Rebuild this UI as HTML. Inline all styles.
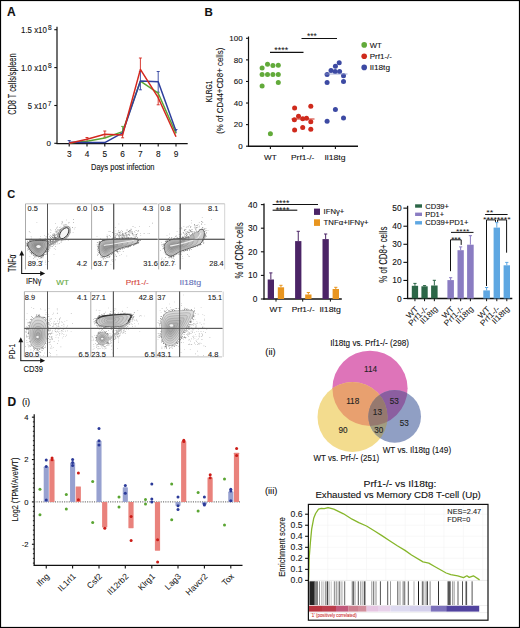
<!DOCTYPE html>
<html><head><meta charset="utf-8"><style>
html,body{margin:0;padding:0;background:#fff;}
#fig{position:absolute;left:0;top:0;width:520px;height:628px;overflow:hidden;background:#fff;}
svg{display:block;font-family:"Liberation Sans", sans-serif;}
</style></head><body><div id="fig">
<svg width="520" height="628" viewBox="0 0 520 628" fill="#111">
<rect x="0.5" y="0.5" width="519" height="627" fill="#fff" stroke="#000" stroke-width="1.2"/>
<text x="7.00" y="15.60" font-size="12.0" stroke="#111" stroke-width="0.1" font-weight="bold">A</text>
<line x1="57.00" y1="26.70" x2="57.00" y2="143.60" stroke="#111" stroke-width="1.2"/>
<line x1="54.30" y1="143.30" x2="57.00" y2="143.30" stroke="#111" stroke-width="1.1"/>
<line x1="54.30" y1="105.50" x2="57.00" y2="105.50" stroke="#111" stroke-width="1.1"/>
<line x1="54.30" y1="67.60" x2="57.00" y2="67.60" stroke="#111" stroke-width="1.1"/>
<line x1="54.30" y1="29.70" x2="57.00" y2="29.70" stroke="#111" stroke-width="1.1"/>
<text x="46.90" y="32.54" font-size="8.2" text-anchor="end" stroke="#111" stroke-width="0.1" textLength="25.9" lengthAdjust="spacingAndGlyphs">1.5 x10</text>
<text x="51.70" y="30.16" font-size="6.6" text-anchor="end" stroke="#111" stroke-width="0.1">8</text>
<text x="46.90" y="70.64" font-size="8.2" text-anchor="end" stroke="#111" stroke-width="0.1" textLength="25.9" lengthAdjust="spacingAndGlyphs">1.0 x10</text>
<text x="51.70" y="68.26" font-size="6.6" text-anchor="end" stroke="#111" stroke-width="0.1">8</text>
<text x="46.70" y="108.54" font-size="8.2" text-anchor="end" stroke="#111" stroke-width="0.1" textLength="18.9" lengthAdjust="spacingAndGlyphs">5 x10</text>
<text x="51.50" y="106.16" font-size="6.6" text-anchor="end" stroke="#111" stroke-width="0.1">7</text>
<text x="51.00" y="145.96" font-size="8" text-anchor="end" stroke="#111" stroke-width="0.1">0</text>
<line x1="56.40" y1="143.60" x2="187.70" y2="143.60" stroke="#111" stroke-width="1.4"/>
<line x1="69.20" y1="143.60" x2="69.20" y2="146.40" stroke="#111" stroke-width="1.1"/>
<text x="69.20" y="157.27" font-size="8.3" text-anchor="middle" stroke="#111" stroke-width="0.1">3</text>
<line x1="87.00" y1="143.60" x2="87.00" y2="146.40" stroke="#111" stroke-width="1.1"/>
<text x="87.00" y="157.27" font-size="8.3" text-anchor="middle" stroke="#111" stroke-width="0.1">4</text>
<line x1="104.80" y1="143.60" x2="104.80" y2="146.40" stroke="#111" stroke-width="1.1"/>
<text x="104.80" y="157.27" font-size="8.3" text-anchor="middle" stroke="#111" stroke-width="0.1">5</text>
<line x1="122.60" y1="143.60" x2="122.60" y2="146.40" stroke="#111" stroke-width="1.1"/>
<text x="122.60" y="157.27" font-size="8.3" text-anchor="middle" stroke="#111" stroke-width="0.1">6</text>
<line x1="140.40" y1="143.60" x2="140.40" y2="146.40" stroke="#111" stroke-width="1.1"/>
<text x="140.40" y="157.27" font-size="8.3" text-anchor="middle" stroke="#111" stroke-width="0.1">7</text>
<line x1="158.20" y1="143.60" x2="158.20" y2="146.40" stroke="#111" stroke-width="1.1"/>
<text x="158.20" y="157.27" font-size="8.3" text-anchor="middle" stroke="#111" stroke-width="0.1">8</text>
<line x1="176.00" y1="143.60" x2="176.00" y2="146.40" stroke="#111" stroke-width="1.1"/>
<text x="176.00" y="157.27" font-size="8.3" text-anchor="middle" stroke="#111" stroke-width="0.1">9</text>
<text x="91.00" y="170.34" font-size="8.2" stroke="#111" stroke-width="0.1" textLength="63.5" lengthAdjust="spacingAndGlyphs">Days post infection</text>
<text x="11.95" y="87.92" font-size="10.4" text-anchor="middle" stroke="#111" stroke-width="0.1" textLength="61.3" lengthAdjust="spacingAndGlyphs" transform="rotate(-90 11.95 84.20)">CD8 T cells/spleen</text>
<line x1="140.40" y1="58.00" x2="140.40" y2="70.00" stroke="#d4281f" stroke-width="0.9"/>
<line x1="138.90" y1="58.00" x2="141.90" y2="58.00" stroke="#d4281f" stroke-width="0.9"/>
<line x1="140.40" y1="71.50" x2="140.40" y2="89.80" stroke="#2e3f9d" stroke-width="0.9"/>
<line x1="138.90" y1="71.50" x2="141.90" y2="71.50" stroke="#2e3f9d" stroke-width="0.9"/>
<line x1="138.90" y1="89.80" x2="141.90" y2="89.80" stroke="#2e3f9d" stroke-width="0.9"/>
<line x1="158.20" y1="71.50" x2="158.20" y2="92.20" stroke="#2e3f9d" stroke-width="0.9"/>
<line x1="156.70" y1="71.50" x2="159.70" y2="71.50" stroke="#2e3f9d" stroke-width="0.9"/>
<line x1="156.70" y1="92.20" x2="159.70" y2="92.20" stroke="#2e3f9d" stroke-width="0.9"/>
<line x1="158.20" y1="92.50" x2="158.20" y2="104.80" stroke="#d4281f" stroke-width="0.9"/>
<line x1="156.70" y1="104.80" x2="159.70" y2="104.80" stroke="#d4281f" stroke-width="0.9"/>
<line x1="122.60" y1="126.40" x2="122.60" y2="131.00" stroke="#5ba532" stroke-width="0.9"/>
<line x1="121.10" y1="126.40" x2="124.10" y2="126.40" stroke="#5ba532" stroke-width="0.9"/>
<line x1="122.60" y1="133.00" x2="122.60" y2="137.80" stroke="#d4281f" stroke-width="0.9"/>
<line x1="121.10" y1="137.80" x2="124.10" y2="137.80" stroke="#d4281f" stroke-width="0.9"/>
<line x1="104.80" y1="131.00" x2="104.80" y2="137.20" stroke="#d4281f" stroke-width="0.9"/>
<line x1="103.30" y1="131.00" x2="106.30" y2="131.00" stroke="#d4281f" stroke-width="0.9"/>
<line x1="103.30" y1="137.20" x2="106.30" y2="137.20" stroke="#d4281f" stroke-width="0.9"/>
<line x1="87.00" y1="137.50" x2="87.00" y2="141.00" stroke="#d4281f" stroke-width="0.9"/>
<line x1="85.50" y1="137.50" x2="88.50" y2="137.50" stroke="#d4281f" stroke-width="0.9"/>
<line x1="69.20" y1="140.50" x2="69.20" y2="144.00" stroke="#2e3f9d" stroke-width="0.9"/>
<line x1="67.70" y1="140.50" x2="70.70" y2="140.50" stroke="#2e3f9d" stroke-width="0.9"/>
<line x1="176.00" y1="129.50" x2="176.00" y2="133.00" stroke="#2e3f9d" stroke-width="0.9"/>
<line x1="174.50" y1="129.50" x2="177.50" y2="129.50" stroke="#2e3f9d" stroke-width="0.9"/>
<path d="M69.20,143.00 L87.00,141.30 L104.80,138.00 L122.60,131.60 L140.40,81.20 L158.20,93.20 L176.00,133.50" stroke="#5ba532" stroke-width="1.5" fill="none" stroke-linejoin="round"/>
<path d="M69.20,142.30 L87.00,142.60 L104.80,142.60 L122.60,132.90 L140.40,81.00 L158.20,81.80 L176.00,131.10" stroke="#2e3f9d" stroke-width="1.5" fill="none" stroke-linejoin="round"/>
<path d="M69.20,143.20 L87.00,139.20 L104.80,134.20 L122.60,135.00 L140.40,69.40 L158.20,97.70 L176.00,136.70" stroke="#d4281f" stroke-width="1.5" fill="none" stroke-linejoin="round"/>
<text x="204.50" y="16.02" font-size="11.5" stroke="#111" stroke-width="0.1" font-weight="bold">B</text>
<line x1="248.50" y1="36.50" x2="248.50" y2="146.60" stroke="#111" stroke-width="1.2"/>
<line x1="246.00" y1="146.20" x2="248.50" y2="146.20" stroke="#111" stroke-width="1.1"/>
<text x="242.60" y="149.06" font-size="8.0" text-anchor="end" stroke="#111" stroke-width="0.1">0</text>
<line x1="246.00" y1="124.62" x2="248.50" y2="124.62" stroke="#111" stroke-width="1.1"/>
<text x="242.60" y="127.48" font-size="8.0" text-anchor="end" stroke="#111" stroke-width="0.1">20</text>
<line x1="246.00" y1="103.04" x2="248.50" y2="103.04" stroke="#111" stroke-width="1.1"/>
<text x="242.60" y="105.90" font-size="8.0" text-anchor="end" stroke="#111" stroke-width="0.1">40</text>
<line x1="246.00" y1="81.46" x2="248.50" y2="81.46" stroke="#111" stroke-width="1.1"/>
<text x="242.60" y="84.32" font-size="8.0" text-anchor="end" stroke="#111" stroke-width="0.1">60</text>
<line x1="246.00" y1="59.88" x2="248.50" y2="59.88" stroke="#111" stroke-width="1.1"/>
<text x="242.60" y="62.74" font-size="8.0" text-anchor="end" stroke="#111" stroke-width="0.1">80</text>
<line x1="246.00" y1="38.30" x2="248.50" y2="38.30" stroke="#111" stroke-width="1.1"/>
<text x="242.60" y="41.16" font-size="8.0" text-anchor="end" stroke="#111" stroke-width="0.1">100</text>
<line x1="247.90" y1="146.30" x2="358.00" y2="146.30" stroke="#111" stroke-width="1.4"/>
<line x1="270.40" y1="146.30" x2="270.40" y2="149.00" stroke="#111" stroke-width="1.1"/>
<line x1="302.70" y1="146.30" x2="302.70" y2="149.00" stroke="#111" stroke-width="1.1"/>
<line x1="335.40" y1="146.30" x2="335.40" y2="149.00" stroke="#111" stroke-width="1.1"/>
<text x="270.40" y="160.13" font-size="7.9" text-anchor="middle" stroke="#111" stroke-width="0.1" textLength="12.6" lengthAdjust="spacingAndGlyphs">WT</text>
<text x="302.70" y="160.13" font-size="7.9" text-anchor="middle" stroke="#111" stroke-width="0.1" textLength="23.4" lengthAdjust="spacingAndGlyphs">Prf1-/-</text>
<text x="335.00" y="160.13" font-size="7.9" text-anchor="middle" stroke="#111" stroke-width="0.1" textLength="21.2" lengthAdjust="spacingAndGlyphs">Il18tg</text>
<text x="208.30" y="94.84" font-size="9.6" text-anchor="middle" stroke="#111" stroke-width="0.1" textLength="21.6" lengthAdjust="spacingAndGlyphs" transform="rotate(-90 208.30 91.40)">KLRG1</text>
<text x="220.20" y="93.97" font-size="9.0" text-anchor="middle" stroke="#111" stroke-width="0.1" textLength="86.2" lengthAdjust="spacingAndGlyphs" transform="rotate(-90 220.20 90.75)">(% of CD44+CD8+ cells)</text>
<circle cx="262.10" cy="68.10" r="2.5" fill="#62aa3a"/>
<circle cx="267.50" cy="64.20" r="2.5" fill="#62aa3a"/>
<circle cx="272.90" cy="65.60" r="2.5" fill="#62aa3a"/>
<circle cx="278.30" cy="65.20" r="2.5" fill="#62aa3a"/>
<circle cx="262.10" cy="74.40" r="2.5" fill="#62aa3a"/>
<circle cx="267.50" cy="74.40" r="2.5" fill="#62aa3a"/>
<circle cx="272.90" cy="74.40" r="2.5" fill="#62aa3a"/>
<circle cx="278.30" cy="74.40" r="2.5" fill="#62aa3a"/>
<circle cx="278.30" cy="82.50" r="2.5" fill="#62aa3a"/>
<circle cx="262.10" cy="86.00" r="2.5" fill="#62aa3a"/>
<circle cx="270.40" cy="133.70" r="2.5" fill="#62aa3a"/>
<circle cx="294.60" cy="107.90" r="2.5" fill="#cf2a1c"/>
<circle cx="310.80" cy="106.30" r="2.5" fill="#cf2a1c"/>
<circle cx="298.50" cy="116.30" r="2.5" fill="#cf2a1c"/>
<circle cx="294.40" cy="119.80" r="2.5" fill="#cf2a1c"/>
<circle cx="302.70" cy="118.80" r="2.5" fill="#cf2a1c"/>
<circle cx="306.50" cy="118.30" r="2.5" fill="#cf2a1c"/>
<circle cx="310.80" cy="121.70" r="2.5" fill="#cf2a1c"/>
<circle cx="294.60" cy="130.00" r="2.5" fill="#cf2a1c"/>
<circle cx="302.70" cy="127.50" r="2.5" fill="#cf2a1c"/>
<circle cx="310.80" cy="129.20" r="2.5" fill="#cf2a1c"/>
<line x1="291.50" y1="119.00" x2="314.50" y2="119.00" stroke="#cf2a1c" stroke-width="1.0"/>
<circle cx="339.20" cy="62.70" r="2.5" fill="#3d4aa3"/>
<circle cx="335.40" cy="66.20" r="2.5" fill="#3d4aa3"/>
<circle cx="331.00" cy="70.60" r="2.5" fill="#3d4aa3"/>
<circle cx="335.20" cy="71.50" r="2.5" fill="#3d4aa3"/>
<circle cx="339.60" cy="71.50" r="2.5" fill="#3d4aa3"/>
<circle cx="327.10" cy="74.40" r="2.5" fill="#3d4aa3"/>
<circle cx="343.50" cy="75.80" r="2.5" fill="#3d4aa3"/>
<circle cx="327.10" cy="82.50" r="2.5" fill="#3d4aa3"/>
<circle cx="343.50" cy="81.50" r="2.5" fill="#3d4aa3"/>
<circle cx="335.40" cy="109.60" r="2.5" fill="#3d4aa3"/>
<circle cx="327.10" cy="121.30" r="2.5" fill="#3d4aa3"/>
<circle cx="343.50" cy="117.90" r="2.5" fill="#3d4aa3"/>
<line x1="324.50" y1="74.00" x2="347.50" y2="74.00" stroke="#8c96c8" stroke-width="0.8"/>
<line x1="270.00" y1="52.40" x2="303.50" y2="52.40" stroke="#111" stroke-width="1.1"/>
<text x="274.15" y="53.34" font-size="8.5" fill="#111" textLength="14.00" lengthAdjust="spacingAndGlyphs">****</text>
<line x1="301.50" y1="38.50" x2="337.00" y2="38.50" stroke="#111" stroke-width="1.1"/>
<text x="306.95" y="39.45" font-size="8.5" fill="#111" textLength="9.90" lengthAdjust="spacingAndGlyphs">***</text>
<circle cx="364.20" cy="44.90" r="2.8" fill="#62aa3a"/>
<text x="369.80" y="47.62" font-size="7.6" stroke="#111" stroke-width="0.1" textLength="12.0" lengthAdjust="spacingAndGlyphs">WT</text>
<circle cx="364.20" cy="56.20" r="2.8" fill="#cf2a1c"/>
<text x="369.80" y="58.92" font-size="7.6" stroke="#111" stroke-width="0.1" textLength="22.2" lengthAdjust="spacingAndGlyphs">Prf1-/-</text>
<circle cx="364.20" cy="67.40" r="2.8" fill="#3d4aa3"/>
<text x="369.80" y="70.12" font-size="7.6" stroke="#111" stroke-width="0.1" textLength="20.2" lengthAdjust="spacingAndGlyphs">Il18tg</text>
<text x="7.20" y="197.54" font-size="11.0" stroke="#111" stroke-width="0.1" font-weight="bold">C</text>
<line x1="224.70" y1="203.80" x2="224.70" y2="269.40" stroke="#d0d0d0" stroke-width="0.9"/>
<line x1="25.50" y1="203.80" x2="91.50" y2="203.80" stroke="#b8b8b8" stroke-width="0.9"/>
<line x1="25.50" y1="203.80" x2="25.50" y2="269.40" stroke="#a0a0a0" stroke-width="0.9"/>
<line x1="47.50" y1="203.80" x2="47.50" y2="269.40" stroke="#555" stroke-width="0.9"/>
<line x1="25.50" y1="239.30" x2="91.50" y2="239.30" stroke="#555" stroke-width="0.9"/>
<line x1="91.60" y1="203.80" x2="157.60" y2="203.80" stroke="#b8b8b8" stroke-width="0.9"/>
<line x1="91.60" y1="203.80" x2="91.60" y2="269.40" stroke="#a0a0a0" stroke-width="0.9"/>
<line x1="113.70" y1="203.80" x2="113.70" y2="269.40" stroke="#555" stroke-width="0.9"/>
<line x1="91.60" y1="239.30" x2="157.60" y2="239.30" stroke="#555" stroke-width="0.9"/>
<line x1="158.70" y1="203.80" x2="224.70" y2="203.80" stroke="#b8b8b8" stroke-width="0.9"/>
<line x1="158.70" y1="203.80" x2="158.70" y2="269.40" stroke="#a0a0a0" stroke-width="0.9"/>
<line x1="180.20" y1="203.80" x2="180.20" y2="269.40" stroke="#555" stroke-width="0.9"/>
<line x1="158.70" y1="239.30" x2="224.70" y2="239.30" stroke="#555" stroke-width="0.9"/>
<path d="M55.5,239.2h0.6v0.6h-0.6zM54.3,237.4h0.6v0.6h-0.6zM50.7,240.8h0.6v0.6h-0.6zM62.7,232.8h0.6v0.6h-0.6zM62.0,232.8h0.6v0.6h-0.6zM58.4,235.6h0.6v0.6h-0.6zM48.5,246.2h0.6v0.6h-0.6zM59.5,235.7h0.6v0.6h-0.6zM44.0,241.1h0.6v0.6h-0.6zM50.4,240.1h0.6v0.6h-0.6zM57.6,235.5h0.6v0.6h-0.6zM57.7,233.4h0.6v0.6h-0.6zM58.3,236.4h0.6v0.6h-0.6zM55.3,243.4h0.6v0.6h-0.6zM61.0,236.9h0.6v0.6h-0.6zM51.4,238.3h0.6v0.6h-0.6zM54.0,238.3h0.6v0.6h-0.6zM59.8,234.7h0.6v0.6h-0.6zM52.0,237.1h0.6v0.6h-0.6zM55.2,241.8h0.6v0.6h-0.6zM52.1,241.1h0.6v0.6h-0.6zM55.8,232.1h0.6v0.6h-0.6zM58.4,239.4h0.6v0.6h-0.6zM44.7,245.4h0.6v0.6h-0.6zM54.1,235.8h0.6v0.6h-0.6zM58.6,234.6h0.6v0.6h-0.6zM49.5,245.2h0.6v0.6h-0.6zM61.2,235.9h0.6v0.6h-0.6zM64.3,231.2h0.6v0.6h-0.6zM54.5,233.9h0.6v0.6h-0.6zM58.3,233.0h0.6v0.6h-0.6zM51.5,236.5h0.6v0.6h-0.6zM49.9,240.3h0.6v0.6h-0.6zM59.5,227.2h0.6v0.6h-0.6zM48.6,244.0h0.6v0.6h-0.6zM64.7,231.7h0.6v0.6h-0.6zM41.6,240.5h0.6v0.6h-0.6zM56.7,233.9h0.6v0.6h-0.6zM51.6,244.0h0.6v0.6h-0.6zM62.2,232.4h0.6v0.6h-0.6zM58.0,236.8h0.6v0.6h-0.6zM65.6,231.1h0.6v0.6h-0.6zM59.7,235.8h0.6v0.6h-0.6zM49.7,246.6h0.6v0.6h-0.6zM62.0,233.8h0.6v0.6h-0.6zM44.4,244.6h0.6v0.6h-0.6zM57.5,229.6h0.6v0.6h-0.6zM56.7,239.9h0.6v0.6h-0.6zM51.7,246.1h0.6v0.6h-0.6zM58.7,234.2h0.6v0.6h-0.6zM58.8,236.8h0.6v0.6h-0.6zM58.6,238.7h0.6v0.6h-0.6zM51.8,239.2h0.6v0.6h-0.6zM61.6,232.4h0.6v0.6h-0.6zM52.9,242.8h0.6v0.6h-0.6zM63.1,229.5h0.6v0.6h-0.6zM48.4,242.9h0.6v0.6h-0.6zM54.7,237.1h0.6v0.6h-0.6zM61.8,228.6h0.6v0.6h-0.6zM60.6,228.8h0.6v0.6h-0.6zM52.8,241.8h0.6v0.6h-0.6zM63.5,233.6h0.6v0.6h-0.6zM58.1,235.7h0.6v0.6h-0.6zM57.8,237.5h0.6v0.6h-0.6zM55.5,238.3h0.6v0.6h-0.6zM59.1,234.4h0.6v0.6h-0.6zM61.0,234.7h0.6v0.6h-0.6zM67.3,228.6h0.6v0.6h-0.6zM53.1,238.2h0.6v0.6h-0.6zM57.5,238.9h0.6v0.6h-0.6zM54.8,239.3h0.6v0.6h-0.6zM61.6,223.6h0.6v0.6h-0.6zM50.4,242.5h0.6v0.6h-0.6zM58.5,235.7h0.6v0.6h-0.6zM54.8,240.2h0.6v0.6h-0.6zM56.6,234.7h0.6v0.6h-0.6zM69.6,226.8h0.6v0.6h-0.6zM52.9,239.3h0.6v0.6h-0.6zM54.7,237.9h0.6v0.6h-0.6zM40.6,248.3h0.6v0.6h-0.6zM59.5,230.1h0.6v0.6h-0.6zM57.2,239.2h0.6v0.6h-0.6zM63.1,236.1h0.6v0.6h-0.6zM46.3,244.0h0.6v0.6h-0.6zM55.2,239.8h0.6v0.6h-0.6zM57.4,226.7h0.6v0.6h-0.6zM59.4,229.2h0.6v0.6h-0.6zM57.2,231.0h0.6v0.6h-0.6zM58.9,238.6h0.6v0.6h-0.6zM55.5,238.1h0.6v0.6h-0.6zM60.5,233.7h0.6v0.6h-0.6zM58.1,240.5h0.6v0.6h-0.6zM61.1,231.7h0.6v0.6h-0.6zM68.8,222.4h0.6v0.6h-0.6zM60.5,232.4h0.6v0.6h-0.6zM57.9,237.8h0.6v0.6h-0.6zM58.3,237.3h0.6v0.6h-0.6zM45.3,240.9h0.6v0.6h-0.6zM57.7,232.3h0.6v0.6h-0.6zM48.0,238.7h0.6v0.6h-0.6zM64.0,232.8h0.6v0.6h-0.6zM62.3,228.5h0.6v0.6h-0.6zM54.1,234.7h0.6v0.6h-0.6zM62.8,236.7h0.6v0.6h-0.6zM53.8,244.1h0.6v0.6h-0.6zM61.0,232.2h0.6v0.6h-0.6zM47.8,248.7h0.6v0.6h-0.6zM54.5,236.2h0.6v0.6h-0.6zM58.8,236.0h0.6v0.6h-0.6zM62.3,228.2h0.6v0.6h-0.6zM64.6,234.8h0.6v0.6h-0.6zM63.5,230.1h0.6v0.6h-0.6zM53.7,242.4h0.6v0.6h-0.6zM56.8,236.7h0.6v0.6h-0.6zM63.2,230.1h0.6v0.6h-0.6zM43.0,246.6h0.6v0.6h-0.6zM47.4,247.0h0.6v0.6h-0.6zM56.7,234.4h0.6v0.6h-0.6zM57.3,238.7h0.6v0.6h-0.6zM58.6,239.3h0.6v0.6h-0.6zM57.4,239.3h0.6v0.6h-0.6zM66.7,233.5h0.6v0.6h-0.6zM53.9,241.8h0.6v0.6h-0.6zM44.1,243.3h0.6v0.6h-0.6zM47.3,248.0h0.6v0.6h-0.6zM49.4,242.5h0.6v0.6h-0.6zM54.9,237.8h0.6v0.6h-0.6zM53.2,240.1h0.6v0.6h-0.6zM65.7,229.0h0.6v0.6h-0.6zM60.5,236.6h0.6v0.6h-0.6zM52.8,235.4h0.6v0.6h-0.6zM54.8,241.6h0.6v0.6h-0.6zM46.2,243.2h0.6v0.6h-0.6zM62.7,234.0h0.6v0.6h-0.6zM57.4,238.6h0.6v0.6h-0.6zM54.9,233.9h0.6v0.6h-0.6zM46.5,242.8h0.6v0.6h-0.6zM60.0,231.7h0.6v0.6h-0.6zM49.9,239.5h0.6v0.6h-0.6zM47.6,243.7h0.6v0.6h-0.6zM50.3,243.0h0.6v0.6h-0.6zM43.9,248.3h0.6v0.6h-0.6zM49.3,236.0h0.6v0.6h-0.6zM59.4,233.2h0.6v0.6h-0.6zM42.6,245.3h0.6v0.6h-0.6zM56.8,234.8h0.6v0.6h-0.6zM61.4,235.0h0.6v0.6h-0.6zM60.1,234.7h0.6v0.6h-0.6zM64.3,232.3h0.6v0.6h-0.6zM54.9,230.8h0.6v0.6h-0.6zM63.0,235.6h0.6v0.6h-0.6zM53.6,237.4h0.6v0.6h-0.6zM63.5,224.8h0.6v0.6h-0.6zM62.6,239.7h0.6v0.6h-0.6zM52.2,242.5h0.6v0.6h-0.6zM65.9,228.3h0.6v0.6h-0.6zM60.5,236.3h0.6v0.6h-0.6zM51.0,240.9h0.6v0.6h-0.6zM58.9,237.3h0.6v0.6h-0.6zM55.5,236.8h0.6v0.6h-0.6zM50.0,240.9h0.6v0.6h-0.6zM61.0,233.2h0.6v0.6h-0.6zM50.0,239.2h0.6v0.6h-0.6zM72.2,227.3h0.6v0.6h-0.6zM55.1,229.0h0.6v0.6h-0.6zM60.1,235.2h0.6v0.6h-0.6zM65.7,230.3h0.6v0.6h-0.6zM56.5,238.3h0.6v0.6h-0.6zM47.3,247.8h0.6v0.6h-0.6zM56.6,234.1h0.6v0.6h-0.6zM66.1,234.6h0.6v0.6h-0.6zM47.4,242.0h0.6v0.6h-0.6zM57.9,236.1h0.6v0.6h-0.6zM52.2,236.9h0.6v0.6h-0.6zM69.1,229.5h0.6v0.6h-0.6zM47.3,239.7h0.6v0.6h-0.6zM66.8,231.3h0.6v0.6h-0.6zM67.1,230.4h0.6v0.6h-0.6zM51.8,241.4h0.6v0.6h-0.6zM43.2,245.2h0.6v0.6h-0.6zM56.6,238.3h0.6v0.6h-0.6zM51.9,240.0h0.6v0.6h-0.6zM59.1,235.7h0.6v0.6h-0.6zM59.8,234.5h0.6v0.6h-0.6zM55.6,240.0h0.6v0.6h-0.6zM54.9,235.1h0.6v0.6h-0.6zM52.6,239.8h0.6v0.6h-0.6zM55.7,237.8h0.6v0.6h-0.6zM56.3,237.4h0.6v0.6h-0.6zM53.2,235.1h0.6v0.6h-0.6zM60.0,237.2h0.6v0.6h-0.6zM58.0,234.7h0.6v0.6h-0.6zM56.8,233.1h0.6v0.6h-0.6zM45.9,245.7h0.6v0.6h-0.6zM52.2,242.7h0.6v0.6h-0.6zM45.8,236.6h0.6v0.6h-0.6zM53.1,244.8h0.6v0.6h-0.6zM51.7,236.0h0.6v0.6h-0.6zM52.8,241.5h0.6v0.6h-0.6zM59.0,235.1h0.6v0.6h-0.6zM65.1,231.7h0.6v0.6h-0.6zM56.9,238.3h0.6v0.6h-0.6zM66.5,231.5h0.6v0.6h-0.6zM59.7,230.2h0.6v0.6h-0.6zM56.4,239.1h0.6v0.6h-0.6zM56.2,240.5h0.6v0.6h-0.6zM60.7,236.1h0.6v0.6h-0.6zM59.1,243.0h0.6v0.6h-0.6zM62.3,231.0h0.6v0.6h-0.6zM60.8,241.8h0.6v0.6h-0.6zM55.6,240.3h0.6v0.6h-0.6zM61.3,232.6h0.6v0.6h-0.6zM50.1,242.6h0.6v0.6h-0.6zM59.8,237.6h0.6v0.6h-0.6zM60.2,233.5h0.6v0.6h-0.6zM61.5,234.2h0.6v0.6h-0.6zM57.2,236.2h0.6v0.6h-0.6zM55.8,239.5h0.6v0.6h-0.6zM49.3,240.5h0.6v0.6h-0.6zM53.6,234.1h0.6v0.6h-0.6zM50.3,235.0h0.6v0.6h-0.6zM53.3,241.2h0.6v0.6h-0.6zM58.9,234.3h0.6v0.6h-0.6zM52.4,235.2h0.6v0.6h-0.6zM66.7,229.8h0.6v0.6h-0.6zM60.4,230.3h0.6v0.6h-0.6zM52.0,234.2h0.6v0.6h-0.6zM61.7,235.4h0.6v0.6h-0.6zM45.7,245.4h0.6v0.6h-0.6zM56.4,230.7h0.6v0.6h-0.6zM44.4,243.1h0.6v0.6h-0.6zM50.3,237.0h0.6v0.6h-0.6zM56.6,237.4h0.6v0.6h-0.6zM60.6,235.5h0.6v0.6h-0.6zM66.0,232.6h0.6v0.6h-0.6zM48.1,241.9h0.6v0.6h-0.6zM48.5,239.6h0.6v0.6h-0.6zM55.6,237.4h0.6v0.6h-0.6zM56.0,231.6h0.6v0.6h-0.6zM49.3,242.5h0.6v0.6h-0.6zM54.4,237.3h0.6v0.6h-0.6zM54.4,235.8h0.6v0.6h-0.6zM60.4,234.6h0.6v0.6h-0.6zM54.4,236.1h0.6v0.6h-0.6zM50.5,232.4h0.6v0.6h-0.6zM50.8,241.5h0.6v0.6h-0.6zM48.3,244.2h0.6v0.6h-0.6zM54.5,233.6h0.6v0.6h-0.6zM54.1,237.5h0.6v0.6h-0.6zM59.5,236.1h0.6v0.6h-0.6zM54.4,235.5h0.6v0.6h-0.6zM55.1,237.5h0.6v0.6h-0.6zM60.4,234.3h0.6v0.6h-0.6zM49.9,237.6h0.6v0.6h-0.6zM52.8,237.2h0.6v0.6h-0.6zM49.8,241.8h0.6v0.6h-0.6zM53.5,239.4h0.6v0.6h-0.6zM58.1,233.8h0.6v0.6h-0.6zM67.9,225.9h0.6v0.6h-0.6zM62.1,232.3h0.6v0.6h-0.6z" fill="#555"/>
<path d="M50.0,229.4h0.6v0.6h-0.6zM33.2,247.7h0.6v0.6h-0.6zM45.4,262.4h0.6v0.6h-0.6zM42.9,255.0h0.6v0.6h-0.6zM46.9,252.6h0.6v0.6h-0.6zM44.6,244.9h0.6v0.6h-0.6zM44.6,238.5h0.6v0.6h-0.6zM50.6,238.9h0.6v0.6h-0.6zM42.2,260.8h0.6v0.6h-0.6zM38.0,246.1h0.6v0.6h-0.6zM50.5,246.2h0.6v0.6h-0.6zM32.7,247.8h0.6v0.6h-0.6zM45.2,251.0h0.6v0.6h-0.6zM33.0,258.3h0.6v0.6h-0.6zM55.0,246.1h0.6v0.6h-0.6zM42.4,243.0h0.6v0.6h-0.6zM52.7,241.1h0.6v0.6h-0.6zM46.1,242.6h0.6v0.6h-0.6zM33.8,251.0h0.6v0.6h-0.6zM52.0,245.9h0.6v0.6h-0.6zM33.9,251.7h0.6v0.6h-0.6zM39.6,248.2h0.6v0.6h-0.6zM53.7,253.9h0.6v0.6h-0.6zM35.3,262.0h0.6v0.6h-0.6zM40.0,251.5h0.6v0.6h-0.6zM34.2,245.7h0.6v0.6h-0.6zM52.3,237.5h0.6v0.6h-0.6zM50.6,242.8h0.6v0.6h-0.6zM39.5,243.8h0.6v0.6h-0.6zM38.9,238.4h0.6v0.6h-0.6zM40.2,235.9h0.6v0.6h-0.6zM39.4,248.2h0.6v0.6h-0.6zM44.2,244.4h0.6v0.6h-0.6zM31.9,247.1h0.6v0.6h-0.6zM35.6,257.0h0.6v0.6h-0.6zM46.9,245.2h0.6v0.6h-0.6zM35.8,241.1h0.6v0.6h-0.6zM31.6,243.5h0.6v0.6h-0.6zM42.7,249.6h0.6v0.6h-0.6zM45.1,260.7h0.6v0.6h-0.6zM33.7,246.1h0.6v0.6h-0.6zM65.2,232.9h0.6v0.6h-0.6zM35.3,247.2h0.6v0.6h-0.6zM41.4,248.9h0.6v0.6h-0.6zM37.9,248.6h0.6v0.6h-0.6zM40.5,251.4h0.6v0.6h-0.6zM40.0,238.8h0.6v0.6h-0.6zM30.6,250.4h0.6v0.6h-0.6zM34.2,250.4h0.6v0.6h-0.6zM46.7,248.1h0.6v0.6h-0.6zM44.6,245.3h0.6v0.6h-0.6zM27.3,245.8h0.6v0.6h-0.6zM44.1,242.3h0.6v0.6h-0.6zM39.1,251.2h0.6v0.6h-0.6zM32.1,250.5h0.6v0.6h-0.6zM56.8,242.1h0.6v0.6h-0.6zM41.3,244.9h0.6v0.6h-0.6zM53.9,248.2h0.6v0.6h-0.6zM48.1,241.2h0.6v0.6h-0.6zM39.9,245.9h0.6v0.6h-0.6zM48.1,233.8h0.6v0.6h-0.6zM46.7,245.1h0.6v0.6h-0.6zM44.0,248.6h0.6v0.6h-0.6zM53.4,242.0h0.6v0.6h-0.6zM30.8,236.5h0.6v0.6h-0.6zM29.0,248.3h0.6v0.6h-0.6zM55.2,249.0h0.6v0.6h-0.6zM42.2,261.6h0.6v0.6h-0.6zM35.3,241.3h0.6v0.6h-0.6zM44.8,249.8h0.6v0.6h-0.6zM30.9,237.8h0.6v0.6h-0.6zM42.6,247.7h0.6v0.6h-0.6zM28.2,244.6h0.6v0.6h-0.6zM35.1,249.2h0.6v0.6h-0.6zM38.9,245.4h0.6v0.6h-0.6zM36.8,253.4h0.6v0.6h-0.6zM52.5,243.4h0.6v0.6h-0.6zM47.6,240.7h0.6v0.6h-0.6zM40.6,251.2h0.6v0.6h-0.6zM53.6,243.3h0.6v0.6h-0.6zM39.3,247.4h0.6v0.6h-0.6zM33.9,248.6h0.6v0.6h-0.6zM29.8,232.2h0.6v0.6h-0.6zM40.3,247.8h0.6v0.6h-0.6zM35.1,252.2h0.6v0.6h-0.6zM37.5,241.8h0.6v0.6h-0.6zM44.3,235.0h0.6v0.6h-0.6zM33.9,245.9h0.6v0.6h-0.6zM47.6,244.9h0.6v0.6h-0.6zM42.8,241.4h0.6v0.6h-0.6zM42.7,257.6h0.6v0.6h-0.6zM33.8,262.6h0.6v0.6h-0.6zM34.2,246.1h0.6v0.6h-0.6zM41.6,253.2h0.6v0.6h-0.6zM28.9,231.3h0.6v0.6h-0.6zM45.5,251.6h0.6v0.6h-0.6zM45.6,264.4h0.6v0.6h-0.6zM41.8,247.8h0.6v0.6h-0.6zM48.4,248.6h0.6v0.6h-0.6zM55.0,237.3h0.6v0.6h-0.6zM36.6,221.9h0.6v0.6h-0.6zM47.3,243.4h0.6v0.6h-0.6zM48.3,261.1h0.6v0.6h-0.6zM39.9,244.2h0.6v0.6h-0.6zM35.5,240.1h0.6v0.6h-0.6zM34.3,250.5h0.6v0.6h-0.6zM40.3,246.5h0.6v0.6h-0.6zM38.4,252.4h0.6v0.6h-0.6zM44.4,245.0h0.6v0.6h-0.6zM46.0,244.9h0.6v0.6h-0.6zM29.6,256.2h0.6v0.6h-0.6zM44.2,239.3h0.6v0.6h-0.6zM49.7,248.4h0.6v0.6h-0.6z" fill="#888"/>
<path d="M63.7,236.5h0.6v0.6h-0.6zM63.0,231.3h0.6v0.6h-0.6zM54.3,236.9h0.6v0.6h-0.6zM62.2,230.6h0.6v0.6h-0.6zM63.8,232.4h0.6v0.6h-0.6zM65.4,230.1h0.6v0.6h-0.6zM61.8,221.3h0.6v0.6h-0.6zM59.9,235.4h0.6v0.6h-0.6zM68.7,230.2h0.6v0.6h-0.6zM61.4,239.9h0.6v0.6h-0.6zM60.4,235.7h0.6v0.6h-0.6zM70.4,232.2h0.6v0.6h-0.6zM68.1,228.4h0.6v0.6h-0.6zM63.0,231.6h0.6v0.6h-0.6zM62.6,237.6h0.6v0.6h-0.6zM73.9,228.7h0.6v0.6h-0.6zM59.1,234.5h0.6v0.6h-0.6zM56.7,234.5h0.6v0.6h-0.6zM64.9,230.6h0.6v0.6h-0.6zM64.7,224.3h0.6v0.6h-0.6zM65.8,224.3h0.6v0.6h-0.6zM58.5,229.2h0.6v0.6h-0.6zM60.0,236.3h0.6v0.6h-0.6zM62.4,230.0h0.6v0.6h-0.6zM64.7,239.9h0.6v0.6h-0.6zM62.0,233.8h0.6v0.6h-0.6zM68.2,233.3h0.6v0.6h-0.6zM55.6,244.5h0.6v0.6h-0.6zM73.0,222.1h0.6v0.6h-0.6zM61.8,234.1h0.6v0.6h-0.6zM66.8,235.3h0.6v0.6h-0.6zM60.6,226.7h0.6v0.6h-0.6zM62.5,237.2h0.6v0.6h-0.6zM56.6,226.9h0.6v0.6h-0.6zM61.9,222.3h0.6v0.6h-0.6zM60.7,229.8h0.6v0.6h-0.6zM64.3,228.5h0.6v0.6h-0.6zM57.6,230.0h0.6v0.6h-0.6zM61.8,228.7h0.6v0.6h-0.6zM62.1,235.8h0.6v0.6h-0.6zM67.9,240.5h0.6v0.6h-0.6zM58.1,229.9h0.6v0.6h-0.6zM49.6,241.5h0.6v0.6h-0.6zM58.4,231.8h0.6v0.6h-0.6zM64.6,225.2h0.6v0.6h-0.6zM64.3,231.9h0.6v0.6h-0.6zM52.9,233.5h0.6v0.6h-0.6zM68.0,222.7h0.6v0.6h-0.6zM66.0,233.0h0.6v0.6h-0.6zM64.4,234.2h0.6v0.6h-0.6zM68.5,230.9h0.6v0.6h-0.6zM66.4,230.0h0.6v0.6h-0.6zM65.6,227.9h0.6v0.6h-0.6zM61.5,240.7h0.6v0.6h-0.6zM64.2,231.2h0.6v0.6h-0.6zM56.3,228.0h0.6v0.6h-0.6zM63.0,236.7h0.6v0.6h-0.6zM64.1,234.6h0.6v0.6h-0.6zM61.8,238.8h0.6v0.6h-0.6zM60.0,229.3h0.6v0.6h-0.6zM66.4,232.3h0.6v0.6h-0.6zM60.6,229.1h0.6v0.6h-0.6zM60.7,235.1h0.6v0.6h-0.6zM63.8,226.0h0.6v0.6h-0.6zM64.1,232.9h0.6v0.6h-0.6zM57.0,235.9h0.6v0.6h-0.6zM60.6,230.3h0.6v0.6h-0.6zM66.0,238.6h0.6v0.6h-0.6zM58.6,234.2h0.6v0.6h-0.6zM57.6,243.6h0.6v0.6h-0.6zM59.5,238.0h0.6v0.6h-0.6zM58.8,236.1h0.6v0.6h-0.6zM73.1,219.3h0.6v0.6h-0.6zM59.8,234.5h0.6v0.6h-0.6zM61.5,228.7h0.6v0.6h-0.6zM72.8,232.4h0.6v0.6h-0.6zM53.8,236.3h0.6v0.6h-0.6zM53.4,237.8h0.6v0.6h-0.6zM59.1,232.7h0.6v0.6h-0.6zM68.3,232.6h0.6v0.6h-0.6zM55.0,223.5h0.6v0.6h-0.6zM67.9,235.7h0.6v0.6h-0.6zM57.9,236.3h0.6v0.6h-0.6zM64.5,235.2h0.6v0.6h-0.6zM50.7,230.5h0.6v0.6h-0.6zM66.5,235.7h0.6v0.6h-0.6zM66.4,219.7h0.6v0.6h-0.6zM62.8,234.5h0.6v0.6h-0.6zM74.8,227.2h0.6v0.6h-0.6zM60.4,232.2h0.6v0.6h-0.6z" fill="#777"/>
<path d="M30.0,252.1h0.6v0.6h-0.6zM27.6,242.4h0.6v0.6h-0.6zM47.1,240.9h0.6v0.6h-0.6zM46.6,252.2h0.6v0.6h-0.6zM45.3,240.2h0.6v0.6h-0.6zM33.4,240.8h0.6v0.6h-0.6zM27.1,243.9h0.6v0.6h-0.6zM42.0,255.5h0.6v0.6h-0.6zM42.7,256.5h0.6v0.6h-0.6zM26.3,243.8h0.6v0.6h-0.6zM45.2,251.0h0.6v0.6h-0.6zM38.4,239.9h0.6v0.6h-0.6zM38.8,255.6h0.6v0.6h-0.6zM30.8,240.1h0.6v0.6h-0.6zM32.3,240.8h0.6v0.6h-0.6zM42.4,239.9h0.6v0.6h-0.6zM47.0,247.0h0.6v0.6h-0.6zM43.1,255.3h0.6v0.6h-0.6zM46.2,240.7h0.6v0.6h-0.6zM46.9,250.1h0.6v0.6h-0.6zM45.7,249.6h0.6v0.6h-0.6zM46.1,249.5h0.6v0.6h-0.6zM25.8,245.6h0.6v0.6h-0.6zM27.2,244.5h0.6v0.6h-0.6zM39.7,241.0h0.6v0.6h-0.6zM27.6,241.2h0.6v0.6h-0.6zM31.5,253.9h0.6v0.6h-0.6zM47.7,243.7h0.6v0.6h-0.6zM29.5,242.3h0.6v0.6h-0.6zM46.5,246.3h0.6v0.6h-0.6zM45.0,251.8h0.6v0.6h-0.6zM38.4,239.2h0.6v0.6h-0.6zM43.4,255.1h0.6v0.6h-0.6zM49.4,245.0h0.6v0.6h-0.6zM48.0,247.5h0.6v0.6h-0.6zM43.8,240.8h0.6v0.6h-0.6zM47.9,251.3h0.6v0.6h-0.6zM29.0,249.7h0.6v0.6h-0.6zM33.4,253.7h0.6v0.6h-0.6zM34.1,240.5h0.6v0.6h-0.6zM27.1,243.0h0.6v0.6h-0.6zM36.0,239.9h0.6v0.6h-0.6zM33.3,241.5h0.6v0.6h-0.6zM49.1,244.2h0.6v0.6h-0.6zM46.1,254.0h0.6v0.6h-0.6zM46.2,238.9h0.6v0.6h-0.6zM47.0,241.6h0.6v0.6h-0.6zM45.7,251.8h0.6v0.6h-0.6zM27.5,249.8h0.6v0.6h-0.6zM37.8,255.5h0.6v0.6h-0.6zM27.2,248.2h0.6v0.6h-0.6zM32.4,253.6h0.6v0.6h-0.6zM36.1,239.1h0.6v0.6h-0.6zM41.8,240.1h0.6v0.6h-0.6zM27.8,249.5h0.6v0.6h-0.6zM37.4,258.9h0.6v0.6h-0.6zM27.8,245.8h0.6v0.6h-0.6zM29.0,243.6h0.6v0.6h-0.6zM31.6,251.7h0.6v0.6h-0.6zM47.9,246.9h0.6v0.6h-0.6zM46.3,241.8h0.6v0.6h-0.6zM40.9,257.3h0.6v0.6h-0.6zM46.7,249.6h0.6v0.6h-0.6zM35.8,254.5h0.6v0.6h-0.6zM47.9,241.9h0.6v0.6h-0.6zM27.1,240.7h0.6v0.6h-0.6zM45.3,238.4h0.6v0.6h-0.6zM39.8,241.3h0.6v0.6h-0.6zM43.7,254.3h0.6v0.6h-0.6zM37.0,255.4h0.6v0.6h-0.6zM44.3,253.8h0.6v0.6h-0.6zM48.0,246.8h0.6v0.6h-0.6zM39.6,258.0h0.6v0.6h-0.6zM33.5,252.6h0.6v0.6h-0.6zM49.3,247.6h0.6v0.6h-0.6zM47.0,246.0h0.6v0.6h-0.6zM35.9,255.3h0.6v0.6h-0.6zM48.4,241.4h0.6v0.6h-0.6zM43.5,238.9h0.6v0.6h-0.6zM45.9,241.6h0.6v0.6h-0.6zM27.8,245.6h0.6v0.6h-0.6zM43.0,239.8h0.6v0.6h-0.6zM44.7,240.6h0.6v0.6h-0.6zM29.4,241.0h0.6v0.6h-0.6zM36.7,255.3h0.6v0.6h-0.6zM29.8,240.0h0.6v0.6h-0.6zM33.0,254.7h0.6v0.6h-0.6zM26.6,243.1h0.6v0.6h-0.6zM42.5,239.8h0.6v0.6h-0.6zM45.4,250.9h0.6v0.6h-0.6zM40.1,239.3h0.6v0.6h-0.6zM30.5,249.9h0.6v0.6h-0.6zM48.0,248.9h0.6v0.6h-0.6zM39.0,254.9h0.6v0.6h-0.6zM47.0,239.8h0.6v0.6h-0.6zM40.1,256.2h0.6v0.6h-0.6zM47.7,246.7h0.6v0.6h-0.6zM27.5,241.8h0.6v0.6h-0.6zM32.8,252.7h0.6v0.6h-0.6zM44.2,251.4h0.6v0.6h-0.6zM32.5,240.7h0.6v0.6h-0.6zM28.4,242.7h0.6v0.6h-0.6zM27.8,244.9h0.6v0.6h-0.6zM40.3,238.7h0.6v0.6h-0.6zM45.7,252.0h0.6v0.6h-0.6zM48.3,249.6h0.6v0.6h-0.6zM31.5,252.6h0.6v0.6h-0.6zM47.0,242.5h0.6v0.6h-0.6zM42.0,255.0h0.6v0.6h-0.6zM48.7,249.8h0.6v0.6h-0.6zM27.5,241.8h0.6v0.6h-0.6zM47.6,240.9h0.6v0.6h-0.6zM35.2,239.9h0.6v0.6h-0.6zM47.4,241.0h0.6v0.6h-0.6zM27.9,247.4h0.6v0.6h-0.6zM48.3,241.3h0.6v0.6h-0.6zM28.0,246.4h0.6v0.6h-0.6zM40.8,239.9h0.6v0.6h-0.6zM42.3,240.3h0.6v0.6h-0.6zM43.3,240.0h0.6v0.6h-0.6zM30.9,252.8h0.6v0.6h-0.6zM41.6,240.8h0.6v0.6h-0.6zM34.8,255.6h0.6v0.6h-0.6zM42.0,255.0h0.6v0.6h-0.6zM28.9,247.4h0.6v0.6h-0.6zM27.5,243.5h0.6v0.6h-0.6zM45.4,250.6h0.6v0.6h-0.6zM42.2,255.5h0.6v0.6h-0.6zM39.3,256.4h0.6v0.6h-0.6zM28.3,247.7h0.6v0.6h-0.6zM27.7,241.7h0.6v0.6h-0.6zM46.5,251.1h0.6v0.6h-0.6zM41.2,256.6h0.6v0.6h-0.6zM35.5,255.2h0.6v0.6h-0.6zM31.3,253.3h0.6v0.6h-0.6zM32.4,252.3h0.6v0.6h-0.6zM32.2,252.4h0.6v0.6h-0.6zM49.1,241.5h0.6v0.6h-0.6zM33.8,253.6h0.6v0.6h-0.6zM36.1,241.1h0.6v0.6h-0.6zM46.1,251.1h0.6v0.6h-0.6zM41.5,239.4h0.6v0.6h-0.6zM29.7,251.6h0.6v0.6h-0.6zM32.4,251.9h0.6v0.6h-0.6zM31.5,239.6h0.6v0.6h-0.6zM44.6,239.8h0.6v0.6h-0.6zM28.3,245.6h0.6v0.6h-0.6zM42.3,256.0h0.6v0.6h-0.6zM31.1,241.0h0.6v0.6h-0.6zM33.2,239.8h0.6v0.6h-0.6zM42.7,256.1h0.6v0.6h-0.6zM39.3,239.0h0.6v0.6h-0.6zM31.4,252.2h0.6v0.6h-0.6zM48.4,243.9h0.6v0.6h-0.6zM29.1,240.3h0.6v0.6h-0.6zM26.9,245.0h0.6v0.6h-0.6zM48.2,243.1h0.6v0.6h-0.6zM28.0,242.3h0.6v0.6h-0.6zM30.0,242.7h0.6v0.6h-0.6zM27.6,244.7h0.6v0.6h-0.6zM35.4,256.5h0.6v0.6h-0.6zM42.9,255.1h0.6v0.6h-0.6zM27.3,244.7h0.6v0.6h-0.6zM30.7,241.6h0.6v0.6h-0.6zM48.5,242.8h0.6v0.6h-0.6zM46.9,249.0h0.6v0.6h-0.6zM48.8,244.2h0.6v0.6h-0.6zM44.6,240.3h0.6v0.6h-0.6zM34.1,254.9h0.6v0.6h-0.6zM42.7,254.9h0.6v0.6h-0.6zM28.3,245.2h0.6v0.6h-0.6zM31.9,239.9h0.6v0.6h-0.6zM42.5,255.5h0.6v0.6h-0.6zM41.4,255.0h0.6v0.6h-0.6zM50.7,244.1h0.6v0.6h-0.6zM30.8,241.4h0.6v0.6h-0.6zM36.4,238.9h0.6v0.6h-0.6zM46.6,246.8h0.6v0.6h-0.6zM31.0,251.0h0.6v0.6h-0.6zM29.0,248.4h0.6v0.6h-0.6zM47.5,245.5h0.6v0.6h-0.6zM36.8,255.0h0.6v0.6h-0.6zM29.1,242.7h0.6v0.6h-0.6zM33.4,255.3h0.6v0.6h-0.6zM48.2,246.4h0.6v0.6h-0.6zM27.3,244.9h0.6v0.6h-0.6zM28.0,245.9h0.6v0.6h-0.6zM33.1,252.9h0.6v0.6h-0.6zM40.2,257.2h0.6v0.6h-0.6zM47.0,246.6h0.6v0.6h-0.6zM47.4,245.5h0.6v0.6h-0.6zM41.6,239.7h0.6v0.6h-0.6zM45.3,240.6h0.6v0.6h-0.6zM42.9,254.3h0.6v0.6h-0.6zM46.1,238.9h0.6v0.6h-0.6zM41.2,256.8h0.6v0.6h-0.6zM47.2,247.0h0.6v0.6h-0.6zM45.1,254.1h0.6v0.6h-0.6zM47.6,241.3h0.6v0.6h-0.6zM43.6,252.9h0.6v0.6h-0.6zM40.7,239.6h0.6v0.6h-0.6zM41.5,240.4h0.6v0.6h-0.6zM36.3,256.3h0.6v0.6h-0.6zM44.0,240.4h0.6v0.6h-0.6zM45.9,241.2h0.6v0.6h-0.6zM26.6,245.7h0.6v0.6h-0.6zM48.0,245.2h0.6v0.6h-0.6zM42.9,253.6h0.6v0.6h-0.6zM33.2,252.9h0.6v0.6h-0.6zM29.8,241.0h0.6v0.6h-0.6zM31.8,241.0h0.6v0.6h-0.6zM26.8,245.6h0.6v0.6h-0.6zM48.7,243.9h0.6v0.6h-0.6zM39.5,256.2h0.6v0.6h-0.6zM35.8,255.5h0.6v0.6h-0.6zM37.5,240.3h0.6v0.6h-0.6zM33.7,253.9h0.6v0.6h-0.6zM36.5,240.6h0.6v0.6h-0.6zM41.2,255.5h0.6v0.6h-0.6zM38.1,257.4h0.6v0.6h-0.6zM34.4,257.0h0.6v0.6h-0.6zM29.2,247.1h0.6v0.6h-0.6zM44.3,253.5h0.6v0.6h-0.6zM28.3,247.6h0.6v0.6h-0.6zM46.6,247.7h0.6v0.6h-0.6zM46.9,246.4h0.6v0.6h-0.6zM48.0,245.7h0.6v0.6h-0.6zM46.5,239.6h0.6v0.6h-0.6zM40.8,256.1h0.6v0.6h-0.6zM31.2,250.0h0.6v0.6h-0.6zM29.4,251.4h0.6v0.6h-0.6zM47.2,251.2h0.6v0.6h-0.6zM48.3,248.6h0.6v0.6h-0.6zM46.7,241.2h0.6v0.6h-0.6zM43.6,254.0h0.6v0.6h-0.6zM46.7,240.8h0.6v0.6h-0.6zM41.7,256.8h0.6v0.6h-0.6zM40.7,258.2h0.6v0.6h-0.6zM47.7,240.5h0.6v0.6h-0.6zM46.7,250.5h0.6v0.6h-0.6zM45.5,241.0h0.6v0.6h-0.6zM31.0,241.2h0.6v0.6h-0.6zM48.2,246.5h0.6v0.6h-0.6zM35.5,240.3h0.6v0.6h-0.6zM40.3,240.7h0.6v0.6h-0.6zM48.4,244.1h0.6v0.6h-0.6zM27.3,245.4h0.6v0.6h-0.6zM28.2,248.9h0.6v0.6h-0.6zM27.8,243.9h0.6v0.6h-0.6zM28.3,244.6h0.6v0.6h-0.6zM41.4,255.2h0.6v0.6h-0.6zM34.3,256.0h0.6v0.6h-0.6zM42.8,254.9h0.6v0.6h-0.6zM46.4,253.0h0.6v0.6h-0.6zM46.8,249.0h0.6v0.6h-0.6zM25.7,242.2h0.6v0.6h-0.6zM47.0,245.2h0.6v0.6h-0.6zM37.1,255.6h0.6v0.6h-0.6zM29.9,240.5h0.6v0.6h-0.6zM33.3,239.8h0.6v0.6h-0.6z" fill="#6a6a6a"/>
<path d="M28.50,242.50 C29.17,241.75 30.42,241.32 32.00,241.00 C33.58,240.68 36.00,240.67 38.00,240.60 C40.00,240.53 42.45,240.45 44.00,240.60 C45.55,240.75 46.70,240.77 47.30,241.50 C47.90,242.23 47.73,243.67 47.60,245.00 C47.47,246.33 47.18,248.08 46.50,249.50 C45.82,250.92 44.58,252.37 43.50,253.50 C42.42,254.63 41.17,255.97 40.00,256.30 C38.83,256.63 37.75,256.13 36.50,255.50 C35.25,254.87 33.67,253.58 32.50,252.50 C31.33,251.42 30.25,250.17 29.50,249.00 C28.75,247.83 28.17,246.58 28.00,245.50 C27.83,244.42 27.83,243.25 28.50,242.50Z" stroke="#3a3a3a" stroke-width="0.8" fill="rgb(190,190,190)"/>
<path d="M29.91,243.05 C30.47,242.41 31.52,242.05 32.86,241.78 C34.20,241.51 36.23,241.50 37.92,241.44 C39.61,241.39 41.68,241.32 42.98,241.44 C44.29,241.57 45.26,241.58 45.77,242.20 C46.27,242.82 46.13,244.03 46.02,245.16 C45.91,246.28 45.67,247.76 45.09,248.95 C44.52,250.15 43.48,251.37 42.56,252.33 C41.65,253.28 40.59,254.41 39.61,254.69 C38.62,254.97 37.71,254.55 36.66,254.02 C35.60,253.48 34.27,252.40 33.28,251.48 C32.30,250.57 31.38,249.52 30.75,248.53 C30.12,247.55 29.62,246.49 29.48,245.58 C29.34,244.66 29.34,243.68 29.91,243.05Z" stroke="#7a7a7a" stroke-width="0.35" fill="rgb(180,180,180)"/>
<path d="M31.31,243.59 C31.77,243.08 32.63,242.78 33.72,242.56 C34.81,242.34 36.47,242.33 37.84,242.29 C39.22,242.24 40.90,242.18 41.97,242.29 C43.03,242.39 43.82,242.40 44.24,242.91 C44.65,243.41 44.54,244.40 44.44,245.31 C44.35,246.23 44.16,247.43 43.69,248.41 C43.22,249.38 42.37,250.38 41.62,251.16 C40.88,251.94 40.02,252.85 39.22,253.08 C38.42,253.31 37.67,252.97 36.81,252.53 C35.95,252.10 34.86,251.21 34.06,250.47 C33.26,249.72 32.52,248.86 32.00,248.06 C31.48,247.26 31.08,246.40 30.97,245.66 C30.85,244.91 30.85,244.11 31.31,243.59Z" stroke="#7a7a7a" stroke-width="0.35" fill="rgb(170,170,170)"/>
<path d="M32.72,244.14 C33.07,243.74 33.74,243.51 34.58,243.34 C35.42,243.18 36.70,243.17 37.77,243.13 C38.83,243.10 40.13,243.05 40.95,243.13 C41.78,243.21 42.39,243.22 42.71,243.61 C43.02,244.00 42.94,244.76 42.87,245.47 C42.79,246.18 42.64,247.11 42.28,247.86 C41.92,248.61 41.26,249.38 40.69,249.98 C40.11,250.59 39.45,251.29 38.83,251.47 C38.21,251.65 37.63,251.38 36.97,251.05 C36.30,250.71 35.46,250.03 34.84,249.45 C34.22,248.88 33.65,248.21 33.25,247.59 C32.85,246.97 32.54,246.31 32.45,245.73 C32.36,245.16 32.36,244.54 32.72,244.14Z" stroke="#7a7a7a" stroke-width="0.35" fill="rgb(160,160,160)"/>
<path d="M34.12,244.69 C34.38,244.41 34.84,244.24 35.44,244.12 C36.03,244.01 36.94,244.00 37.69,243.97 C38.44,243.95 39.36,243.92 39.94,243.97 C40.52,244.03 40.95,244.04 41.17,244.31 C41.40,244.59 41.34,245.12 41.29,245.62 C41.24,246.12 41.13,246.78 40.88,247.31 C40.62,247.84 40.16,248.39 39.75,248.81 C39.34,249.24 38.88,249.74 38.44,249.86 C38.00,249.99 37.59,249.80 37.12,249.56 C36.66,249.32 36.06,248.84 35.62,248.44 C35.19,248.03 34.78,247.56 34.50,247.12 C34.22,246.69 34.00,246.22 33.94,245.81 C33.88,245.41 33.88,244.97 34.12,244.69Z" stroke="#7a7a7a" stroke-width="0.35" fill="rgb(150,150,150)"/>
<path d="M35.53,245.23 C35.68,245.07 35.95,244.98 36.30,244.91 C36.64,244.84 37.17,244.83 37.61,244.82 C38.05,244.80 38.58,244.79 38.92,244.82 C39.26,244.85 39.51,244.86 39.64,245.02 C39.77,245.18 39.74,245.49 39.71,245.78 C39.68,246.07 39.62,246.46 39.47,246.77 C39.32,247.08 39.05,247.39 38.81,247.64 C38.58,247.89 38.30,248.18 38.05,248.25 C37.79,248.33 37.55,248.22 37.28,248.08 C37.01,247.94 36.66,247.66 36.41,247.42 C36.15,247.18 35.91,246.91 35.75,246.66 C35.59,246.40 35.46,246.13 35.42,245.89 C35.39,245.65 35.39,245.40 35.53,245.23Z" stroke="#7a7a7a" stroke-width="0.35" fill="rgb(140,140,140)"/>
<ellipse cx="38.5" cy="246.5" rx="2.2" ry="1.54" fill="#f4f4f4"/>
<ellipse cx="64.2" cy="233.2" rx="5.0" ry="8.0" transform="rotate(36 64.2 233.2)" fill="#c4c4c4" stroke="#777" stroke-width="0.5"/>
<ellipse cx="64.2" cy="233.2" rx="3.5" ry="6.3" transform="rotate(36 64.2 233.2)" fill="#f6f6f6" stroke="#333" stroke-width="0.9"/>
<path d="M47.5,246 L60,239" stroke="#999" stroke-width="2.4" fill="none"/>
<path d="M127.9,234.3h0.6v0.6h-0.6zM127.8,239.3h0.6v0.6h-0.6zM113.7,241.8h0.6v0.6h-0.6zM131.9,231.4h0.6v0.6h-0.6zM118.2,230.7h0.6v0.6h-0.6zM130.6,236.9h0.6v0.6h-0.6zM122.1,237.5h0.6v0.6h-0.6zM122.6,238.6h0.6v0.6h-0.6zM119.8,233.9h0.6v0.6h-0.6zM115.1,245.5h0.6v0.6h-0.6zM102.9,239.1h0.6v0.6h-0.6zM116.9,233.6h0.6v0.6h-0.6zM125.7,233.2h0.6v0.6h-0.6zM129.9,232.4h0.6v0.6h-0.6zM133.8,236.2h0.6v0.6h-0.6zM132.6,237.8h0.6v0.6h-0.6zM114.6,232.9h0.6v0.6h-0.6zM123.5,235.5h0.6v0.6h-0.6zM136.4,233.9h0.6v0.6h-0.6zM106.9,236.1h0.6v0.6h-0.6zM121.3,237.6h0.6v0.6h-0.6zM125.9,235.8h0.6v0.6h-0.6zM131.2,240.9h0.6v0.6h-0.6zM108.9,235.3h0.6v0.6h-0.6zM131.0,231.8h0.6v0.6h-0.6zM127.6,237.5h0.6v0.6h-0.6zM120.2,235.3h0.6v0.6h-0.6zM114.6,237.1h0.6v0.6h-0.6zM127.1,235.7h0.6v0.6h-0.6zM132.4,233.0h0.6v0.6h-0.6zM116.0,238.3h0.6v0.6h-0.6zM126.6,229.9h0.6v0.6h-0.6zM119.0,232.0h0.6v0.6h-0.6zM128.0,237.7h0.6v0.6h-0.6zM123.9,237.1h0.6v0.6h-0.6zM112.2,232.3h0.6v0.6h-0.6zM126.6,235.1h0.6v0.6h-0.6zM128.9,240.4h0.6v0.6h-0.6zM129.6,235.4h0.6v0.6h-0.6zM114.1,241.9h0.6v0.6h-0.6zM126.6,235.9h0.6v0.6h-0.6zM124.9,238.7h0.6v0.6h-0.6zM130.4,239.4h0.6v0.6h-0.6zM124.5,236.3h0.6v0.6h-0.6zM129.3,231.8h0.6v0.6h-0.6zM119.0,238.4h0.6v0.6h-0.6zM139.4,225.9h0.6v0.6h-0.6zM135.2,236.5h0.6v0.6h-0.6zM118.4,232.2h0.6v0.6h-0.6zM117.6,239.3h0.6v0.6h-0.6zM123.5,235.3h0.6v0.6h-0.6zM126.1,234.4h0.6v0.6h-0.6zM128.3,238.7h0.6v0.6h-0.6zM140.3,233.5h0.6v0.6h-0.6zM118.5,239.3h0.6v0.6h-0.6zM117.1,244.3h0.6v0.6h-0.6zM119.0,241.9h0.6v0.6h-0.6zM131.8,233.6h0.6v0.6h-0.6zM132.1,231.9h0.6v0.6h-0.6zM117.8,240.1h0.6v0.6h-0.6zM119.9,240.3h0.6v0.6h-0.6zM123.8,236.9h0.6v0.6h-0.6zM125.5,232.9h0.6v0.6h-0.6zM127.9,237.3h0.6v0.6h-0.6zM110.3,236.4h0.6v0.6h-0.6zM115.4,236.0h0.6v0.6h-0.6zM125.1,232.9h0.6v0.6h-0.6zM120.6,238.7h0.6v0.6h-0.6zM115.4,240.7h0.6v0.6h-0.6zM117.9,235.4h0.6v0.6h-0.6zM118.8,237.3h0.6v0.6h-0.6zM130.6,230.1h0.6v0.6h-0.6zM149.0,226.5h0.6v0.6h-0.6zM116.6,234.8h0.6v0.6h-0.6zM133.7,234.0h0.6v0.6h-0.6zM116.7,240.0h0.6v0.6h-0.6zM134.1,239.0h0.6v0.6h-0.6zM122.2,234.7h0.6v0.6h-0.6zM130.8,229.5h0.6v0.6h-0.6zM124.0,235.0h0.6v0.6h-0.6zM122.7,234.0h0.6v0.6h-0.6zM136.5,234.4h0.6v0.6h-0.6zM118.2,230.4h0.6v0.6h-0.6zM125.0,238.4h0.6v0.6h-0.6zM126.1,234.7h0.6v0.6h-0.6zM135.6,230.2h0.6v0.6h-0.6zM123.8,233.4h0.6v0.6h-0.6zM123.0,234.5h0.6v0.6h-0.6zM121.8,243.7h0.6v0.6h-0.6zM118.4,239.2h0.6v0.6h-0.6zM128.3,231.5h0.6v0.6h-0.6zM115.6,233.4h0.6v0.6h-0.6zM134.8,226.9h0.6v0.6h-0.6zM128.0,238.8h0.6v0.6h-0.6zM126.7,229.6h0.6v0.6h-0.6zM125.3,235.2h0.6v0.6h-0.6zM120.7,232.2h0.6v0.6h-0.6zM132.0,234.6h0.6v0.6h-0.6zM126.8,234.5h0.6v0.6h-0.6zM122.9,239.3h0.6v0.6h-0.6zM119.4,235.0h0.6v0.6h-0.6zM119.8,233.0h0.6v0.6h-0.6zM117.0,234.5h0.6v0.6h-0.6zM123.8,233.7h0.6v0.6h-0.6zM122.4,231.1h0.6v0.6h-0.6zM109.9,231.5h0.6v0.6h-0.6zM118.6,235.8h0.6v0.6h-0.6zM114.5,237.7h0.6v0.6h-0.6zM134.0,231.5h0.6v0.6h-0.6zM106.8,234.7h0.6v0.6h-0.6zM135.0,238.5h0.6v0.6h-0.6zM113.3,230.7h0.6v0.6h-0.6zM130.7,231.0h0.6v0.6h-0.6zM115.1,227.2h0.6v0.6h-0.6zM122.9,235.2h0.6v0.6h-0.6zM119.4,243.2h0.6v0.6h-0.6zM115.4,244.9h0.6v0.6h-0.6zM113.3,241.2h0.6v0.6h-0.6zM134.9,234.0h0.6v0.6h-0.6zM126.6,240.4h0.6v0.6h-0.6zM114.2,245.8h0.6v0.6h-0.6zM117.5,238.5h0.6v0.6h-0.6zM112.0,238.0h0.6v0.6h-0.6zM129.0,230.3h0.6v0.6h-0.6zM112.1,237.8h0.6v0.6h-0.6zM128.2,241.1h0.6v0.6h-0.6zM130.8,229.0h0.6v0.6h-0.6zM118.9,237.1h0.6v0.6h-0.6zM137.7,231.3h0.6v0.6h-0.6zM119.3,235.9h0.6v0.6h-0.6zM132.1,240.6h0.6v0.6h-0.6zM125.1,239.0h0.6v0.6h-0.6zM128.6,234.6h0.6v0.6h-0.6zM122.3,237.8h0.6v0.6h-0.6zM120.9,234.9h0.6v0.6h-0.6zM119.7,232.4h0.6v0.6h-0.6zM111.9,238.8h0.6v0.6h-0.6zM136.1,234.1h0.6v0.6h-0.6zM132.3,238.9h0.6v0.6h-0.6zM122.3,234.2h0.6v0.6h-0.6zM120.4,231.4h0.6v0.6h-0.6zM125.6,241.4h0.6v0.6h-0.6zM130.6,237.7h0.6v0.6h-0.6zM134.7,231.9h0.6v0.6h-0.6zM138.0,242.9h0.6v0.6h-0.6zM127.7,231.8h0.6v0.6h-0.6zM128.3,241.2h0.6v0.6h-0.6zM133.1,234.8h0.6v0.6h-0.6zM140.5,235.4h0.6v0.6h-0.6zM123.0,238.0h0.6v0.6h-0.6zM118.3,246.7h0.6v0.6h-0.6zM129.2,238.8h0.6v0.6h-0.6zM117.9,235.7h0.6v0.6h-0.6zM121.7,236.0h0.6v0.6h-0.6zM102.8,242.0h0.6v0.6h-0.6zM111.1,238.9h0.6v0.6h-0.6zM118.6,242.7h0.6v0.6h-0.6zM124.0,241.8h0.6v0.6h-0.6zM132.6,233.2h0.6v0.6h-0.6zM124.9,232.3h0.6v0.6h-0.6zM122.1,237.7h0.6v0.6h-0.6zM122.5,241.7h0.6v0.6h-0.6zM121.4,230.2h0.6v0.6h-0.6zM122.0,235.0h0.6v0.6h-0.6zM123.8,235.1h0.6v0.6h-0.6zM120.7,238.0h0.6v0.6h-0.6zM111.7,245.8h0.6v0.6h-0.6zM107.2,237.6h0.6v0.6h-0.6zM122.2,234.6h0.6v0.6h-0.6zM122.1,232.9h0.6v0.6h-0.6zM117.8,234.4h0.6v0.6h-0.6zM119.0,233.8h0.6v0.6h-0.6zM124.9,238.0h0.6v0.6h-0.6zM136.5,230.0h0.6v0.6h-0.6zM124.2,237.4h0.6v0.6h-0.6zM135.9,238.5h0.6v0.6h-0.6zM152.1,222.8h0.6v0.6h-0.6zM122.0,237.1h0.6v0.6h-0.6zM126.4,239.7h0.6v0.6h-0.6zM118.6,223.7h0.6v0.6h-0.6zM114.6,234.2h0.6v0.6h-0.6zM127.9,237.6h0.6v0.6h-0.6zM132.0,239.0h0.6v0.6h-0.6zM107.3,245.5h0.6v0.6h-0.6zM128.7,231.4h0.6v0.6h-0.6zM126.2,239.5h0.6v0.6h-0.6zM134.8,235.2h0.6v0.6h-0.6zM128.0,231.1h0.6v0.6h-0.6zM126.1,236.9h0.6v0.6h-0.6zM136.0,236.1h0.6v0.6h-0.6zM126.0,234.7h0.6v0.6h-0.6zM143.8,233.1h0.6v0.6h-0.6zM130.7,240.7h0.6v0.6h-0.6zM123.5,236.3h0.6v0.6h-0.6zM127.0,229.7h0.6v0.6h-0.6zM115.6,235.6h0.6v0.6h-0.6zM114.6,236.4h0.6v0.6h-0.6zM115.6,239.7h0.6v0.6h-0.6zM120.5,234.9h0.6v0.6h-0.6zM115.8,240.7h0.6v0.6h-0.6zM137.1,237.3h0.6v0.6h-0.6zM122.2,232.7h0.6v0.6h-0.6zM117.7,232.7h0.6v0.6h-0.6zM117.7,239.0h0.6v0.6h-0.6zM121.3,234.6h0.6v0.6h-0.6zM129.8,231.2h0.6v0.6h-0.6zM112.8,232.1h0.6v0.6h-0.6zM127.3,242.0h0.6v0.6h-0.6zM122.0,234.2h0.6v0.6h-0.6zM114.8,235.2h0.6v0.6h-0.6zM130.7,233.5h0.6v0.6h-0.6zM125.3,240.2h0.6v0.6h-0.6zM124.1,238.9h0.6v0.6h-0.6zM129.1,234.6h0.6v0.6h-0.6zM123.5,233.2h0.6v0.6h-0.6zM129.1,230.1h0.6v0.6h-0.6zM129.4,240.6h0.6v0.6h-0.6zM122.1,233.5h0.6v0.6h-0.6zM114.7,239.0h0.6v0.6h-0.6zM118.7,230.7h0.6v0.6h-0.6zM132.1,231.7h0.6v0.6h-0.6zM130.2,230.0h0.6v0.6h-0.6zM125.0,233.8h0.6v0.6h-0.6zM114.6,237.6h0.6v0.6h-0.6zM132.7,226.1h0.6v0.6h-0.6zM108.7,231.3h0.6v0.6h-0.6zM115.2,237.1h0.6v0.6h-0.6zM119.3,232.1h0.6v0.6h-0.6zM128.9,234.6h0.6v0.6h-0.6zM120.6,236.9h0.6v0.6h-0.6zM117.0,241.3h0.6v0.6h-0.6zM122.1,237.0h0.6v0.6h-0.6zM136.1,235.5h0.6v0.6h-0.6zM132.2,233.3h0.6v0.6h-0.6zM127.3,236.9h0.6v0.6h-0.6zM126.7,234.6h0.6v0.6h-0.6zM129.2,234.9h0.6v0.6h-0.6zM134.3,238.5h0.6v0.6h-0.6zM119.9,239.8h0.6v0.6h-0.6zM130.7,228.7h0.6v0.6h-0.6zM123.8,235.4h0.6v0.6h-0.6zM124.3,238.9h0.6v0.6h-0.6zM114.4,237.3h0.6v0.6h-0.6zM118.9,240.6h0.6v0.6h-0.6zM126.4,232.1h0.6v0.6h-0.6zM120.2,239.5h0.6v0.6h-0.6zM122.2,235.7h0.6v0.6h-0.6zM128.7,233.6h0.6v0.6h-0.6zM117.5,242.1h0.6v0.6h-0.6zM147.7,233.4h0.6v0.6h-0.6zM111.5,240.9h0.6v0.6h-0.6zM120.9,236.7h0.6v0.6h-0.6zM124.2,238.3h0.6v0.6h-0.6zM138.0,230.1h0.6v0.6h-0.6zM115.6,230.7h0.6v0.6h-0.6zM118.6,235.3h0.6v0.6h-0.6zM137.3,233.5h0.6v0.6h-0.6zM123.7,240.4h0.6v0.6h-0.6zM149.4,233.5h0.6v0.6h-0.6zM115.0,238.0h0.6v0.6h-0.6z" fill="#777"/>
<path d="M122.9,251.3h0.6v0.6h-0.6zM117.9,252.8h0.6v0.6h-0.6zM101.3,242.6h0.6v0.6h-0.6zM119.5,235.9h0.6v0.6h-0.6zM104.9,242.9h0.6v0.6h-0.6zM110.6,264.0h0.6v0.6h-0.6zM100.5,248.4h0.6v0.6h-0.6zM101.2,248.1h0.6v0.6h-0.6zM115.6,255.2h0.6v0.6h-0.6zM111.6,259.8h0.6v0.6h-0.6zM107.0,243.7h0.6v0.6h-0.6zM105.2,254.0h0.6v0.6h-0.6zM102.3,249.4h0.6v0.6h-0.6zM108.1,261.3h0.6v0.6h-0.6zM99.2,243.7h0.6v0.6h-0.6zM107.4,245.7h0.6v0.6h-0.6zM105.8,250.4h0.6v0.6h-0.6zM115.5,248.7h0.6v0.6h-0.6zM98.5,245.5h0.6v0.6h-0.6zM116.0,256.1h0.6v0.6h-0.6zM122.9,242.4h0.6v0.6h-0.6zM112.4,251.3h0.6v0.6h-0.6zM98.7,252.5h0.6v0.6h-0.6zM119.5,255.2h0.6v0.6h-0.6zM109.6,244.7h0.6v0.6h-0.6zM109.3,245.8h0.6v0.6h-0.6zM126.5,255.7h0.6v0.6h-0.6zM103.9,253.8h0.6v0.6h-0.6zM111.6,245.4h0.6v0.6h-0.6zM116.9,242.2h0.6v0.6h-0.6zM101.7,257.1h0.6v0.6h-0.6zM100.2,238.0h0.6v0.6h-0.6zM109.9,242.0h0.6v0.6h-0.6zM119.5,242.3h0.6v0.6h-0.6zM112.6,248.9h0.6v0.6h-0.6zM112.6,261.1h0.6v0.6h-0.6zM104.1,243.6h0.6v0.6h-0.6zM97.1,255.3h0.6v0.6h-0.6zM117.6,245.6h0.6v0.6h-0.6zM115.9,256.5h0.6v0.6h-0.6zM107.9,256.8h0.6v0.6h-0.6zM96.7,235.9h0.6v0.6h-0.6zM112.7,250.7h0.6v0.6h-0.6zM117.4,245.4h0.6v0.6h-0.6zM105.5,254.3h0.6v0.6h-0.6zM103.3,240.1h0.6v0.6h-0.6zM121.5,243.6h0.6v0.6h-0.6zM105.9,252.4h0.6v0.6h-0.6zM116.1,244.5h0.6v0.6h-0.6zM108.6,240.6h0.6v0.6h-0.6zM108.1,250.2h0.6v0.6h-0.6zM116.3,250.9h0.6v0.6h-0.6zM113.1,246.0h0.6v0.6h-0.6zM104.3,249.0h0.6v0.6h-0.6zM108.1,251.0h0.6v0.6h-0.6zM109.7,250.4h0.6v0.6h-0.6zM121.2,253.9h0.6v0.6h-0.6zM96.7,244.6h0.6v0.6h-0.6zM114.4,249.2h0.6v0.6h-0.6zM107.1,248.2h0.6v0.6h-0.6zM107.2,250.3h0.6v0.6h-0.6zM101.0,259.9h0.6v0.6h-0.6zM117.1,250.2h0.6v0.6h-0.6zM96.9,242.1h0.6v0.6h-0.6zM115.3,259.6h0.6v0.6h-0.6zM109.0,246.5h0.6v0.6h-0.6zM97.5,242.2h0.6v0.6h-0.6zM116.1,248.5h0.6v0.6h-0.6zM123.1,244.5h0.6v0.6h-0.6zM114.9,249.8h0.6v0.6h-0.6zM104.1,244.7h0.6v0.6h-0.6zM97.2,253.8h0.6v0.6h-0.6zM110.4,246.0h0.6v0.6h-0.6zM113.5,249.5h0.6v0.6h-0.6zM103.2,253.4h0.6v0.6h-0.6zM101.3,256.5h0.6v0.6h-0.6zM111.1,246.4h0.6v0.6h-0.6zM118.4,248.1h0.6v0.6h-0.6zM109.4,257.3h0.6v0.6h-0.6zM111.5,242.7h0.6v0.6h-0.6zM119.3,250.7h0.6v0.6h-0.6zM102.1,242.8h0.6v0.6h-0.6zM105.2,241.6h0.6v0.6h-0.6zM101.7,254.6h0.6v0.6h-0.6zM107.1,253.5h0.6v0.6h-0.6zM104.6,248.0h0.6v0.6h-0.6zM116.0,233.7h0.6v0.6h-0.6zM114.6,255.9h0.6v0.6h-0.6zM118.3,245.8h0.6v0.6h-0.6zM115.2,254.2h0.6v0.6h-0.6zM111.9,259.0h0.6v0.6h-0.6zM107.4,257.2h0.6v0.6h-0.6zM106.7,236.1h0.6v0.6h-0.6zM118.8,240.4h0.6v0.6h-0.6zM109.8,241.8h0.6v0.6h-0.6zM100.6,256.6h0.6v0.6h-0.6z" fill="#888"/>
<path d="M119.9,248.7h0.6v0.6h-0.6zM127.7,246.5h0.6v0.6h-0.6zM100.4,255.0h0.6v0.6h-0.6zM99.4,242.1h0.6v0.6h-0.6zM128.7,245.8h0.6v0.6h-0.6zM135.0,243.9h0.6v0.6h-0.6zM133.3,244.9h0.6v0.6h-0.6zM118.6,238.0h0.6v0.6h-0.6zM99.4,248.1h0.6v0.6h-0.6zM123.2,238.5h0.6v0.6h-0.6zM128.1,246.9h0.6v0.6h-0.6zM102.7,239.5h0.6v0.6h-0.6zM121.8,239.9h0.6v0.6h-0.6zM98.8,241.7h0.6v0.6h-0.6zM138.6,240.3h0.6v0.6h-0.6zM101.7,254.0h0.6v0.6h-0.6zM102.7,241.5h0.6v0.6h-0.6zM108.4,254.5h0.6v0.6h-0.6zM100.0,243.6h0.6v0.6h-0.6zM119.1,238.0h0.6v0.6h-0.6zM116.2,250.0h0.6v0.6h-0.6zM119.9,249.4h0.6v0.6h-0.6zM129.4,238.5h0.6v0.6h-0.6zM101.3,242.6h0.6v0.6h-0.6zM137.2,240.4h0.6v0.6h-0.6zM137.6,241.9h0.6v0.6h-0.6zM99.0,252.6h0.6v0.6h-0.6zM99.0,246.1h0.6v0.6h-0.6zM102.9,258.8h0.6v0.6h-0.6zM130.0,245.3h0.6v0.6h-0.6zM110.1,239.9h0.6v0.6h-0.6zM136.6,242.1h0.6v0.6h-0.6zM120.3,249.4h0.6v0.6h-0.6zM106.3,257.0h0.6v0.6h-0.6zM99.0,243.3h0.6v0.6h-0.6zM106.1,256.4h0.6v0.6h-0.6zM100.1,245.2h0.6v0.6h-0.6zM121.9,249.2h0.6v0.6h-0.6zM110.0,255.7h0.6v0.6h-0.6zM116.3,250.3h0.6v0.6h-0.6zM121.8,238.6h0.6v0.6h-0.6zM99.2,241.1h0.6v0.6h-0.6zM136.0,243.6h0.6v0.6h-0.6zM98.9,245.8h0.6v0.6h-0.6zM135.9,237.9h0.6v0.6h-0.6zM98.9,247.1h0.6v0.6h-0.6zM116.2,238.5h0.6v0.6h-0.6zM135.0,243.7h0.6v0.6h-0.6zM133.5,238.1h0.6v0.6h-0.6zM125.0,238.6h0.6v0.6h-0.6zM120.0,248.7h0.6v0.6h-0.6zM138.1,242.1h0.6v0.6h-0.6zM103.2,240.7h0.6v0.6h-0.6zM139.1,240.0h0.6v0.6h-0.6zM109.4,255.8h0.6v0.6h-0.6zM138.2,242.6h0.6v0.6h-0.6zM134.7,244.3h0.6v0.6h-0.6zM107.2,255.3h0.6v0.6h-0.6zM135.7,243.5h0.6v0.6h-0.6zM112.5,253.0h0.6v0.6h-0.6zM127.8,237.4h0.6v0.6h-0.6zM99.6,246.0h0.6v0.6h-0.6zM105.2,256.4h0.6v0.6h-0.6zM102.8,239.9h0.6v0.6h-0.6zM101.6,242.1h0.6v0.6h-0.6zM103.4,240.4h0.6v0.6h-0.6zM110.8,254.1h0.6v0.6h-0.6zM134.4,243.4h0.6v0.6h-0.6zM110.7,253.6h0.6v0.6h-0.6zM130.3,245.7h0.6v0.6h-0.6zM98.9,241.0h0.6v0.6h-0.6zM116.9,238.0h0.6v0.6h-0.6zM98.8,250.4h0.6v0.6h-0.6zM105.3,256.3h0.6v0.6h-0.6zM124.7,246.5h0.6v0.6h-0.6zM99.2,251.2h0.6v0.6h-0.6zM129.6,246.1h0.6v0.6h-0.6zM128.1,246.2h0.6v0.6h-0.6zM99.7,247.2h0.6v0.6h-0.6zM113.3,255.5h0.6v0.6h-0.6zM127.8,238.5h0.6v0.6h-0.6zM128.5,239.4h0.6v0.6h-0.6zM100.8,257.2h0.6v0.6h-0.6zM125.4,247.4h0.6v0.6h-0.6zM136.4,242.0h0.6v0.6h-0.6zM125.2,237.2h0.6v0.6h-0.6zM128.5,245.8h0.6v0.6h-0.6zM98.0,254.2h0.6v0.6h-0.6zM133.8,243.6h0.6v0.6h-0.6zM133.7,237.7h0.6v0.6h-0.6zM136.8,239.1h0.6v0.6h-0.6zM128.7,237.6h0.6v0.6h-0.6zM112.5,253.0h0.6v0.6h-0.6zM129.5,238.3h0.6v0.6h-0.6zM113.5,238.1h0.6v0.6h-0.6zM136.9,240.9h0.6v0.6h-0.6zM137.0,240.8h0.6v0.6h-0.6zM110.4,239.4h0.6v0.6h-0.6zM134.0,244.7h0.6v0.6h-0.6zM116.9,238.6h0.6v0.6h-0.6zM99.4,250.2h0.6v0.6h-0.6zM100.2,254.0h0.6v0.6h-0.6zM105.1,240.6h0.6v0.6h-0.6zM138.7,241.4h0.6v0.6h-0.6zM116.6,249.4h0.6v0.6h-0.6zM130.0,238.0h0.6v0.6h-0.6zM103.6,239.4h0.6v0.6h-0.6zM98.1,249.9h0.6v0.6h-0.6zM139.1,239.9h0.6v0.6h-0.6zM104.3,239.4h0.6v0.6h-0.6zM105.1,258.4h0.6v0.6h-0.6zM137.2,243.1h0.6v0.6h-0.6zM100.1,252.5h0.6v0.6h-0.6zM113.4,238.0h0.6v0.6h-0.6zM135.9,242.9h0.6v0.6h-0.6zM99.7,246.5h0.6v0.6h-0.6zM128.6,239.4h0.6v0.6h-0.6zM102.3,241.1h0.6v0.6h-0.6zM97.8,244.5h0.6v0.6h-0.6zM135.8,242.9h0.6v0.6h-0.6zM121.9,237.7h0.6v0.6h-0.6zM99.9,247.9h0.6v0.6h-0.6zM98.7,243.8h0.6v0.6h-0.6zM117.9,250.9h0.6v0.6h-0.6zM102.8,258.4h0.6v0.6h-0.6zM126.1,237.6h0.6v0.6h-0.6zM124.3,248.3h0.6v0.6h-0.6zM129.7,244.5h0.6v0.6h-0.6zM134.8,244.2h0.6v0.6h-0.6zM104.1,257.4h0.6v0.6h-0.6zM135.1,239.1h0.6v0.6h-0.6zM108.8,256.2h0.6v0.6h-0.6zM106.5,239.3h0.6v0.6h-0.6zM133.6,238.2h0.6v0.6h-0.6zM112.8,254.6h0.6v0.6h-0.6zM116.1,239.2h0.6v0.6h-0.6zM114.7,238.8h0.6v0.6h-0.6zM125.9,246.4h0.6v0.6h-0.6zM108.7,254.6h0.6v0.6h-0.6zM112.9,240.1h0.6v0.6h-0.6zM103.1,255.2h0.6v0.6h-0.6zM113.6,253.2h0.6v0.6h-0.6zM137.3,238.0h0.6v0.6h-0.6zM137.9,240.0h0.6v0.6h-0.6zM112.9,253.6h0.6v0.6h-0.6zM100.7,242.5h0.6v0.6h-0.6zM115.7,251.3h0.6v0.6h-0.6zM128.8,246.2h0.6v0.6h-0.6zM133.7,238.5h0.6v0.6h-0.6zM99.9,250.2h0.6v0.6h-0.6zM125.8,238.9h0.6v0.6h-0.6zM99.7,242.9h0.6v0.6h-0.6zM98.8,252.1h0.6v0.6h-0.6zM102.6,240.2h0.6v0.6h-0.6zM112.2,253.0h0.6v0.6h-0.6zM103.0,241.4h0.6v0.6h-0.6zM137.0,243.1h0.6v0.6h-0.6zM136.1,243.1h0.6v0.6h-0.6zM140.1,240.5h0.6v0.6h-0.6zM107.7,255.4h0.6v0.6h-0.6zM99.3,242.5h0.6v0.6h-0.6zM102.6,255.7h0.6v0.6h-0.6zM98.2,248.4h0.6v0.6h-0.6zM97.9,247.8h0.6v0.6h-0.6zM134.5,238.6h0.6v0.6h-0.6zM116.9,249.1h0.6v0.6h-0.6zM99.2,244.5h0.6v0.6h-0.6zM97.7,249.8h0.6v0.6h-0.6zM99.7,244.2h0.6v0.6h-0.6zM120.3,239.1h0.6v0.6h-0.6zM131.0,244.9h0.6v0.6h-0.6zM136.6,243.2h0.6v0.6h-0.6zM129.2,238.0h0.6v0.6h-0.6zM98.0,242.7h0.6v0.6h-0.6zM99.0,247.8h0.6v0.6h-0.6zM102.2,256.5h0.6v0.6h-0.6zM98.0,252.2h0.6v0.6h-0.6zM117.4,251.1h0.6v0.6h-0.6zM106.8,237.8h0.6v0.6h-0.6zM117.5,249.0h0.6v0.6h-0.6zM101.5,240.9h0.6v0.6h-0.6zM106.7,255.2h0.6v0.6h-0.6zM127.5,246.1h0.6v0.6h-0.6zM108.2,255.1h0.6v0.6h-0.6zM136.5,240.2h0.6v0.6h-0.6zM103.1,241.2h0.6v0.6h-0.6zM102.9,255.3h0.6v0.6h-0.6zM137.4,242.4h0.6v0.6h-0.6zM97.6,245.8h0.6v0.6h-0.6zM109.3,256.1h0.6v0.6h-0.6zM99.5,250.4h0.6v0.6h-0.6zM98.9,246.5h0.6v0.6h-0.6zM119.9,248.4h0.6v0.6h-0.6zM99.8,244.1h0.6v0.6h-0.6zM103.0,240.9h0.6v0.6h-0.6zM102.9,240.3h0.6v0.6h-0.6zM116.3,249.5h0.6v0.6h-0.6zM135.3,236.9h0.6v0.6h-0.6zM128.7,245.8h0.6v0.6h-0.6zM116.1,238.9h0.6v0.6h-0.6zM110.9,239.5h0.6v0.6h-0.6zM108.3,240.0h0.6v0.6h-0.6zM140.0,239.8h0.6v0.6h-0.6zM117.2,252.0h0.6v0.6h-0.6zM99.6,243.8h0.6v0.6h-0.6zM116.8,251.3h0.6v0.6h-0.6zM98.9,246.8h0.6v0.6h-0.6zM137.8,240.5h0.6v0.6h-0.6zM99.9,245.1h0.6v0.6h-0.6zM105.4,239.3h0.6v0.6h-0.6zM124.6,247.2h0.6v0.6h-0.6zM108.8,238.0h0.6v0.6h-0.6zM116.0,238.8h0.6v0.6h-0.6zM97.3,248.8h0.6v0.6h-0.6zM122.8,248.1h0.6v0.6h-0.6zM131.5,244.4h0.6v0.6h-0.6zM99.0,250.2h0.6v0.6h-0.6zM101.0,242.3h0.6v0.6h-0.6zM131.2,237.6h0.6v0.6h-0.6zM101.0,242.4h0.6v0.6h-0.6zM110.0,239.8h0.6v0.6h-0.6zM107.6,256.9h0.6v0.6h-0.6zM131.1,244.9h0.6v0.6h-0.6zM113.5,251.6h0.6v0.6h-0.6zM118.9,249.5h0.6v0.6h-0.6zM101.7,241.0h0.6v0.6h-0.6zM111.8,253.2h0.6v0.6h-0.6zM128.5,245.8h0.6v0.6h-0.6zM117.0,251.7h0.6v0.6h-0.6zM104.3,238.9h0.6v0.6h-0.6zM134.7,237.7h0.6v0.6h-0.6zM104.1,240.0h0.6v0.6h-0.6zM128.3,237.8h0.6v0.6h-0.6zM99.1,243.0h0.6v0.6h-0.6zM102.2,239.9h0.6v0.6h-0.6zM100.5,241.8h0.6v0.6h-0.6zM98.9,253.4h0.6v0.6h-0.6zM117.0,239.2h0.6v0.6h-0.6zM121.3,248.4h0.6v0.6h-0.6zM122.5,238.5h0.6v0.6h-0.6zM111.2,254.1h0.6v0.6h-0.6zM138.6,242.0h0.6v0.6h-0.6zM137.2,241.5h0.6v0.6h-0.6zM127.7,237.9h0.6v0.6h-0.6zM130.6,245.2h0.6v0.6h-0.6zM126.0,238.3h0.6v0.6h-0.6zM137.1,237.9h0.6v0.6h-0.6zM119.7,237.9h0.6v0.6h-0.6zM125.6,239.0h0.6v0.6h-0.6zM103.7,257.4h0.6v0.6h-0.6zM103.6,258.0h0.6v0.6h-0.6zM118.5,249.3h0.6v0.6h-0.6zM109.7,239.7h0.6v0.6h-0.6zM128.4,246.6h0.6v0.6h-0.6zM133.3,245.5h0.6v0.6h-0.6zM126.3,246.9h0.6v0.6h-0.6zM97.4,246.6h0.6v0.6h-0.6zM103.3,240.3h0.6v0.6h-0.6zM98.0,244.2h0.6v0.6h-0.6zM111.2,239.3h0.6v0.6h-0.6zM108.6,240.9h0.6v0.6h-0.6zM121.0,239.4h0.6v0.6h-0.6zM113.1,239.1h0.6v0.6h-0.6zM111.7,238.6h0.6v0.6h-0.6zM99.3,246.2h0.6v0.6h-0.6zM129.9,246.4h0.6v0.6h-0.6zM138.6,239.3h0.6v0.6h-0.6zM101.4,241.4h0.6v0.6h-0.6zM112.6,252.5h0.6v0.6h-0.6zM126.3,238.9h0.6v0.6h-0.6zM137.0,237.8h0.6v0.6h-0.6zM126.8,239.2h0.6v0.6h-0.6zM136.7,243.2h0.6v0.6h-0.6zM138.1,240.5h0.6v0.6h-0.6zM122.1,248.3h0.6v0.6h-0.6zM135.7,239.4h0.6v0.6h-0.6zM123.0,247.2h0.6v0.6h-0.6zM102.0,240.4h0.6v0.6h-0.6zM102.5,257.3h0.6v0.6h-0.6zM99.6,243.5h0.6v0.6h-0.6zM137.3,242.2h0.6v0.6h-0.6zM100.0,253.1h0.6v0.6h-0.6zM118.3,248.9h0.6v0.6h-0.6zM107.3,239.4h0.6v0.6h-0.6zM127.1,247.1h0.6v0.6h-0.6zM128.6,239.2h0.6v0.6h-0.6zM124.7,239.5h0.6v0.6h-0.6zM101.3,242.4h0.6v0.6h-0.6zM102.1,241.8h0.6v0.6h-0.6zM98.4,246.8h0.6v0.6h-0.6zM100.3,251.2h0.6v0.6h-0.6zM123.2,238.7h0.6v0.6h-0.6zM99.5,247.3h0.6v0.6h-0.6zM134.6,243.6h0.6v0.6h-0.6zM122.6,238.9h0.6v0.6h-0.6zM111.8,239.4h0.6v0.6h-0.6zM99.1,242.0h0.6v0.6h-0.6zM99.3,244.1h0.6v0.6h-0.6zM125.8,247.0h0.6v0.6h-0.6zM119.7,250.9h0.6v0.6h-0.6zM107.4,256.7h0.6v0.6h-0.6zM117.0,250.0h0.6v0.6h-0.6zM101.7,239.9h0.6v0.6h-0.6zM124.6,246.0h0.6v0.6h-0.6zM118.7,238.5h0.6v0.6h-0.6zM127.1,238.8h0.6v0.6h-0.6zM99.5,251.8h0.6v0.6h-0.6zM123.0,237.5h0.6v0.6h-0.6zM104.4,239.7h0.6v0.6h-0.6zM107.0,255.6h0.6v0.6h-0.6zM137.4,241.9h0.6v0.6h-0.6zM100.9,254.1h0.6v0.6h-0.6zM100.0,254.4h0.6v0.6h-0.6zM97.9,246.6h0.6v0.6h-0.6zM134.1,237.8h0.6v0.6h-0.6zM100.0,241.3h0.6v0.6h-0.6zM97.6,251.4h0.6v0.6h-0.6zM122.3,239.2h0.6v0.6h-0.6zM99.6,249.3h0.6v0.6h-0.6zM123.2,239.3h0.6v0.6h-0.6z" fill="#6a6a6a"/>
<path d="M100.00,243.00 C100.83,241.75 102.00,241.10 104.00,240.50 C106.00,239.90 109.00,239.65 112.00,239.40 C115.00,239.15 118.67,239.18 122.00,239.00 C125.33,238.82 129.42,238.17 132.00,238.30 C134.58,238.43 136.75,239.02 137.50,239.80 C138.25,240.58 138.08,241.97 136.50,243.00 C134.92,244.03 131.08,245.00 128.00,246.00 C124.92,247.00 121.00,247.67 118.00,249.00 C115.00,250.33 112.33,252.72 110.00,254.00 C107.67,255.28 105.67,256.78 104.00,256.70 C102.33,256.62 100.83,254.95 100.00,253.50 C99.17,252.05 99.00,249.75 99.00,248.00 C99.00,246.25 99.17,244.25 100.00,243.00Z" stroke="#444" stroke-width="0.75" fill="rgb(208,208,208)"/>
<path d="M100.94,243.70 C101.64,242.65 102.62,242.10 104.31,241.59 C106.00,241.09 108.53,240.88 111.06,240.67 C113.59,240.45 116.69,240.48 119.50,240.33 C122.31,240.17 125.76,239.62 127.94,239.74 C130.12,239.85 131.95,240.34 132.58,241.00 C133.21,241.66 133.07,242.83 131.73,243.70 C130.40,244.57 127.16,245.39 124.56,246.23 C121.96,247.08 118.66,247.64 116.12,248.77 C113.59,249.89 111.34,251.90 109.38,252.98 C107.41,254.07 105.72,255.33 104.31,255.26 C102.91,255.19 101.64,253.79 100.94,252.56 C100.23,251.34 100.09,249.40 100.09,247.92 C100.09,246.45 100.23,244.76 100.94,243.70Z" stroke="#7a7a7a" stroke-width="0.35" fill="rgb(196,196,196)"/>
<path d="M101.88,244.41 C102.45,243.55 103.25,243.10 104.62,242.69 C106.00,242.28 108.06,242.10 110.12,241.93 C112.19,241.76 114.71,241.78 117.00,241.66 C119.29,241.53 122.10,241.08 123.88,241.18 C125.65,241.27 127.14,241.67 127.66,242.21 C128.17,242.74 128.06,243.70 126.97,244.41 C125.88,245.12 123.24,245.78 121.12,246.47 C119.01,247.16 116.31,247.61 114.25,248.53 C112.19,249.45 110.35,251.09 108.75,251.97 C107.15,252.85 105.77,253.88 104.62,253.82 C103.48,253.77 102.45,252.62 101.88,251.62 C101.30,250.63 101.19,249.05 101.19,247.84 C101.19,246.64 101.30,245.27 101.88,244.41Z" stroke="#7a7a7a" stroke-width="0.35" fill="rgb(184,184,184)"/>
<path d="M102.81,245.11 C103.26,244.45 103.88,244.10 104.94,243.78 C106.00,243.46 107.59,243.33 109.19,243.20 C110.78,243.06 112.73,243.08 114.50,242.98 C116.27,242.89 118.44,242.54 119.81,242.61 C121.18,242.68 122.34,242.99 122.73,243.41 C123.13,243.83 123.04,244.56 122.20,245.11 C121.36,245.66 119.33,246.17 117.69,246.70 C116.05,247.23 113.97,247.59 112.38,248.30 C110.78,249.01 109.36,250.27 108.12,250.95 C106.89,251.63 105.82,252.43 104.94,252.39 C104.05,252.34 103.26,251.46 102.81,250.69 C102.37,249.92 102.28,248.70 102.28,247.77 C102.28,246.84 102.37,245.77 102.81,245.11Z" stroke="#7a7a7a" stroke-width="0.35" fill="rgb(173,173,173)"/>
<path d="M103.75,245.81 C104.06,245.34 104.50,245.10 105.25,244.88 C106.00,244.65 107.12,244.56 108.25,244.46 C109.38,244.37 110.75,244.38 112.00,244.31 C113.25,244.24 114.78,244.00 115.75,244.05 C116.72,244.10 117.53,244.32 117.81,244.61 C118.09,244.91 118.03,245.43 117.44,245.81 C116.84,246.20 115.41,246.56 114.25,246.94 C113.09,247.31 111.62,247.56 110.50,248.06 C109.38,248.56 108.38,249.46 107.50,249.94 C106.62,250.42 105.88,250.98 105.25,250.95 C104.62,250.92 104.06,250.29 103.75,249.75 C103.44,249.21 103.38,248.34 103.38,247.69 C103.38,247.03 103.44,246.28 103.75,245.81Z" stroke="#7a7a7a" stroke-width="0.35" fill="rgb(161,161,161)"/>
<path d="M104.69,246.52 C104.87,246.24 105.12,246.10 105.56,245.97 C106.00,245.84 106.66,245.78 107.31,245.73 C107.97,245.67 108.77,245.68 109.50,245.64 C110.23,245.60 111.12,245.46 111.69,245.49 C112.25,245.52 112.73,245.64 112.89,245.82 C113.05,245.99 113.02,246.29 112.67,246.52 C112.33,246.74 111.49,246.95 110.81,247.17 C110.14,247.39 109.28,247.54 108.62,247.83 C107.97,248.12 107.39,248.64 106.88,248.92 C106.36,249.20 105.93,249.53 105.56,249.51 C105.20,249.49 104.87,249.13 104.69,248.81 C104.51,248.50 104.47,247.99 104.47,247.61 C104.47,247.23 104.51,246.79 104.69,246.52Z" stroke="#7a7a7a" stroke-width="0.35" fill="rgb(150,150,150)"/>
<path d="M188.8,239.0h0.6v0.6h-0.6zM184.9,237.4h0.6v0.6h-0.6zM193.0,232.9h0.6v0.6h-0.6zM192.3,234.4h0.6v0.6h-0.6zM180.2,234.6h0.6v0.6h-0.6zM192.5,240.7h0.6v0.6h-0.6zM187.3,231.3h0.6v0.6h-0.6zM185.6,236.7h0.6v0.6h-0.6zM196.9,227.5h0.6v0.6h-0.6zM194.2,232.4h0.6v0.6h-0.6zM185.7,232.2h0.6v0.6h-0.6zM187.6,232.1h0.6v0.6h-0.6zM190.2,225.9h0.6v0.6h-0.6zM199.1,232.2h0.6v0.6h-0.6zM196.8,236.8h0.6v0.6h-0.6zM190.7,225.9h0.6v0.6h-0.6zM191.2,235.3h0.6v0.6h-0.6zM183.2,232.8h0.6v0.6h-0.6zM193.9,234.0h0.6v0.6h-0.6zM186.7,234.8h0.6v0.6h-0.6zM185.5,234.1h0.6v0.6h-0.6zM191.7,237.9h0.6v0.6h-0.6zM178.5,239.1h0.6v0.6h-0.6zM201.5,228.8h0.6v0.6h-0.6zM192.7,236.2h0.6v0.6h-0.6zM180.9,233.8h0.6v0.6h-0.6zM175.9,235.5h0.6v0.6h-0.6zM193.3,235.9h0.6v0.6h-0.6zM185.9,233.3h0.6v0.6h-0.6zM193.9,234.5h0.6v0.6h-0.6zM188.0,226.6h0.6v0.6h-0.6zM181.4,227.6h0.6v0.6h-0.6zM190.0,230.2h0.6v0.6h-0.6zM188.5,241.6h0.6v0.6h-0.6zM199.9,230.5h0.6v0.6h-0.6zM192.2,233.5h0.6v0.6h-0.6zM185.9,236.1h0.6v0.6h-0.6zM201.2,223.6h0.6v0.6h-0.6zM185.8,237.1h0.6v0.6h-0.6zM197.6,233.3h0.6v0.6h-0.6zM183.2,237.3h0.6v0.6h-0.6zM185.8,230.9h0.6v0.6h-0.6zM189.6,232.1h0.6v0.6h-0.6zM197.0,231.9h0.6v0.6h-0.6zM184.9,237.3h0.6v0.6h-0.6zM186.4,233.2h0.6v0.6h-0.6zM188.8,239.5h0.6v0.6h-0.6zM183.9,229.8h0.6v0.6h-0.6zM186.4,239.7h0.6v0.6h-0.6zM202.5,222.1h0.6v0.6h-0.6zM187.0,234.3h0.6v0.6h-0.6zM181.3,240.8h0.6v0.6h-0.6zM190.2,235.1h0.6v0.6h-0.6zM204.6,224.4h0.6v0.6h-0.6zM197.0,233.7h0.6v0.6h-0.6zM184.6,234.5h0.6v0.6h-0.6zM201.9,230.4h0.6v0.6h-0.6zM188.8,229.8h0.6v0.6h-0.6zM197.0,232.3h0.6v0.6h-0.6zM207.7,230.4h0.6v0.6h-0.6zM195.9,231.8h0.6v0.6h-0.6zM189.3,231.9h0.6v0.6h-0.6zM192.6,233.6h0.6v0.6h-0.6zM196.5,235.1h0.6v0.6h-0.6zM191.0,231.0h0.6v0.6h-0.6zM198.5,236.1h0.6v0.6h-0.6zM185.2,238.7h0.6v0.6h-0.6zM194.7,233.7h0.6v0.6h-0.6zM193.2,231.7h0.6v0.6h-0.6zM192.6,240.1h0.6v0.6h-0.6zM198.9,222.5h0.6v0.6h-0.6zM173.8,245.3h0.6v0.6h-0.6zM184.5,234.9h0.6v0.6h-0.6zM180.0,241.4h0.6v0.6h-0.6zM188.6,232.4h0.6v0.6h-0.6zM200.8,238.7h0.6v0.6h-0.6zM202.2,232.2h0.6v0.6h-0.6zM188.5,237.8h0.6v0.6h-0.6zM192.0,238.0h0.6v0.6h-0.6zM193.9,231.6h0.6v0.6h-0.6zM192.3,229.4h0.6v0.6h-0.6zM198.3,236.0h0.6v0.6h-0.6zM188.7,237.3h0.6v0.6h-0.6zM180.6,243.6h0.6v0.6h-0.6zM193.9,227.2h0.6v0.6h-0.6zM202.0,227.6h0.6v0.6h-0.6zM175.7,236.1h0.6v0.6h-0.6zM195.4,229.7h0.6v0.6h-0.6zM194.4,224.5h0.6v0.6h-0.6zM191.2,237.7h0.6v0.6h-0.6zM186.8,238.9h0.6v0.6h-0.6zM188.3,236.6h0.6v0.6h-0.6zM196.5,240.3h0.6v0.6h-0.6zM183.2,241.4h0.6v0.6h-0.6zM196.6,225.1h0.6v0.6h-0.6zM195.0,241.5h0.6v0.6h-0.6zM191.3,219.9h0.6v0.6h-0.6zM185.1,229.2h0.6v0.6h-0.6zM190.6,230.4h0.6v0.6h-0.6zM184.6,233.4h0.6v0.6h-0.6zM191.1,231.3h0.6v0.6h-0.6zM183.5,236.8h0.6v0.6h-0.6zM191.1,229.5h0.6v0.6h-0.6zM194.3,224.1h0.6v0.6h-0.6zM192.0,231.1h0.6v0.6h-0.6zM199.3,225.7h0.6v0.6h-0.6zM182.9,232.1h0.6v0.6h-0.6zM204.6,228.4h0.6v0.6h-0.6zM182.0,237.1h0.6v0.6h-0.6zM186.5,242.8h0.6v0.6h-0.6zM188.9,225.5h0.6v0.6h-0.6zM193.2,236.3h0.6v0.6h-0.6zM190.9,235.6h0.6v0.6h-0.6zM189.7,235.1h0.6v0.6h-0.6zM190.1,230.8h0.6v0.6h-0.6zM192.7,233.2h0.6v0.6h-0.6zM188.4,231.8h0.6v0.6h-0.6zM183.7,238.8h0.6v0.6h-0.6zM190.9,222.7h0.6v0.6h-0.6zM189.0,240.6h0.6v0.6h-0.6zM194.8,228.0h0.6v0.6h-0.6zM197.2,225.4h0.6v0.6h-0.6zM188.5,243.6h0.6v0.6h-0.6zM186.6,235.0h0.6v0.6h-0.6zM176.9,237.0h0.6v0.6h-0.6zM181.8,238.1h0.6v0.6h-0.6zM179.7,244.7h0.6v0.6h-0.6zM186.4,233.3h0.6v0.6h-0.6zM187.2,239.0h0.6v0.6h-0.6zM199.5,226.7h0.6v0.6h-0.6zM204.0,233.1h0.6v0.6h-0.6zM199.6,229.8h0.6v0.6h-0.6zM181.3,242.1h0.6v0.6h-0.6zM187.6,236.2h0.6v0.6h-0.6zM176.8,240.4h0.6v0.6h-0.6zM189.8,229.9h0.6v0.6h-0.6zM195.2,238.5h0.6v0.6h-0.6zM190.2,230.8h0.6v0.6h-0.6zM201.9,217.5h0.6v0.6h-0.6zM184.6,239.0h0.6v0.6h-0.6zM181.6,228.6h0.6v0.6h-0.6zM193.4,235.8h0.6v0.6h-0.6zM187.5,242.0h0.6v0.6h-0.6zM195.7,236.1h0.6v0.6h-0.6zM179.7,239.9h0.6v0.6h-0.6zM204.7,234.6h0.6v0.6h-0.6zM198.9,228.9h0.6v0.6h-0.6zM190.0,231.2h0.6v0.6h-0.6zM196.1,227.4h0.6v0.6h-0.6zM186.8,226.6h0.6v0.6h-0.6zM183.3,245.9h0.6v0.6h-0.6zM190.8,234.5h0.6v0.6h-0.6zM175.1,242.4h0.6v0.6h-0.6zM201.1,220.9h0.6v0.6h-0.6zM173.6,242.7h0.6v0.6h-0.6zM186.0,235.4h0.6v0.6h-0.6zM178.9,234.3h0.6v0.6h-0.6zM182.9,241.0h0.6v0.6h-0.6zM191.3,237.0h0.6v0.6h-0.6zM183.9,240.2h0.6v0.6h-0.6zM187.2,236.0h0.6v0.6h-0.6zM196.4,230.5h0.6v0.6h-0.6zM184.4,229.7h0.6v0.6h-0.6zM192.0,236.4h0.6v0.6h-0.6zM185.6,236.2h0.6v0.6h-0.6zM175.4,236.4h0.6v0.6h-0.6zM195.3,236.8h0.6v0.6h-0.6zM184.6,229.5h0.6v0.6h-0.6zM184.4,230.2h0.6v0.6h-0.6zM191.9,241.6h0.6v0.6h-0.6zM191.7,232.3h0.6v0.6h-0.6zM196.3,228.7h0.6v0.6h-0.6zM192.6,233.4h0.6v0.6h-0.6zM190.1,227.3h0.6v0.6h-0.6zM196.6,234.2h0.6v0.6h-0.6zM169.2,233.7h0.6v0.6h-0.6zM186.8,242.6h0.6v0.6h-0.6zM191.5,236.2h0.6v0.6h-0.6zM195.5,234.8h0.6v0.6h-0.6zM184.5,234.5h0.6v0.6h-0.6zM193.8,234.6h0.6v0.6h-0.6zM194.6,232.9h0.6v0.6h-0.6zM188.9,239.7h0.6v0.6h-0.6zM195.3,235.8h0.6v0.6h-0.6zM174.7,247.4h0.6v0.6h-0.6zM173.8,244.3h0.6v0.6h-0.6zM185.7,237.0h0.6v0.6h-0.6zM186.1,234.8h0.6v0.6h-0.6zM192.0,234.4h0.6v0.6h-0.6zM179.6,228.5h0.6v0.6h-0.6zM185.7,238.9h0.6v0.6h-0.6zM185.1,238.8h0.6v0.6h-0.6zM185.6,232.2h0.6v0.6h-0.6zM201.2,235.1h0.6v0.6h-0.6zM189.2,234.2h0.6v0.6h-0.6zM193.9,225.7h0.6v0.6h-0.6zM186.3,241.3h0.6v0.6h-0.6zM195.2,228.8h0.6v0.6h-0.6zM185.4,238.3h0.6v0.6h-0.6zM179.4,237.9h0.6v0.6h-0.6zM183.6,226.5h0.6v0.6h-0.6zM195.6,234.3h0.6v0.6h-0.6zM194.5,224.9h0.6v0.6h-0.6zM179.6,236.3h0.6v0.6h-0.6zM185.1,246.2h0.6v0.6h-0.6zM182.7,236.8h0.6v0.6h-0.6zM192.3,234.7h0.6v0.6h-0.6zM197.8,224.5h0.6v0.6h-0.6zM196.3,231.0h0.6v0.6h-0.6zM182.3,239.2h0.6v0.6h-0.6zM183.6,245.1h0.6v0.6h-0.6zM187.0,240.3h0.6v0.6h-0.6zM197.7,226.7h0.6v0.6h-0.6zM184.1,238.0h0.6v0.6h-0.6zM184.6,241.3h0.6v0.6h-0.6zM189.7,230.7h0.6v0.6h-0.6zM186.7,239.2h0.6v0.6h-0.6zM183.4,245.6h0.6v0.6h-0.6zM184.2,236.4h0.6v0.6h-0.6zM186.9,243.3h0.6v0.6h-0.6zM198.3,235.2h0.6v0.6h-0.6zM194.7,231.7h0.6v0.6h-0.6zM203.0,229.5h0.6v0.6h-0.6zM194.2,234.3h0.6v0.6h-0.6zM195.6,232.0h0.6v0.6h-0.6zM185.7,229.2h0.6v0.6h-0.6zM201.6,221.3h0.6v0.6h-0.6zM173.7,240.1h0.6v0.6h-0.6zM205.8,230.5h0.6v0.6h-0.6zM186.4,237.3h0.6v0.6h-0.6zM185.9,227.2h0.6v0.6h-0.6zM188.3,236.3h0.6v0.6h-0.6zM195.7,225.2h0.6v0.6h-0.6zM171.3,237.6h0.6v0.6h-0.6zM192.4,233.0h0.6v0.6h-0.6zM191.3,233.9h0.6v0.6h-0.6zM184.7,230.7h0.6v0.6h-0.6zM193.9,233.5h0.6v0.6h-0.6zM196.5,236.0h0.6v0.6h-0.6zM176.8,230.9h0.6v0.6h-0.6zM181.9,248.5h0.6v0.6h-0.6zM184.5,239.0h0.6v0.6h-0.6zM191.4,236.6h0.6v0.6h-0.6zM211.2,219.4h0.6v0.6h-0.6zM187.6,232.6h0.6v0.6h-0.6zM192.7,234.8h0.6v0.6h-0.6zM185.9,242.4h0.6v0.6h-0.6zM198.8,231.0h0.6v0.6h-0.6zM188.8,233.6h0.6v0.6h-0.6zM179.9,242.8h0.6v0.6h-0.6zM182.2,236.2h0.6v0.6h-0.6zM195.1,226.8h0.6v0.6h-0.6zM188.1,239.1h0.6v0.6h-0.6zM201.5,224.2h0.6v0.6h-0.6zM196.3,227.3h0.6v0.6h-0.6zM193.7,234.1h0.6v0.6h-0.6zM184.2,242.1h0.6v0.6h-0.6zM202.6,227.0h0.6v0.6h-0.6zM189.5,228.9h0.6v0.6h-0.6zM202.5,227.1h0.6v0.6h-0.6z" fill="#777"/>
<path d="M163.8,252.6h0.6v0.6h-0.6zM162.3,243.9h0.6v0.6h-0.6zM191.7,244.2h0.6v0.6h-0.6zM168.8,244.5h0.6v0.6h-0.6zM169.5,251.3h0.6v0.6h-0.6zM185.7,242.0h0.6v0.6h-0.6zM177.5,237.2h0.6v0.6h-0.6zM186.2,247.5h0.6v0.6h-0.6zM168.4,257.2h0.6v0.6h-0.6zM173.2,256.2h0.6v0.6h-0.6zM182.6,257.9h0.6v0.6h-0.6zM167.6,248.3h0.6v0.6h-0.6zM176.9,246.8h0.6v0.6h-0.6zM186.2,243.7h0.6v0.6h-0.6zM182.0,256.2h0.6v0.6h-0.6zM166.8,244.7h0.6v0.6h-0.6zM177.1,247.0h0.6v0.6h-0.6zM174.6,245.2h0.6v0.6h-0.6zM173.3,250.9h0.6v0.6h-0.6zM180.0,243.3h0.6v0.6h-0.6zM173.1,243.4h0.6v0.6h-0.6zM172.6,239.4h0.6v0.6h-0.6zM181.6,252.0h0.6v0.6h-0.6zM173.0,243.9h0.6v0.6h-0.6zM170.3,244.0h0.6v0.6h-0.6zM161.7,257.8h0.6v0.6h-0.6zM200.3,240.6h0.6v0.6h-0.6zM164.7,251.5h0.6v0.6h-0.6zM178.8,238.6h0.6v0.6h-0.6zM170.0,248.5h0.6v0.6h-0.6zM174.0,244.6h0.6v0.6h-0.6zM172.9,246.2h0.6v0.6h-0.6zM184.0,247.4h0.6v0.6h-0.6zM173.7,244.8h0.6v0.6h-0.6zM168.9,243.6h0.6v0.6h-0.6zM174.1,259.0h0.6v0.6h-0.6zM182.9,249.4h0.6v0.6h-0.6zM187.4,254.1h0.6v0.6h-0.6zM175.7,247.0h0.6v0.6h-0.6zM165.2,249.5h0.6v0.6h-0.6zM171.5,238.5h0.6v0.6h-0.6zM163.7,259.6h0.6v0.6h-0.6zM175.7,251.0h0.6v0.6h-0.6zM175.6,245.2h0.6v0.6h-0.6zM177.7,254.5h0.6v0.6h-0.6zM171.5,251.1h0.6v0.6h-0.6zM182.2,245.1h0.6v0.6h-0.6zM175.4,243.6h0.6v0.6h-0.6zM178.8,245.8h0.6v0.6h-0.6zM183.2,243.4h0.6v0.6h-0.6zM187.5,246.1h0.6v0.6h-0.6zM167.3,242.6h0.6v0.6h-0.6zM179.3,242.9h0.6v0.6h-0.6zM188.4,255.7h0.6v0.6h-0.6zM178.1,239.5h0.6v0.6h-0.6zM173.8,243.6h0.6v0.6h-0.6zM191.6,244.8h0.6v0.6h-0.6zM180.5,255.7h0.6v0.6h-0.6zM166.3,246.0h0.6v0.6h-0.6zM176.1,250.8h0.6v0.6h-0.6zM164.8,249.3h0.6v0.6h-0.6zM173.1,253.7h0.6v0.6h-0.6zM161.2,244.6h0.6v0.6h-0.6zM170.0,246.1h0.6v0.6h-0.6zM179.8,244.2h0.6v0.6h-0.6zM195.9,243.8h0.6v0.6h-0.6zM180.7,254.1h0.6v0.6h-0.6zM181.7,246.8h0.6v0.6h-0.6zM167.4,246.5h0.6v0.6h-0.6zM179.3,248.7h0.6v0.6h-0.6zM178.7,251.4h0.6v0.6h-0.6zM166.9,242.4h0.6v0.6h-0.6zM185.5,245.1h0.6v0.6h-0.6zM161.3,259.2h0.6v0.6h-0.6zM167.3,242.4h0.6v0.6h-0.6zM181.7,241.2h0.6v0.6h-0.6zM167.0,254.3h0.6v0.6h-0.6zM167.4,263.0h0.6v0.6h-0.6zM174.8,264.1h0.6v0.6h-0.6zM175.0,248.3h0.6v0.6h-0.6zM168.9,246.7h0.6v0.6h-0.6zM170.0,247.9h0.6v0.6h-0.6zM180.2,240.4h0.6v0.6h-0.6zM166.7,235.4h0.6v0.6h-0.6zM186.0,247.6h0.6v0.6h-0.6zM173.9,247.7h0.6v0.6h-0.6zM182.0,249.9h0.6v0.6h-0.6zM180.8,247.0h0.6v0.6h-0.6zM173.0,247.7h0.6v0.6h-0.6zM161.4,242.0h0.6v0.6h-0.6zM179.4,248.3h0.6v0.6h-0.6zM180.5,258.2h0.6v0.6h-0.6zM188.9,256.3h0.6v0.6h-0.6zM172.2,260.3h0.6v0.6h-0.6z" fill="#888"/>
<path d="M200.1,243.8h0.6v0.6h-0.6zM191.6,247.3h0.6v0.6h-0.6zM172.9,256.6h0.6v0.6h-0.6zM170.6,240.3h0.6v0.6h-0.6zM187.0,250.1h0.6v0.6h-0.6zM201.3,229.7h0.6v0.6h-0.6zM178.8,238.4h0.6v0.6h-0.6zM174.5,238.3h0.6v0.6h-0.6zM169.0,241.5h0.6v0.6h-0.6zM165.1,245.2h0.6v0.6h-0.6zM204.9,236.7h0.6v0.6h-0.6zM166.8,254.8h0.6v0.6h-0.6zM168.2,242.1h0.6v0.6h-0.6zM173.3,239.7h0.6v0.6h-0.6zM174.2,238.9h0.6v0.6h-0.6zM202.7,229.4h0.6v0.6h-0.6zM164.3,249.0h0.6v0.6h-0.6zM187.4,237.1h0.6v0.6h-0.6zM165.8,241.7h0.6v0.6h-0.6zM181.3,237.8h0.6v0.6h-0.6zM204.0,233.2h0.6v0.6h-0.6zM191.5,236.6h0.6v0.6h-0.6zM200.2,230.5h0.6v0.6h-0.6zM173.6,256.3h0.6v0.6h-0.6zM165.7,240.2h0.6v0.6h-0.6zM205.4,234.3h0.6v0.6h-0.6zM193.4,247.4h0.6v0.6h-0.6zM178.9,237.9h0.6v0.6h-0.6zM166.2,239.4h0.6v0.6h-0.6zM171.7,255.7h0.6v0.6h-0.6zM191.6,236.7h0.6v0.6h-0.6zM173.8,256.4h0.6v0.6h-0.6zM179.4,237.7h0.6v0.6h-0.6zM185.6,237.7h0.6v0.6h-0.6zM170.1,255.4h0.6v0.6h-0.6zM165.6,252.6h0.6v0.6h-0.6zM173.5,256.4h0.6v0.6h-0.6zM165.7,252.2h0.6v0.6h-0.6zM204.4,235.6h0.6v0.6h-0.6zM198.0,245.0h0.6v0.6h-0.6zM203.0,230.6h0.6v0.6h-0.6zM183.4,250.1h0.6v0.6h-0.6zM193.4,235.9h0.6v0.6h-0.6zM165.4,250.5h0.6v0.6h-0.6zM173.8,254.4h0.6v0.6h-0.6zM176.6,237.7h0.6v0.6h-0.6zM196.8,235.3h0.6v0.6h-0.6zM165.8,242.6h0.6v0.6h-0.6zM165.2,241.3h0.6v0.6h-0.6zM170.7,256.2h0.6v0.6h-0.6zM168.5,255.1h0.6v0.6h-0.6zM167.8,238.7h0.6v0.6h-0.6zM164.9,250.0h0.6v0.6h-0.6zM179.6,253.9h0.6v0.6h-0.6zM166.1,254.1h0.6v0.6h-0.6zM185.7,238.2h0.6v0.6h-0.6zM160.4,250.0h0.6v0.6h-0.6zM202.9,230.6h0.6v0.6h-0.6zM199.1,231.4h0.6v0.6h-0.6zM188.1,237.4h0.6v0.6h-0.6zM195.0,235.4h0.6v0.6h-0.6zM168.7,256.4h0.6v0.6h-0.6zM200.2,229.8h0.6v0.6h-0.6zM203.6,234.6h0.6v0.6h-0.6zM164.6,248.1h0.6v0.6h-0.6zM201.3,229.6h0.6v0.6h-0.6zM169.6,255.2h0.6v0.6h-0.6zM163.9,243.5h0.6v0.6h-0.6zM199.0,244.9h0.6v0.6h-0.6zM177.8,238.0h0.6v0.6h-0.6zM164.0,249.4h0.6v0.6h-0.6zM171.9,240.2h0.6v0.6h-0.6zM203.7,234.4h0.6v0.6h-0.6zM201.6,241.7h0.6v0.6h-0.6zM202.9,239.2h0.6v0.6h-0.6zM198.7,244.5h0.6v0.6h-0.6zM178.2,253.7h0.6v0.6h-0.6zM201.0,230.0h0.6v0.6h-0.6zM169.9,240.1h0.6v0.6h-0.6zM185.9,250.5h0.6v0.6h-0.6zM188.0,236.5h0.6v0.6h-0.6zM166.1,241.5h0.6v0.6h-0.6zM204.7,231.0h0.6v0.6h-0.6zM189.1,249.3h0.6v0.6h-0.6zM202.9,238.8h0.6v0.6h-0.6zM201.1,240.8h0.6v0.6h-0.6zM171.6,239.0h0.6v0.6h-0.6zM167.5,254.3h0.6v0.6h-0.6zM173.4,256.6h0.6v0.6h-0.6zM186.8,237.5h0.6v0.6h-0.6zM194.9,246.3h0.6v0.6h-0.6zM168.2,255.2h0.6v0.6h-0.6zM203.4,239.2h0.6v0.6h-0.6zM204.9,235.1h0.6v0.6h-0.6zM164.4,245.4h0.6v0.6h-0.6zM167.1,240.3h0.6v0.6h-0.6zM198.3,232.7h0.6v0.6h-0.6zM204.3,236.0h0.6v0.6h-0.6zM168.9,241.8h0.6v0.6h-0.6zM202.4,240.4h0.6v0.6h-0.6zM205.7,230.4h0.6v0.6h-0.6zM189.9,236.7h0.6v0.6h-0.6zM188.9,238.2h0.6v0.6h-0.6zM169.6,255.8h0.6v0.6h-0.6zM167.4,241.6h0.6v0.6h-0.6zM182.2,237.1h0.6v0.6h-0.6zM201.8,230.3h0.6v0.6h-0.6zM196.5,235.7h0.6v0.6h-0.6zM200.8,229.6h0.6v0.6h-0.6zM196.3,233.9h0.6v0.6h-0.6zM204.1,231.7h0.6v0.6h-0.6zM201.6,241.6h0.6v0.6h-0.6zM171.0,256.0h0.6v0.6h-0.6zM203.3,234.3h0.6v0.6h-0.6zM194.3,236.5h0.6v0.6h-0.6zM181.6,251.4h0.6v0.6h-0.6zM185.1,237.9h0.6v0.6h-0.6zM185.2,249.7h0.6v0.6h-0.6zM162.8,244.0h0.6v0.6h-0.6zM202.8,229.6h0.6v0.6h-0.6zM175.3,254.4h0.6v0.6h-0.6zM171.3,255.5h0.6v0.6h-0.6zM180.3,238.5h0.6v0.6h-0.6zM164.2,249.5h0.6v0.6h-0.6zM198.0,232.8h0.6v0.6h-0.6zM190.5,236.8h0.6v0.6h-0.6zM176.0,238.9h0.6v0.6h-0.6zM204.9,236.8h0.6v0.6h-0.6zM165.9,241.8h0.6v0.6h-0.6zM202.5,229.4h0.6v0.6h-0.6zM204.4,236.2h0.6v0.6h-0.6zM165.7,252.8h0.6v0.6h-0.6zM190.9,249.3h0.6v0.6h-0.6zM203.1,243.2h0.6v0.6h-0.6zM164.0,247.0h0.6v0.6h-0.6zM191.3,237.4h0.6v0.6h-0.6zM175.0,254.6h0.6v0.6h-0.6zM194.5,236.1h0.6v0.6h-0.6zM197.8,245.0h0.6v0.6h-0.6zM195.3,234.3h0.6v0.6h-0.6zM169.2,237.3h0.6v0.6h-0.6zM162.9,248.1h0.6v0.6h-0.6zM201.0,242.1h0.6v0.6h-0.6zM203.7,234.9h0.6v0.6h-0.6zM190.8,236.2h0.6v0.6h-0.6zM198.4,231.0h0.6v0.6h-0.6zM198.6,231.6h0.6v0.6h-0.6zM184.8,238.0h0.6v0.6h-0.6zM198.5,231.5h0.6v0.6h-0.6zM203.7,235.7h0.6v0.6h-0.6zM206.4,236.2h0.6v0.6h-0.6zM173.7,255.1h0.6v0.6h-0.6zM169.5,255.7h0.6v0.6h-0.6zM174.4,239.0h0.6v0.6h-0.6zM198.6,231.6h0.6v0.6h-0.6zM166.7,240.0h0.6v0.6h-0.6zM187.4,250.0h0.6v0.6h-0.6zM178.7,251.7h0.6v0.6h-0.6zM185.7,249.7h0.6v0.6h-0.6zM198.0,232.2h0.6v0.6h-0.6zM176.8,238.7h0.6v0.6h-0.6zM202.9,240.2h0.6v0.6h-0.6zM165.8,245.5h0.6v0.6h-0.6zM206.4,232.7h0.6v0.6h-0.6zM189.2,237.6h0.6v0.6h-0.6zM198.1,232.0h0.6v0.6h-0.6zM191.2,247.5h0.6v0.6h-0.6zM170.9,256.4h0.6v0.6h-0.6zM187.6,249.5h0.6v0.6h-0.6zM191.3,236.2h0.6v0.6h-0.6zM187.3,248.8h0.6v0.6h-0.6zM188.3,236.5h0.6v0.6h-0.6zM206.0,232.6h0.6v0.6h-0.6zM187.0,237.6h0.6v0.6h-0.6zM170.0,256.7h0.6v0.6h-0.6zM186.3,237.9h0.6v0.6h-0.6zM187.9,237.8h0.6v0.6h-0.6zM186.1,238.4h0.6v0.6h-0.6zM201.9,229.7h0.6v0.6h-0.6zM204.5,228.8h0.6v0.6h-0.6zM189.4,250.0h0.6v0.6h-0.6zM167.1,241.3h0.6v0.6h-0.6zM185.0,250.1h0.6v0.6h-0.6zM170.0,241.2h0.6v0.6h-0.6zM166.4,239.7h0.6v0.6h-0.6zM201.9,229.8h0.6v0.6h-0.6zM205.7,228.5h0.6v0.6h-0.6zM202.7,228.8h0.6v0.6h-0.6zM194.6,246.6h0.6v0.6h-0.6zM197.7,232.4h0.6v0.6h-0.6zM188.7,248.7h0.6v0.6h-0.6zM197.4,245.6h0.6v0.6h-0.6zM170.8,255.4h0.6v0.6h-0.6zM191.5,237.6h0.6v0.6h-0.6zM176.0,254.1h0.6v0.6h-0.6zM184.9,236.5h0.6v0.6h-0.6zM162.6,246.3h0.6v0.6h-0.6zM171.4,257.0h0.6v0.6h-0.6zM186.7,249.7h0.6v0.6h-0.6zM191.6,247.3h0.6v0.6h-0.6zM163.4,243.8h0.6v0.6h-0.6zM204.4,237.6h0.6v0.6h-0.6zM198.3,244.3h0.6v0.6h-0.6zM204.9,235.6h0.6v0.6h-0.6zM204.6,230.8h0.6v0.6h-0.6zM175.9,253.0h0.6v0.6h-0.6zM170.1,255.8h0.6v0.6h-0.6zM169.0,239.9h0.6v0.6h-0.6zM196.9,245.7h0.6v0.6h-0.6zM197.3,233.1h0.6v0.6h-0.6zM164.1,243.8h0.6v0.6h-0.6zM184.1,250.8h0.6v0.6h-0.6zM203.9,234.2h0.6v0.6h-0.6zM182.6,237.2h0.6v0.6h-0.6zM170.6,255.8h0.6v0.6h-0.6zM165.1,254.4h0.6v0.6h-0.6zM192.4,247.3h0.6v0.6h-0.6zM171.6,237.6h0.6v0.6h-0.6zM201.2,229.9h0.6v0.6h-0.6zM198.5,231.4h0.6v0.6h-0.6zM164.8,249.1h0.6v0.6h-0.6zM180.6,252.9h0.6v0.6h-0.6zM187.4,238.6h0.6v0.6h-0.6zM205.7,235.6h0.6v0.6h-0.6zM166.4,253.8h0.6v0.6h-0.6zM168.4,238.2h0.6v0.6h-0.6zM171.1,257.2h0.6v0.6h-0.6zM165.0,257.1h0.6v0.6h-0.6zM203.8,231.1h0.6v0.6h-0.6zM203.1,239.1h0.6v0.6h-0.6zM180.1,238.7h0.6v0.6h-0.6zM171.7,257.8h0.6v0.6h-0.6zM162.9,245.0h0.6v0.6h-0.6zM200.2,230.4h0.6v0.6h-0.6zM163.8,245.4h0.6v0.6h-0.6zM190.2,248.0h0.6v0.6h-0.6zM170.4,240.0h0.6v0.6h-0.6zM168.8,257.6h0.6v0.6h-0.6zM165.0,247.4h0.6v0.6h-0.6zM200.9,230.7h0.6v0.6h-0.6zM169.7,257.5h0.6v0.6h-0.6zM195.4,246.0h0.6v0.6h-0.6zM204.1,228.8h0.6v0.6h-0.6zM166.2,242.0h0.6v0.6h-0.6zM163.5,247.7h0.6v0.6h-0.6zM203.6,231.7h0.6v0.6h-0.6zM196.1,234.7h0.6v0.6h-0.6zM196.9,245.8h0.6v0.6h-0.6zM164.7,247.9h0.6v0.6h-0.6zM200.0,230.4h0.6v0.6h-0.6zM164.9,250.8h0.6v0.6h-0.6zM173.5,254.5h0.6v0.6h-0.6zM190.6,237.0h0.6v0.6h-0.6zM204.9,236.0h0.6v0.6h-0.6zM173.0,238.3h0.6v0.6h-0.6zM189.2,249.9h0.6v0.6h-0.6zM185.1,250.4h0.6v0.6h-0.6zM204.8,236.7h0.6v0.6h-0.6zM203.1,239.1h0.6v0.6h-0.6zM162.6,248.7h0.6v0.6h-0.6zM164.6,247.1h0.6v0.6h-0.6zM180.0,252.6h0.6v0.6h-0.6zM178.7,253.6h0.6v0.6h-0.6zM164.6,244.2h0.6v0.6h-0.6zM203.8,231.3h0.6v0.6h-0.6zM180.1,237.1h0.6v0.6h-0.6zM163.8,247.4h0.6v0.6h-0.6zM203.7,239.0h0.6v0.6h-0.6zM196.8,233.1h0.6v0.6h-0.6zM166.4,253.4h0.6v0.6h-0.6zM203.4,231.9h0.6v0.6h-0.6zM197.1,233.8h0.6v0.6h-0.6zM203.9,234.7h0.6v0.6h-0.6zM166.2,239.4h0.6v0.6h-0.6zM176.5,253.2h0.6v0.6h-0.6zM203.6,242.6h0.6v0.6h-0.6zM203.9,237.4h0.6v0.6h-0.6zM183.3,250.8h0.6v0.6h-0.6zM168.0,254.5h0.6v0.6h-0.6zM173.1,255.5h0.6v0.6h-0.6zM165.1,243.0h0.6v0.6h-0.6zM177.4,253.2h0.6v0.6h-0.6zM172.0,239.6h0.6v0.6h-0.6zM163.8,247.5h0.6v0.6h-0.6zM202.9,240.0h0.6v0.6h-0.6zM191.0,237.5h0.6v0.6h-0.6zM164.1,247.5h0.6v0.6h-0.6zM196.3,235.2h0.6v0.6h-0.6zM199.3,230.3h0.6v0.6h-0.6zM195.9,233.9h0.6v0.6h-0.6zM164.9,241.2h0.6v0.6h-0.6zM202.0,229.6h0.6v0.6h-0.6zM180.7,253.9h0.6v0.6h-0.6zM188.9,237.2h0.6v0.6h-0.6zM165.4,251.8h0.6v0.6h-0.6zM204.8,233.2h0.6v0.6h-0.6zM197.5,234.4h0.6v0.6h-0.6zM190.4,248.0h0.6v0.6h-0.6zM181.4,238.3h0.6v0.6h-0.6zM170.3,255.6h0.6v0.6h-0.6zM204.0,238.0h0.6v0.6h-0.6zM166.2,252.1h0.6v0.6h-0.6zM171.4,256.1h0.6v0.6h-0.6zM201.6,229.5h0.6v0.6h-0.6zM203.8,238.7h0.6v0.6h-0.6zM170.4,255.8h0.6v0.6h-0.6zM193.7,235.9h0.6v0.6h-0.6zM172.6,256.5h0.6v0.6h-0.6zM173.3,255.1h0.6v0.6h-0.6zM193.3,247.5h0.6v0.6h-0.6zM204.0,233.2h0.6v0.6h-0.6zM173.5,258.4h0.6v0.6h-0.6zM183.6,249.6h0.6v0.6h-0.6zM165.9,240.9h0.6v0.6h-0.6zM174.1,237.7h0.6v0.6h-0.6zM183.3,237.9h0.6v0.6h-0.6zM202.4,240.8h0.6v0.6h-0.6zM171.4,239.8h0.6v0.6h-0.6zM199.3,244.5h0.6v0.6h-0.6zM178.8,237.9h0.6v0.6h-0.6zM170.5,239.4h0.6v0.6h-0.6zM183.0,249.8h0.6v0.6h-0.6zM197.7,232.0h0.6v0.6h-0.6zM204.7,233.7h0.6v0.6h-0.6zM169.7,256.7h0.6v0.6h-0.6zM173.6,254.1h0.6v0.6h-0.6zM202.8,241.8h0.6v0.6h-0.6zM167.5,241.6h0.6v0.6h-0.6zM181.2,238.4h0.6v0.6h-0.6zM203.0,240.6h0.6v0.6h-0.6zM201.1,243.9h0.6v0.6h-0.6zM199.9,244.6h0.6v0.6h-0.6zM187.3,237.4h0.6v0.6h-0.6zM169.6,241.2h0.6v0.6h-0.6zM203.8,233.5h0.6v0.6h-0.6zM189.5,237.0h0.6v0.6h-0.6zM200.9,229.2h0.6v0.6h-0.6zM188.5,237.6h0.6v0.6h-0.6zM173.2,256.2h0.6v0.6h-0.6zM200.4,244.3h0.6v0.6h-0.6z" fill="#6a6a6a"/>
<path d="M165.00,244.00 C165.92,242.45 167.83,241.10 170.00,240.20 C172.17,239.30 175.00,238.97 178.00,238.60 C181.00,238.23 185.17,238.43 188.00,238.00 C190.83,237.57 193.25,237.17 195.00,236.00 C196.75,234.83 197.33,232.12 198.50,231.00 C199.67,229.88 201.03,229.05 202.00,229.30 C202.97,229.55 204.10,230.97 204.30,232.50 C204.50,234.03 203.92,236.58 203.20,238.50 C202.48,240.42 202.20,242.42 200.00,244.00 C197.80,245.58 193.33,246.75 190.00,248.00 C186.67,249.25 183.00,250.20 180.00,251.50 C177.00,252.80 174.17,255.30 172.00,255.80 C169.83,256.30 168.25,255.55 167.00,254.50 C165.75,253.45 164.83,251.25 164.50,249.50 C164.17,247.75 164.08,245.55 165.00,244.00Z" stroke="#444" stroke-width="0.75" fill="rgb(208,208,208)"/>
<path d="M166.09,244.39 C166.87,243.08 168.48,241.94 170.31,241.18 C172.14,240.42 174.53,240.14 177.06,239.83 C179.59,239.53 183.11,239.69 185.50,239.33 C187.89,238.96 189.93,238.62 191.41,237.64 C192.88,236.66 193.38,234.36 194.36,233.42 C195.34,232.48 196.50,231.78 197.31,231.99 C198.13,232.20 199.08,233.39 199.25,234.69 C199.42,235.98 198.93,238.13 198.32,239.75 C197.72,241.37 197.48,243.05 195.62,244.39 C193.77,245.73 190.00,246.71 187.19,247.77 C184.38,248.82 181.28,249.62 178.75,250.72 C176.22,251.82 173.83,253.93 172.00,254.35 C170.17,254.77 168.84,254.14 167.78,253.25 C166.73,252.36 165.95,250.51 165.67,249.03 C165.39,247.55 165.32,245.70 166.09,244.39Z" stroke="#7a7a7a" stroke-width="0.35" fill="rgb(196,196,196)"/>
<path d="M167.19,244.78 C167.82,243.72 169.14,242.79 170.62,242.17 C172.11,241.55 174.06,241.32 176.12,241.07 C178.19,240.82 181.05,240.95 183.00,240.66 C184.95,240.36 186.61,240.08 187.81,239.28 C189.02,238.48 189.42,236.61 190.22,235.84 C191.02,235.08 191.96,234.50 192.62,234.68 C193.29,234.85 194.07,235.82 194.21,236.88 C194.34,237.93 193.94,239.68 193.45,241.00 C192.96,242.32 192.76,243.69 191.25,244.78 C189.74,245.87 186.67,246.67 184.38,247.53 C182.08,248.39 179.56,249.04 177.50,249.94 C175.44,250.83 173.49,252.55 172.00,252.89 C170.51,253.24 169.42,252.72 168.56,252.00 C167.70,251.28 167.07,249.77 166.84,248.56 C166.61,247.36 166.56,245.85 167.19,244.78Z" stroke="#7a7a7a" stroke-width="0.35" fill="rgb(184,184,184)"/>
<path d="M168.28,245.17 C168.77,244.35 169.79,243.63 170.94,243.15 C172.09,242.67 173.59,242.50 175.19,242.30 C176.78,242.11 178.99,242.21 180.50,241.98 C182.01,241.75 183.29,241.54 184.22,240.92 C185.15,240.30 185.46,238.86 186.08,238.27 C186.70,237.67 187.42,237.23 187.94,237.36 C188.45,237.50 189.05,238.25 189.16,239.06 C189.27,239.88 188.96,241.23 188.57,242.25 C188.19,243.27 188.04,244.33 186.88,245.17 C185.71,246.01 183.33,246.63 181.56,247.30 C179.79,247.96 177.84,248.47 176.25,249.16 C174.66,249.85 173.15,251.18 172.00,251.44 C170.85,251.71 170.01,251.31 169.34,250.75 C168.68,250.19 168.19,249.02 168.02,248.09 C167.84,247.16 167.79,246.00 168.28,245.17Z" stroke="#7a7a7a" stroke-width="0.35" fill="rgb(173,173,173)"/>
<path d="M169.38,245.56 C169.72,244.98 170.44,244.47 171.25,244.14 C172.06,243.80 173.12,243.67 174.25,243.54 C175.38,243.40 176.94,243.47 178.00,243.31 C179.06,243.15 179.97,243.00 180.62,242.56 C181.28,242.12 181.50,241.11 181.94,240.69 C182.38,240.27 182.89,239.96 183.25,240.05 C183.61,240.14 184.04,240.68 184.11,241.25 C184.19,241.82 183.97,242.78 183.70,243.50 C183.43,244.22 183.32,244.97 182.50,245.56 C181.68,246.16 180.00,246.59 178.75,247.06 C177.50,247.53 176.12,247.89 175.00,248.38 C173.88,248.86 172.81,249.80 172.00,249.99 C171.19,250.18 170.59,249.89 170.12,249.50 C169.66,249.11 169.31,248.28 169.19,247.62 C169.06,246.97 169.03,246.14 169.38,245.56Z" stroke="#7a7a7a" stroke-width="0.35" fill="rgb(161,161,161)"/>
<path d="M170.47,245.95 C170.67,245.61 171.09,245.32 171.56,245.12 C172.04,244.92 172.66,244.85 173.31,244.77 C173.97,244.69 174.88,244.74 175.50,244.64 C176.12,244.55 176.65,244.46 177.03,244.20 C177.41,243.95 177.54,243.35 177.80,243.11 C178.05,242.87 178.35,242.68 178.56,242.74 C178.77,242.79 179.02,243.10 179.07,243.44 C179.11,243.77 178.98,244.33 178.82,244.75 C178.67,245.17 178.61,245.61 178.12,245.95 C177.64,246.30 176.67,246.55 175.94,246.83 C175.21,247.10 174.41,247.31 173.75,247.59 C173.09,247.88 172.47,248.43 172.00,248.53 C171.53,248.64 171.18,248.48 170.91,248.25 C170.63,248.02 170.43,247.54 170.36,247.16 C170.29,246.77 170.27,246.29 170.47,245.95Z" stroke="#7a7a7a" stroke-width="0.35" fill="rgb(150,150,150)"/>
<path d="M104,245.5 C112,244 124,242.5 134,240.5" stroke="#ececec" stroke-width="1.2" fill="none"/>
<path d="M170,246 C178,244.5 188,243 198,238 L201,233" stroke="#ececec" stroke-width="1.2" fill="none"/>
<line x1="47.50" y1="203.80" x2="47.50" y2="269.40" stroke="#555" stroke-width="0.9"/>
<line x1="25.50" y1="239.30" x2="91.60" y2="239.30" stroke="#555" stroke-width="0.9"/>
<line x1="113.70" y1="203.80" x2="113.70" y2="269.40" stroke="#555" stroke-width="0.9"/>
<line x1="91.60" y1="239.30" x2="157.70" y2="239.30" stroke="#555" stroke-width="0.9"/>
<line x1="180.20" y1="203.80" x2="180.20" y2="269.40" stroke="#555" stroke-width="0.9"/>
<line x1="158.70" y1="239.30" x2="224.80" y2="239.30" stroke="#555" stroke-width="0.9"/>
<text x="27.55" y="211.25" font-size="8.1" fill="#222" stroke="#222" stroke-width="0.1" textLength="10.36" lengthAdjust="spacingAndGlyphs">0.5</text>
<text x="76.85" y="211.25" font-size="8.1" fill="#222" stroke="#222" stroke-width="0.1" textLength="10.36" lengthAdjust="spacingAndGlyphs">6.0</text>
<text x="27.65" y="266.35" font-size="8.1" fill="#222" stroke="#222" stroke-width="0.1" textLength="14.5" lengthAdjust="spacingAndGlyphs">89.3</text>
<text x="76.85" y="266.35" font-size="8.1" fill="#222" stroke="#222" stroke-width="0.1" textLength="10.36" lengthAdjust="spacingAndGlyphs">4.2</text>
<text x="93.35" y="211.25" font-size="8.1" fill="#222" stroke="#222" stroke-width="0.1" textLength="10.36" lengthAdjust="spacingAndGlyphs">0.5</text>
<text x="142.75" y="211.25" font-size="8.1" fill="#222" stroke="#222" stroke-width="0.1" textLength="10.36" lengthAdjust="spacingAndGlyphs">4.3</text>
<text x="93.35" y="266.35" font-size="8.1" fill="#222" stroke="#222" stroke-width="0.1" textLength="14.5" lengthAdjust="spacingAndGlyphs">63.7</text>
<text x="143.35" y="266.35" font-size="8.1" fill="#222" stroke="#222" stroke-width="0.1" textLength="14.5" lengthAdjust="spacingAndGlyphs">31.6</text>
<text x="160.35" y="211.25" font-size="8.1" fill="#222" stroke="#222" stroke-width="0.1" textLength="10.36" lengthAdjust="spacingAndGlyphs">0.8</text>
<text x="208.05" y="211.25" font-size="8.1" fill="#222" stroke="#222" stroke-width="0.1" textLength="10.36" lengthAdjust="spacingAndGlyphs">8.1</text>
<text x="160.35" y="266.35" font-size="8.1" fill="#222" stroke="#222" stroke-width="0.1" textLength="14.5" lengthAdjust="spacingAndGlyphs">62.7</text>
<text x="209.25" y="266.35" font-size="8.1" fill="#222" stroke="#222" stroke-width="0.1" textLength="14.5" lengthAdjust="spacingAndGlyphs">28.4</text>
<line x1="21.70" y1="253.90" x2="21.70" y2="273.50" stroke="#111" stroke-width="1.0"/>
<line x1="21.20" y1="273.50" x2="41.70" y2="273.50" stroke="#111" stroke-width="1.0"/>
<path d="M19.30,255.40 L21.70,250.40 L24.10,255.40Z" stroke="none" stroke-width="1" fill="#111"/>
<path d="M40.20,271.10 L45.20,273.50 L40.20,275.90Z" stroke="none" stroke-width="1" fill="#111"/>
<text x="12.20" y="266.97" font-size="10.4" text-anchor="middle" stroke="#111" stroke-width="0.1" textLength="17.7" lengthAdjust="spacingAndGlyphs" transform="rotate(-90 12.20 263.25)">TNF&#945;</text>
<text x="25.90" y="284.08" font-size="8.6" stroke="#111" stroke-width="0.1" textLength="15.4" lengthAdjust="spacingAndGlyphs">IFN&#947;</text>
<text x="62.55" y="284.66" font-size="7.7" text-anchor="middle" fill="#64a83c" stroke="#64a83c" stroke-width="0.1" textLength="12.6" lengthAdjust="spacingAndGlyphs">WT</text>
<text x="137.30" y="284.76" font-size="7.7" text-anchor="middle" fill="#d4443a" stroke="#d4443a" stroke-width="0.1" textLength="23.0" lengthAdjust="spacingAndGlyphs">Prf1-/-</text>
<text x="190.35" y="284.76" font-size="7.7" text-anchor="middle" fill="#6470b8" stroke="#6470b8" stroke-width="0.1" textLength="21.8" lengthAdjust="spacingAndGlyphs">Il18tg</text>
<line x1="223.20" y1="291.60" x2="223.20" y2="356.90" stroke="#c8c8c8" stroke-width="0.9"/>
<line x1="24.40" y1="291.60" x2="90.40" y2="291.60" stroke="#b8b8b8" stroke-width="0.9"/>
<line x1="24.40" y1="291.60" x2="24.40" y2="356.90" stroke="#a0a0a0" stroke-width="0.9"/>
<line x1="24.40" y1="356.90" x2="90.40" y2="356.90" stroke="#b8b8b8" stroke-width="0.9"/>
<line x1="47.50" y1="291.60" x2="47.50" y2="356.90" stroke="#555" stroke-width="0.9"/>
<line x1="24.40" y1="328.40" x2="90.40" y2="328.40" stroke="#555" stroke-width="0.9"/>
<line x1="90.80" y1="291.60" x2="156.80" y2="291.60" stroke="#b8b8b8" stroke-width="0.9"/>
<line x1="90.80" y1="291.60" x2="90.80" y2="356.90" stroke="#a0a0a0" stroke-width="0.9"/>
<line x1="90.80" y1="356.90" x2="156.80" y2="356.90" stroke="#b8b8b8" stroke-width="0.9"/>
<line x1="113.40" y1="291.60" x2="113.40" y2="356.90" stroke="#555" stroke-width="0.9"/>
<line x1="90.80" y1="328.40" x2="156.80" y2="328.40" stroke="#555" stroke-width="0.9"/>
<line x1="156.10" y1="291.60" x2="222.10" y2="291.60" stroke="#b8b8b8" stroke-width="0.9"/>
<line x1="156.10" y1="291.60" x2="156.10" y2="356.90" stroke="#a0a0a0" stroke-width="0.9"/>
<line x1="156.10" y1="356.90" x2="222.10" y2="356.90" stroke="#b8b8b8" stroke-width="0.9"/>
<line x1="179.60" y1="291.60" x2="179.60" y2="356.90" stroke="#555" stroke-width="0.9"/>
<line x1="156.10" y1="328.40" x2="222.10" y2="328.40" stroke="#555" stroke-width="0.9"/>
<path d="M30.1,338.4h0.6v0.6h-0.6zM32.2,293.8h0.6v0.6h-0.6zM30.8,326.4h0.6v0.6h-0.6zM44.3,352.7h0.6v0.6h-0.6zM51.6,339.4h0.6v0.6h-0.6zM49.1,318.7h0.6v0.6h-0.6zM39.5,328.4h0.6v0.6h-0.6zM41.4,330.6h0.6v0.6h-0.6zM39.9,355.5h0.6v0.6h-0.6zM45.3,342.5h0.6v0.6h-0.6zM46.0,322.9h0.6v0.6h-0.6zM37.0,338.1h0.6v0.6h-0.6zM48.1,322.6h0.6v0.6h-0.6zM56.6,354.6h0.6v0.6h-0.6zM37.6,353.9h0.6v0.6h-0.6zM35.6,322.0h0.6v0.6h-0.6zM38.7,323.8h0.6v0.6h-0.6zM37.9,325.4h0.6v0.6h-0.6zM29.6,323.6h0.6v0.6h-0.6zM39.0,325.9h0.6v0.6h-0.6zM43.6,324.3h0.6v0.6h-0.6zM56.9,309.6h0.6v0.6h-0.6zM45.4,339.9h0.6v0.6h-0.6zM57.9,337.6h0.6v0.6h-0.6zM36.2,327.1h0.6v0.6h-0.6zM47.8,327.5h0.6v0.6h-0.6zM42.4,327.3h0.6v0.6h-0.6zM70.9,313.3h0.6v0.6h-0.6zM45.0,321.1h0.6v0.6h-0.6zM35.5,328.9h0.6v0.6h-0.6zM41.0,324.2h0.6v0.6h-0.6zM32.3,317.3h0.6v0.6h-0.6zM49.9,355.6h0.6v0.6h-0.6zM44.0,334.6h0.6v0.6h-0.6zM36.6,343.3h0.6v0.6h-0.6zM48.0,316.3h0.6v0.6h-0.6zM33.2,318.1h0.6v0.6h-0.6zM55.6,337.5h0.6v0.6h-0.6zM26.6,326.1h0.6v0.6h-0.6zM38.1,331.1h0.6v0.6h-0.6zM52.4,338.6h0.6v0.6h-0.6zM44.3,327.1h0.6v0.6h-0.6zM27.5,332.9h0.6v0.6h-0.6zM43.8,321.7h0.6v0.6h-0.6zM45.0,325.1h0.6v0.6h-0.6zM57.0,331.0h0.6v0.6h-0.6zM26.1,342.4h0.6v0.6h-0.6zM42.6,319.6h0.6v0.6h-0.6zM35.8,316.0h0.6v0.6h-0.6zM58.7,326.2h0.6v0.6h-0.6zM27.6,322.3h0.6v0.6h-0.6zM36.4,339.2h0.6v0.6h-0.6zM34.4,327.3h0.6v0.6h-0.6zM40.8,327.9h0.6v0.6h-0.6zM30.4,340.8h0.6v0.6h-0.6zM34.8,324.5h0.6v0.6h-0.6zM38.3,345.9h0.6v0.6h-0.6zM56.9,313.0h0.6v0.6h-0.6zM31.7,331.2h0.6v0.6h-0.6zM37.6,331.2h0.6v0.6h-0.6zM31.9,340.9h0.6v0.6h-0.6zM56.1,350.5h0.6v0.6h-0.6zM28.5,338.4h0.6v0.6h-0.6zM44.9,340.3h0.6v0.6h-0.6zM52.4,339.5h0.6v0.6h-0.6zM41.2,330.0h0.6v0.6h-0.6zM45.9,334.3h0.6v0.6h-0.6zM33.8,349.4h0.6v0.6h-0.6zM57.4,312.8h0.6v0.6h-0.6zM34.1,331.8h0.6v0.6h-0.6zM51.3,322.9h0.6v0.6h-0.6zM31.9,329.8h0.6v0.6h-0.6zM44.9,341.7h0.6v0.6h-0.6zM34.1,334.1h0.6v0.6h-0.6zM38.2,337.1h0.6v0.6h-0.6zM36.7,338.6h0.6v0.6h-0.6zM27.9,344.9h0.6v0.6h-0.6zM26.6,329.5h0.6v0.6h-0.6zM53.8,341.3h0.6v0.6h-0.6zM26.7,327.3h0.6v0.6h-0.6zM48.7,322.4h0.6v0.6h-0.6zM35.6,328.4h0.6v0.6h-0.6zM30.6,349.6h0.6v0.6h-0.6zM44.5,332.5h0.6v0.6h-0.6zM50.0,353.3h0.6v0.6h-0.6zM39.8,335.4h0.6v0.6h-0.6zM39.9,324.0h0.6v0.6h-0.6zM46.5,338.5h0.6v0.6h-0.6zM26.8,313.5h0.6v0.6h-0.6zM26.0,335.9h0.6v0.6h-0.6zM48.2,334.3h0.6v0.6h-0.6zM38.8,327.5h0.6v0.6h-0.6zM38.7,335.1h0.6v0.6h-0.6zM37.0,320.1h0.6v0.6h-0.6zM36.2,323.4h0.6v0.6h-0.6zM27.4,327.6h0.6v0.6h-0.6zM34.8,333.7h0.6v0.6h-0.6zM58.2,340.6h0.6v0.6h-0.6zM29.4,320.9h0.6v0.6h-0.6zM34.1,323.2h0.6v0.6h-0.6zM62.2,337.7h0.6v0.6h-0.6zM35.4,353.8h0.6v0.6h-0.6zM49.3,352.1h0.6v0.6h-0.6zM34.8,330.7h0.6v0.6h-0.6zM40.1,347.1h0.6v0.6h-0.6zM50.3,328.9h0.6v0.6h-0.6zM26.5,318.9h0.6v0.6h-0.6zM47.4,332.1h0.6v0.6h-0.6zM42.5,347.8h0.6v0.6h-0.6zM40.6,309.0h0.6v0.6h-0.6zM25.2,346.3h0.6v0.6h-0.6zM51.6,347.8h0.6v0.6h-0.6zM50.6,318.9h0.6v0.6h-0.6zM40.4,331.1h0.6v0.6h-0.6zM43.8,325.8h0.6v0.6h-0.6zM34.8,343.7h0.6v0.6h-0.6zM44.8,309.8h0.6v0.6h-0.6zM50.4,334.3h0.6v0.6h-0.6zM49.8,342.0h0.6v0.6h-0.6zM49.3,341.8h0.6v0.6h-0.6zM35.2,324.4h0.6v0.6h-0.6zM30.8,319.2h0.6v0.6h-0.6zM55.4,329.1h0.6v0.6h-0.6zM28.0,328.0h0.6v0.6h-0.6zM51.4,332.6h0.6v0.6h-0.6zM44.7,323.1h0.6v0.6h-0.6zM37.8,331.0h0.6v0.6h-0.6zM35.8,332.8h0.6v0.6h-0.6zM34.1,336.3h0.6v0.6h-0.6zM31.9,320.1h0.6v0.6h-0.6zM28.3,336.2h0.6v0.6h-0.6zM53.0,312.8h0.6v0.6h-0.6zM29.2,326.1h0.6v0.6h-0.6zM28.8,329.2h0.6v0.6h-0.6zM56.9,308.2h0.6v0.6h-0.6zM42.2,342.4h0.6v0.6h-0.6zM29.8,338.2h0.6v0.6h-0.6zM37.1,319.8h0.6v0.6h-0.6zM53.0,324.8h0.6v0.6h-0.6zM41.9,339.1h0.6v0.6h-0.6zM40.6,341.1h0.6v0.6h-0.6zM33.3,336.8h0.6v0.6h-0.6zM50.4,333.0h0.6v0.6h-0.6zM55.4,323.5h0.6v0.6h-0.6zM27.6,342.3h0.6v0.6h-0.6zM40.9,319.0h0.6v0.6h-0.6zM35.9,327.5h0.6v0.6h-0.6zM36.3,334.6h0.6v0.6h-0.6zM48.3,329.1h0.6v0.6h-0.6zM32.2,323.0h0.6v0.6h-0.6zM55.8,334.8h0.6v0.6h-0.6zM58.4,323.8h0.6v0.6h-0.6zM41.1,341.5h0.6v0.6h-0.6zM29.6,323.3h0.6v0.6h-0.6zM33.7,343.6h0.6v0.6h-0.6zM48.5,327.0h0.6v0.6h-0.6zM40.2,307.9h0.6v0.6h-0.6zM46.7,326.0h0.6v0.6h-0.6zM36.3,314.0h0.6v0.6h-0.6zM51.1,345.8h0.6v0.6h-0.6zM59.2,334.8h0.6v0.6h-0.6zM47.1,323.4h0.6v0.6h-0.6zM48.6,331.1h0.6v0.6h-0.6zM42.2,343.6h0.6v0.6h-0.6zM47.0,332.1h0.6v0.6h-0.6zM33.5,336.2h0.6v0.6h-0.6zM34.0,342.8h0.6v0.6h-0.6zM51.0,337.6h0.6v0.6h-0.6zM35.3,318.5h0.6v0.6h-0.6zM51.4,337.6h0.6v0.6h-0.6zM37.6,322.5h0.6v0.6h-0.6zM40.4,322.8h0.6v0.6h-0.6zM48.3,333.3h0.6v0.6h-0.6zM43.2,332.3h0.6v0.6h-0.6zM51.8,336.6h0.6v0.6h-0.6zM29.1,330.0h0.6v0.6h-0.6zM32.5,326.9h0.6v0.6h-0.6zM32.5,330.5h0.6v0.6h-0.6zM60.6,346.6h0.6v0.6h-0.6zM39.1,314.5h0.6v0.6h-0.6zM46.3,323.1h0.6v0.6h-0.6zM40.5,338.2h0.6v0.6h-0.6zM36.1,314.2h0.6v0.6h-0.6zM48.4,328.4h0.6v0.6h-0.6zM44.8,321.7h0.6v0.6h-0.6zM41.4,324.5h0.6v0.6h-0.6zM30.4,323.1h0.6v0.6h-0.6zM41.8,328.2h0.6v0.6h-0.6zM52.4,330.4h0.6v0.6h-0.6zM42.1,329.3h0.6v0.6h-0.6zM45.6,314.1h0.6v0.6h-0.6zM34.3,340.5h0.6v0.6h-0.6zM44.8,325.1h0.6v0.6h-0.6zM45.3,346.2h0.6v0.6h-0.6zM45.6,320.8h0.6v0.6h-0.6zM47.5,339.8h0.6v0.6h-0.6zM27.4,323.7h0.6v0.6h-0.6zM36.6,316.5h0.6v0.6h-0.6zM42.3,331.8h0.6v0.6h-0.6zM45.0,324.8h0.6v0.6h-0.6zM47.3,334.9h0.6v0.6h-0.6zM40.2,336.7h0.6v0.6h-0.6zM35.4,326.5h0.6v0.6h-0.6zM40.6,336.5h0.6v0.6h-0.6zM35.8,329.5h0.6v0.6h-0.6zM56.3,324.9h0.6v0.6h-0.6zM34.2,333.1h0.6v0.6h-0.6zM32.0,339.4h0.6v0.6h-0.6zM25.3,328.7h0.6v0.6h-0.6zM50.5,339.3h0.6v0.6h-0.6zM36.1,332.1h0.6v0.6h-0.6zM41.1,349.8h0.6v0.6h-0.6zM42.5,328.7h0.6v0.6h-0.6zM35.4,322.8h0.6v0.6h-0.6zM49.6,330.6h0.6v0.6h-0.6zM53.1,347.2h0.6v0.6h-0.6zM38.9,336.3h0.6v0.6h-0.6zM45.2,340.1h0.6v0.6h-0.6zM40.9,342.8h0.6v0.6h-0.6zM48.1,314.0h0.6v0.6h-0.6zM28.3,331.7h0.6v0.6h-0.6zM44.5,337.6h0.6v0.6h-0.6zM44.5,324.3h0.6v0.6h-0.6zM44.5,334.2h0.6v0.6h-0.6zM44.7,342.1h0.6v0.6h-0.6zM60.1,327.8h0.6v0.6h-0.6zM30.0,334.0h0.6v0.6h-0.6zM29.4,326.2h0.6v0.6h-0.6zM44.8,330.1h0.6v0.6h-0.6zM40.3,322.8h0.6v0.6h-0.6zM36.9,338.1h0.6v0.6h-0.6zM36.1,326.7h0.6v0.6h-0.6zM46.1,329.2h0.6v0.6h-0.6zM59.5,318.3h0.6v0.6h-0.6zM55.9,327.5h0.6v0.6h-0.6zM41.9,329.1h0.6v0.6h-0.6zM39.2,330.6h0.6v0.6h-0.6zM33.5,308.3h0.6v0.6h-0.6zM65.2,335.9h0.6v0.6h-0.6zM58.8,328.9h0.6v0.6h-0.6zM39.8,322.6h0.6v0.6h-0.6zM41.0,330.4h0.6v0.6h-0.6zM30.8,321.5h0.6v0.6h-0.6zM27.3,336.0h0.6v0.6h-0.6zM50.4,347.8h0.6v0.6h-0.6zM37.5,321.1h0.6v0.6h-0.6zM47.4,323.5h0.6v0.6h-0.6zM35.1,352.5h0.6v0.6h-0.6zM57.1,333.9h0.6v0.6h-0.6zM49.7,336.8h0.6v0.6h-0.6zM42.7,320.1h0.6v0.6h-0.6zM51.0,318.2h0.6v0.6h-0.6zM57.4,343.3h0.6v0.6h-0.6zM38.8,341.9h0.6v0.6h-0.6zM48.8,323.4h0.6v0.6h-0.6zM34.4,336.3h0.6v0.6h-0.6zM34.7,319.4h0.6v0.6h-0.6zM35.4,320.8h0.6v0.6h-0.6zM31.0,307.5h0.6v0.6h-0.6zM34.5,329.5h0.6v0.6h-0.6zM26.1,329.4h0.6v0.6h-0.6zM39.2,331.1h0.6v0.6h-0.6zM43.3,338.5h0.6v0.6h-0.6zM31.6,344.2h0.6v0.6h-0.6zM42.7,340.1h0.6v0.6h-0.6zM46.7,332.3h0.6v0.6h-0.6zM46.7,331.2h0.6v0.6h-0.6zM40.3,334.9h0.6v0.6h-0.6zM34.8,340.4h0.6v0.6h-0.6zM43.0,355.0h0.6v0.6h-0.6zM36.7,334.9h0.6v0.6h-0.6zM49.8,339.7h0.6v0.6h-0.6z" fill="#999"/>
<path d="M65.2,330.8h0.6v0.6h-0.6zM57.9,326.3h0.6v0.6h-0.6zM66.3,334.8h0.6v0.6h-0.6zM46.4,324.5h0.6v0.6h-0.6zM51.5,328.1h0.6v0.6h-0.6zM50.3,333.1h0.6v0.6h-0.6zM51.9,331.6h0.6v0.6h-0.6zM63.6,325.9h0.6v0.6h-0.6zM63.6,324.4h0.6v0.6h-0.6zM59.0,322.7h0.6v0.6h-0.6zM56.8,331.0h0.6v0.6h-0.6zM64.5,321.0h0.6v0.6h-0.6zM45.2,320.9h0.6v0.6h-0.6zM46.4,323.2h0.6v0.6h-0.6zM55.1,318.5h0.6v0.6h-0.6zM55.7,323.7h0.6v0.6h-0.6zM67.4,325.5h0.6v0.6h-0.6zM47.4,317.1h0.6v0.6h-0.6zM58.2,329.0h0.6v0.6h-0.6zM49.6,324.5h0.6v0.6h-0.6zM59.4,319.7h0.6v0.6h-0.6zM60.2,317.6h0.6v0.6h-0.6zM58.3,323.5h0.6v0.6h-0.6zM55.5,331.3h0.6v0.6h-0.6zM61.0,331.7h0.6v0.6h-0.6zM52.6,333.5h0.6v0.6h-0.6zM50.7,318.6h0.6v0.6h-0.6zM62.9,329.3h0.6v0.6h-0.6zM48.7,316.5h0.6v0.6h-0.6zM52.2,326.3h0.6v0.6h-0.6zM63.2,323.7h0.6v0.6h-0.6zM56.7,326.0h0.6v0.6h-0.6zM59.5,332.9h0.6v0.6h-0.6zM59.5,333.6h0.6v0.6h-0.6zM59.1,319.1h0.6v0.6h-0.6zM53.5,322.7h0.6v0.6h-0.6zM43.9,320.8h0.6v0.6h-0.6zM51.7,338.0h0.6v0.6h-0.6zM61.7,330.3h0.6v0.6h-0.6zM62.7,331.1h0.6v0.6h-0.6zM72.0,323.3h0.6v0.6h-0.6zM61.6,325.3h0.6v0.6h-0.6zM58.3,331.8h0.6v0.6h-0.6zM61.4,330.1h0.6v0.6h-0.6zM55.9,332.2h0.6v0.6h-0.6zM48.3,329.4h0.6v0.6h-0.6zM63.3,336.2h0.6v0.6h-0.6zM62.1,333.2h0.6v0.6h-0.6zM63.6,334.1h0.6v0.6h-0.6zM48.7,308.4h0.6v0.6h-0.6zM38.7,326.6h0.6v0.6h-0.6zM57.2,329.7h0.6v0.6h-0.6zM49.9,330.3h0.6v0.6h-0.6zM53.9,321.1h0.6v0.6h-0.6zM45.8,312.0h0.6v0.6h-0.6zM70.8,331.4h0.6v0.6h-0.6zM66.4,327.0h0.6v0.6h-0.6zM40.2,319.2h0.6v0.6h-0.6zM56.1,323.2h0.6v0.6h-0.6zM44.8,336.2h0.6v0.6h-0.6zM40.1,333.3h0.6v0.6h-0.6zM48.0,332.9h0.6v0.6h-0.6zM47.8,322.9h0.6v0.6h-0.6zM66.8,325.9h0.6v0.6h-0.6zM61.5,333.7h0.6v0.6h-0.6zM66.6,320.2h0.6v0.6h-0.6zM57.9,325.2h0.6v0.6h-0.6zM54.6,329.9h0.6v0.6h-0.6zM59.6,331.2h0.6v0.6h-0.6zM62.2,322.5h0.6v0.6h-0.6zM44.8,327.9h0.6v0.6h-0.6zM67.1,330.6h0.6v0.6h-0.6zM51.3,328.5h0.6v0.6h-0.6zM50.1,341.0h0.6v0.6h-0.6zM45.4,329.8h0.6v0.6h-0.6zM52.5,314.4h0.6v0.6h-0.6zM55.3,324.3h0.6v0.6h-0.6zM47.8,326.1h0.6v0.6h-0.6zM53.6,323.1h0.6v0.6h-0.6zM59.0,321.6h0.6v0.6h-0.6zM53.2,326.2h0.6v0.6h-0.6zM61.5,321.6h0.6v0.6h-0.6zM63.8,324.7h0.6v0.6h-0.6zM54.9,331.4h0.6v0.6h-0.6zM50.3,321.5h0.6v0.6h-0.6zM53.9,324.2h0.6v0.6h-0.6zM53.3,328.5h0.6v0.6h-0.6zM57.1,320.8h0.6v0.6h-0.6zM47.9,330.3h0.6v0.6h-0.6zM57.7,322.9h0.6v0.6h-0.6z" fill="#999"/>
<path d="M47.1,323.9h0.6v0.6h-0.6zM29.7,341.6h0.6v0.6h-0.6zM30.5,339.1h0.6v0.6h-0.6zM30.2,341.2h0.6v0.6h-0.6zM44.7,345.2h0.6v0.6h-0.6zM44.9,319.8h0.6v0.6h-0.6zM37.0,349.0h0.6v0.6h-0.6zM29.4,326.0h0.6v0.6h-0.6zM34.3,318.1h0.6v0.6h-0.6zM48.6,330.1h0.6v0.6h-0.6zM42.7,317.8h0.6v0.6h-0.6zM47.9,327.6h0.6v0.6h-0.6zM28.2,325.4h0.6v0.6h-0.6zM26.5,340.4h0.6v0.6h-0.6zM46.8,319.8h0.6v0.6h-0.6zM30.3,323.7h0.6v0.6h-0.6zM47.3,325.9h0.6v0.6h-0.6zM45.6,319.5h0.6v0.6h-0.6zM29.6,325.4h0.6v0.6h-0.6zM41.0,347.5h0.6v0.6h-0.6zM43.3,346.1h0.6v0.6h-0.6zM31.2,341.5h0.6v0.6h-0.6zM39.2,316.9h0.6v0.6h-0.6zM37.3,317.4h0.6v0.6h-0.6zM36.5,315.3h0.6v0.6h-0.6zM30.3,339.6h0.6v0.6h-0.6zM47.0,338.6h0.6v0.6h-0.6zM29.4,334.1h0.6v0.6h-0.6zM47.3,331.6h0.6v0.6h-0.6zM30.2,342.6h0.6v0.6h-0.6zM30.4,319.1h0.6v0.6h-0.6zM39.5,318.6h0.6v0.6h-0.6zM33.6,319.1h0.6v0.6h-0.6zM41.1,317.6h0.6v0.6h-0.6zM36.9,349.7h0.6v0.6h-0.6zM47.7,325.0h0.6v0.6h-0.6zM51.0,336.4h0.6v0.6h-0.6zM30.3,322.4h0.6v0.6h-0.6zM30.2,340.7h0.6v0.6h-0.6zM28.0,328.8h0.6v0.6h-0.6zM33.3,346.8h0.6v0.6h-0.6zM48.4,324.5h0.6v0.6h-0.6zM43.7,346.9h0.6v0.6h-0.6zM26.1,329.7h0.6v0.6h-0.6zM25.8,332.1h0.6v0.6h-0.6zM49.4,328.3h0.6v0.6h-0.6zM36.3,317.2h0.6v0.6h-0.6zM30.1,321.7h0.6v0.6h-0.6zM39.2,349.2h0.6v0.6h-0.6zM42.1,346.8h0.6v0.6h-0.6zM48.2,334.6h0.6v0.6h-0.6zM46.3,323.0h0.6v0.6h-0.6zM28.3,327.8h0.6v0.6h-0.6zM32.6,345.7h0.6v0.6h-0.6zM36.5,315.3h0.6v0.6h-0.6zM26.6,329.4h0.6v0.6h-0.6zM46.9,344.5h0.6v0.6h-0.6zM38.1,316.6h0.6v0.6h-0.6zM37.9,350.2h0.6v0.6h-0.6zM43.6,316.7h0.6v0.6h-0.6zM29.2,336.6h0.6v0.6h-0.6zM43.0,348.7h0.6v0.6h-0.6zM28.8,325.1h0.6v0.6h-0.6zM34.8,347.6h0.6v0.6h-0.6zM39.1,348.8h0.6v0.6h-0.6zM47.2,327.8h0.6v0.6h-0.6zM50.1,325.2h0.6v0.6h-0.6zM35.8,317.1h0.6v0.6h-0.6zM32.4,317.4h0.6v0.6h-0.6zM30.8,344.2h0.6v0.6h-0.6zM49.3,324.7h0.6v0.6h-0.6zM40.4,316.1h0.6v0.6h-0.6zM47.3,335.8h0.6v0.6h-0.6zM37.6,349.5h0.6v0.6h-0.6zM26.8,336.7h0.6v0.6h-0.6zM45.6,317.5h0.6v0.6h-0.6zM36.6,315.9h0.6v0.6h-0.6zM41.5,348.2h0.6v0.6h-0.6zM35.8,349.9h0.6v0.6h-0.6zM33.6,318.4h0.6v0.6h-0.6zM47.5,328.7h0.6v0.6h-0.6zM37.8,314.6h0.6v0.6h-0.6zM48.6,329.6h0.6v0.6h-0.6zM28.3,330.7h0.6v0.6h-0.6zM46.9,343.9h0.6v0.6h-0.6zM44.6,317.0h0.6v0.6h-0.6zM28.3,333.5h0.6v0.6h-0.6zM29.5,322.0h0.6v0.6h-0.6zM34.1,347.7h0.6v0.6h-0.6zM43.9,317.3h0.6v0.6h-0.6zM25.7,331.3h0.6v0.6h-0.6zM29.1,327.0h0.6v0.6h-0.6zM28.8,322.1h0.6v0.6h-0.6zM45.0,343.5h0.6v0.6h-0.6zM38.9,348.2h0.6v0.6h-0.6zM39.2,315.2h0.6v0.6h-0.6zM47.4,347.1h0.6v0.6h-0.6zM31.4,316.1h0.6v0.6h-0.6zM34.5,346.5h0.6v0.6h-0.6zM32.8,346.3h0.6v0.6h-0.6zM27.9,329.3h0.6v0.6h-0.6zM29.3,332.9h0.6v0.6h-0.6zM45.6,343.1h0.6v0.6h-0.6zM28.0,333.0h0.6v0.6h-0.6zM33.5,350.6h0.6v0.6h-0.6zM41.5,347.9h0.6v0.6h-0.6zM29.8,332.9h0.6v0.6h-0.6zM42.1,349.9h0.6v0.6h-0.6zM48.3,323.7h0.6v0.6h-0.6zM34.4,349.3h0.6v0.6h-0.6zM49.0,333.3h0.6v0.6h-0.6zM47.8,326.0h0.6v0.6h-0.6zM48.8,320.4h0.6v0.6h-0.6zM37.2,350.0h0.6v0.6h-0.6zM39.4,316.5h0.6v0.6h-0.6zM41.0,316.8h0.6v0.6h-0.6zM47.6,324.9h0.6v0.6h-0.6zM29.3,341.0h0.6v0.6h-0.6zM29.5,337.4h0.6v0.6h-0.6zM26.0,336.7h0.6v0.6h-0.6zM30.6,324.1h0.6v0.6h-0.6zM40.1,348.7h0.6v0.6h-0.6zM44.8,347.1h0.6v0.6h-0.6zM29.2,327.5h0.6v0.6h-0.6zM42.4,317.2h0.6v0.6h-0.6zM30.1,336.7h0.6v0.6h-0.6zM44.4,317.5h0.6v0.6h-0.6zM30.7,344.8h0.6v0.6h-0.6zM38.0,315.2h0.6v0.6h-0.6zM42.1,347.8h0.6v0.6h-0.6zM30.9,341.4h0.6v0.6h-0.6zM29.8,346.5h0.6v0.6h-0.6zM39.3,351.4h0.6v0.6h-0.6zM29.3,345.2h0.6v0.6h-0.6zM38.4,315.1h0.6v0.6h-0.6zM27.7,344.0h0.6v0.6h-0.6zM28.3,332.1h0.6v0.6h-0.6zM31.9,344.1h0.6v0.6h-0.6zM30.6,344.6h0.6v0.6h-0.6zM30.6,346.5h0.6v0.6h-0.6zM35.6,316.2h0.6v0.6h-0.6zM28.9,327.8h0.6v0.6h-0.6zM40.4,347.1h0.6v0.6h-0.6zM31.0,343.5h0.6v0.6h-0.6zM41.6,347.3h0.6v0.6h-0.6zM46.5,319.0h0.6v0.6h-0.6zM49.1,342.0h0.6v0.6h-0.6zM28.6,332.2h0.6v0.6h-0.6zM51.2,333.5h0.6v0.6h-0.6zM45.4,320.3h0.6v0.6h-0.6zM38.7,317.2h0.6v0.6h-0.6zM39.4,348.9h0.6v0.6h-0.6zM28.9,334.0h0.6v0.6h-0.6zM30.1,326.1h0.6v0.6h-0.6zM36.5,348.8h0.6v0.6h-0.6zM46.8,341.3h0.6v0.6h-0.6zM33.6,346.3h0.6v0.6h-0.6zM47.4,344.4h0.6v0.6h-0.6zM38.8,316.7h0.6v0.6h-0.6zM26.2,334.8h0.6v0.6h-0.6zM39.5,314.8h0.6v0.6h-0.6zM31.3,318.8h0.6v0.6h-0.6zM34.7,347.3h0.6v0.6h-0.6zM34.6,318.3h0.6v0.6h-0.6zM30.1,341.0h0.6v0.6h-0.6zM48.2,338.3h0.6v0.6h-0.6zM29.0,338.5h0.6v0.6h-0.6zM48.1,322.2h0.6v0.6h-0.6zM31.9,343.5h0.6v0.6h-0.6zM35.6,348.3h0.6v0.6h-0.6zM34.6,346.2h0.6v0.6h-0.6zM30.2,340.0h0.6v0.6h-0.6zM38.0,350.7h0.6v0.6h-0.6zM33.3,346.9h0.6v0.6h-0.6zM36.3,315.7h0.6v0.6h-0.6zM33.7,348.5h0.6v0.6h-0.6zM39.1,317.1h0.6v0.6h-0.6zM47.5,325.2h0.6v0.6h-0.6zM40.5,351.8h0.6v0.6h-0.6zM42.2,318.0h0.6v0.6h-0.6zM39.8,352.0h0.6v0.6h-0.6zM46.0,337.8h0.6v0.6h-0.6zM28.6,346.6h0.6v0.6h-0.6zM48.9,336.2h0.6v0.6h-0.6zM37.5,316.5h0.6v0.6h-0.6zM44.2,344.1h0.6v0.6h-0.6zM35.1,347.8h0.6v0.6h-0.6zM37.0,316.6h0.6v0.6h-0.6zM28.7,333.0h0.6v0.6h-0.6zM27.9,322.7h0.6v0.6h-0.6zM30.5,325.8h0.6v0.6h-0.6zM38.9,316.0h0.6v0.6h-0.6zM31.3,319.8h0.6v0.6h-0.6zM49.4,339.0h0.6v0.6h-0.6zM33.5,347.8h0.6v0.6h-0.6zM47.3,332.1h0.6v0.6h-0.6zM47.7,342.2h0.6v0.6h-0.6zM29.2,325.9h0.6v0.6h-0.6zM47.0,328.4h0.6v0.6h-0.6zM36.7,348.2h0.6v0.6h-0.6zM49.0,336.1h0.6v0.6h-0.6zM47.8,330.4h0.6v0.6h-0.6zM32.7,319.2h0.6v0.6h-0.6zM47.7,341.9h0.6v0.6h-0.6zM45.5,318.1h0.6v0.6h-0.6zM42.5,316.8h0.6v0.6h-0.6zM39.3,314.8h0.6v0.6h-0.6zM37.6,348.1h0.6v0.6h-0.6zM49.8,343.9h0.6v0.6h-0.6zM26.2,328.7h0.6v0.6h-0.6zM43.0,317.3h0.6v0.6h-0.6zM43.3,348.3h0.6v0.6h-0.6zM31.3,344.9h0.6v0.6h-0.6zM30.8,341.0h0.6v0.6h-0.6zM47.0,324.9h0.6v0.6h-0.6zM27.3,329.0h0.6v0.6h-0.6zM28.4,325.7h0.6v0.6h-0.6zM37.0,352.1h0.6v0.6h-0.6zM29.3,328.8h0.6v0.6h-0.6zM45.7,323.3h0.6v0.6h-0.6z" fill="#6a6a6a"/>
<path d="M30.00,325.00 C30.67,323.00 31.67,320.33 33.00,319.00 C34.33,317.67 36.17,317.00 38.00,317.00 C39.83,317.00 42.50,317.83 44.00,319.00 C45.50,320.17 46.40,321.83 47.00,324.00 C47.60,326.17 47.77,329.17 47.60,332.00 C47.43,334.83 46.93,338.50 46.00,341.00 C45.07,343.50 43.50,345.75 42.00,347.00 C40.50,348.25 38.67,348.83 37.00,348.50 C35.33,348.17 33.25,346.75 32.00,345.00 C30.75,343.25 30.00,340.33 29.50,338.00 C29.00,335.67 28.92,333.17 29.00,331.00 C29.08,328.83 29.33,327.00 30.00,325.00Z" stroke="#999" stroke-width="0.5" fill="rgb(222,222,222)"/>
<path d="M31.25,326.88 C31.81,325.19 32.66,322.94 33.78,321.81 C34.91,320.69 36.45,320.12 38.00,320.12 C39.55,320.12 41.80,320.83 43.06,321.81 C44.33,322.80 45.09,324.20 45.59,326.03 C46.10,327.86 46.24,330.39 46.10,332.78 C45.96,335.17 45.54,338.27 44.75,340.38 C43.96,342.48 42.64,344.38 41.38,345.44 C40.11,346.49 38.56,346.98 37.16,346.70 C35.75,346.42 33.99,345.23 32.94,343.75 C31.88,342.27 31.25,339.81 30.83,337.84 C30.41,335.88 30.34,333.77 30.41,331.94 C30.48,330.11 30.69,328.56 31.25,326.88Z" stroke="#7a7a7a" stroke-width="0.35" fill="rgb(210,210,210)"/>
<path d="M32.50,328.75 C32.96,327.38 33.65,325.54 34.56,324.62 C35.48,323.71 36.74,323.25 38.00,323.25 C39.26,323.25 41.09,323.82 42.12,324.62 C43.16,325.43 43.77,326.57 44.19,328.06 C44.60,329.55 44.71,331.61 44.60,333.56 C44.49,335.51 44.14,338.03 43.50,339.75 C42.86,341.47 41.78,343.02 40.75,343.88 C39.72,344.73 38.46,345.14 37.31,344.91 C36.17,344.68 34.73,343.70 33.88,342.50 C33.02,341.30 32.50,339.29 32.16,337.69 C31.81,336.08 31.76,334.36 31.81,332.88 C31.87,331.39 32.04,330.12 32.50,328.75Z" stroke="#7a7a7a" stroke-width="0.35" fill="rgb(199,199,199)"/>
<path d="M33.75,330.62 C34.10,329.56 34.64,328.15 35.34,327.44 C36.05,326.73 37.03,326.38 38.00,326.38 C38.97,326.38 40.39,326.82 41.19,327.44 C41.98,328.06 42.46,328.94 42.78,330.09 C43.10,331.24 43.19,332.84 43.10,334.34 C43.01,335.85 42.75,337.80 42.25,339.12 C41.75,340.45 40.92,341.65 40.12,342.31 C39.33,342.98 38.35,343.29 37.47,343.11 C36.58,342.93 35.48,342.18 34.81,341.25 C34.15,340.32 33.75,338.77 33.48,337.53 C33.22,336.29 33.17,334.96 33.22,333.81 C33.26,332.66 33.40,331.69 33.75,330.62Z" stroke="#7a7a7a" stroke-width="0.35" fill="rgb(187,187,187)"/>
<path d="M35.00,332.50 C35.25,331.75 35.62,330.75 36.12,330.25 C36.62,329.75 37.31,329.50 38.00,329.50 C38.69,329.50 39.69,329.81 40.25,330.25 C40.81,330.69 41.15,331.31 41.38,332.12 C41.60,332.94 41.66,334.06 41.60,335.12 C41.54,336.19 41.35,337.56 41.00,338.50 C40.65,339.44 40.06,340.28 39.50,340.75 C38.94,341.22 38.25,341.44 37.62,341.31 C37.00,341.19 36.22,340.66 35.75,340.00 C35.28,339.34 35.00,338.25 34.81,337.38 C34.62,336.50 34.59,335.56 34.62,334.75 C34.66,333.94 34.75,333.25 35.00,332.50Z" stroke="#7a7a7a" stroke-width="0.35" fill="rgb(176,176,176)"/>
<path d="M36.25,334.38 C36.40,333.94 36.61,333.35 36.91,333.06 C37.20,332.77 37.60,332.62 38.00,332.62 C38.40,332.62 38.98,332.81 39.31,333.06 C39.64,333.32 39.84,333.68 39.97,334.16 C40.10,334.63 40.14,335.29 40.10,335.91 C40.06,336.53 39.95,337.33 39.75,337.88 C39.55,338.42 39.20,338.91 38.88,339.19 C38.55,339.46 38.15,339.59 37.78,339.52 C37.42,339.44 36.96,339.13 36.69,338.75 C36.41,338.37 36.25,337.73 36.14,337.22 C36.03,336.71 36.01,336.16 36.03,335.69 C36.05,335.21 36.10,334.81 36.25,334.38Z" stroke="#7a7a7a" stroke-width="0.35" fill="rgb(165,165,165)"/>
<ellipse cx="37.5" cy="337" rx="1.4" ry="0.9799999999999999" fill="#f4f4f4"/>
<path d="M120.8,317.7h0.6v0.6h-0.6zM95.9,309.8h0.6v0.6h-0.6zM99.0,326.2h0.6v0.6h-0.6zM118.2,314.9h0.6v0.6h-0.6zM127.3,326.1h0.6v0.6h-0.6zM106.2,321.4h0.6v0.6h-0.6zM97.7,320.8h0.6v0.6h-0.6zM134.3,312.1h0.6v0.6h-0.6zM115.7,315.9h0.6v0.6h-0.6zM114.1,319.4h0.6v0.6h-0.6zM118.1,323.3h0.6v0.6h-0.6zM120.5,324.1h0.6v0.6h-0.6zM125.8,324.4h0.6v0.6h-0.6zM108.0,321.0h0.6v0.6h-0.6zM111.2,314.9h0.6v0.6h-0.6zM135.8,320.4h0.6v0.6h-0.6zM115.6,308.7h0.6v0.6h-0.6zM112.7,322.8h0.6v0.6h-0.6zM113.0,316.3h0.6v0.6h-0.6zM130.7,317.5h0.6v0.6h-0.6zM111.6,318.5h0.6v0.6h-0.6zM112.6,324.1h0.6v0.6h-0.6zM121.1,318.7h0.6v0.6h-0.6zM111.3,317.9h0.6v0.6h-0.6zM132.9,317.5h0.6v0.6h-0.6zM122.0,311.3h0.6v0.6h-0.6zM118.5,322.4h0.6v0.6h-0.6zM128.5,320.5h0.6v0.6h-0.6zM121.2,320.6h0.6v0.6h-0.6zM126.4,329.0h0.6v0.6h-0.6zM117.2,315.0h0.6v0.6h-0.6zM121.4,318.5h0.6v0.6h-0.6zM121.8,322.8h0.6v0.6h-0.6zM116.7,316.9h0.6v0.6h-0.6zM118.3,312.9h0.6v0.6h-0.6zM118.0,314.7h0.6v0.6h-0.6zM119.8,319.6h0.6v0.6h-0.6zM112.8,313.1h0.6v0.6h-0.6zM115.6,315.7h0.6v0.6h-0.6zM113.6,322.4h0.6v0.6h-0.6zM125.1,312.7h0.6v0.6h-0.6zM125.0,325.6h0.6v0.6h-0.6zM127.0,320.4h0.6v0.6h-0.6zM114.2,327.5h0.6v0.6h-0.6zM111.7,311.6h0.6v0.6h-0.6zM116.1,320.4h0.6v0.6h-0.6zM104.2,313.1h0.6v0.6h-0.6zM136.0,319.6h0.6v0.6h-0.6zM123.3,316.2h0.6v0.6h-0.6zM99.2,318.1h0.6v0.6h-0.6zM129.2,315.7h0.6v0.6h-0.6zM96.3,318.2h0.6v0.6h-0.6zM112.2,319.1h0.6v0.6h-0.6zM104.1,317.5h0.6v0.6h-0.6zM109.4,323.3h0.6v0.6h-0.6zM116.7,323.3h0.6v0.6h-0.6zM114.6,308.6h0.6v0.6h-0.6zM94.5,321.6h0.6v0.6h-0.6zM124.3,323.3h0.6v0.6h-0.6zM114.3,310.3h0.6v0.6h-0.6zM109.9,321.0h0.6v0.6h-0.6zM129.6,317.3h0.6v0.6h-0.6zM109.2,315.2h0.6v0.6h-0.6zM125.8,323.2h0.6v0.6h-0.6zM95.9,324.9h0.6v0.6h-0.6zM105.4,311.8h0.6v0.6h-0.6zM98.3,315.5h0.6v0.6h-0.6zM139.5,331.5h0.6v0.6h-0.6zM102.0,315.7h0.6v0.6h-0.6zM116.8,321.0h0.6v0.6h-0.6zM110.1,311.3h0.6v0.6h-0.6zM110.8,315.7h0.6v0.6h-0.6zM96.3,319.7h0.6v0.6h-0.6zM99.7,310.5h0.6v0.6h-0.6zM131.1,323.6h0.6v0.6h-0.6zM130.4,319.6h0.6v0.6h-0.6zM110.8,318.6h0.6v0.6h-0.6zM100.7,322.6h0.6v0.6h-0.6zM118.0,317.5h0.6v0.6h-0.6zM95.4,318.5h0.6v0.6h-0.6zM132.3,326.1h0.6v0.6h-0.6zM124.3,317.3h0.6v0.6h-0.6zM116.6,321.7h0.6v0.6h-0.6zM117.2,324.1h0.6v0.6h-0.6zM108.1,307.7h0.6v0.6h-0.6zM100.6,322.2h0.6v0.6h-0.6zM126.5,319.0h0.6v0.6h-0.6zM120.8,319.4h0.6v0.6h-0.6zM117.0,316.7h0.6v0.6h-0.6zM110.9,324.8h0.6v0.6h-0.6zM112.3,318.8h0.6v0.6h-0.6zM127.7,323.8h0.6v0.6h-0.6zM111.0,320.2h0.6v0.6h-0.6zM104.5,319.6h0.6v0.6h-0.6zM118.4,319.0h0.6v0.6h-0.6zM116.8,320.8h0.6v0.6h-0.6zM115.9,316.6h0.6v0.6h-0.6zM105.0,317.8h0.6v0.6h-0.6zM132.1,317.9h0.6v0.6h-0.6zM108.3,316.7h0.6v0.6h-0.6zM102.6,321.4h0.6v0.6h-0.6zM104.7,323.5h0.6v0.6h-0.6zM124.7,321.8h0.6v0.6h-0.6zM126.1,318.6h0.6v0.6h-0.6zM96.6,318.7h0.6v0.6h-0.6zM121.9,311.5h0.6v0.6h-0.6zM102.3,324.4h0.6v0.6h-0.6zM119.7,325.6h0.6v0.6h-0.6zM122.2,319.3h0.6v0.6h-0.6zM119.6,323.2h0.6v0.6h-0.6zM114.8,318.0h0.6v0.6h-0.6zM118.4,317.5h0.6v0.6h-0.6zM140.5,315.3h0.6v0.6h-0.6zM99.1,312.7h0.6v0.6h-0.6zM126.2,317.0h0.6v0.6h-0.6zM116.8,318.0h0.6v0.6h-0.6zM118.1,311.9h0.6v0.6h-0.6zM116.0,316.2h0.6v0.6h-0.6zM126.6,322.0h0.6v0.6h-0.6zM101.8,314.3h0.6v0.6h-0.6zM121.1,324.8h0.6v0.6h-0.6zM123.2,318.3h0.6v0.6h-0.6zM126.9,307.5h0.6v0.6h-0.6zM109.5,314.2h0.6v0.6h-0.6zM104.2,321.8h0.6v0.6h-0.6zM118.1,320.4h0.6v0.6h-0.6zM113.7,322.0h0.6v0.6h-0.6zM123.4,316.2h0.6v0.6h-0.6zM125.0,314.5h0.6v0.6h-0.6zM133.8,312.6h0.6v0.6h-0.6zM112.1,313.7h0.6v0.6h-0.6zM115.6,325.4h0.6v0.6h-0.6zM107.2,327.7h0.6v0.6h-0.6zM130.1,320.9h0.6v0.6h-0.6zM108.9,323.4h0.6v0.6h-0.6zM125.3,318.8h0.6v0.6h-0.6zM141.5,315.7h0.6v0.6h-0.6zM101.0,317.9h0.6v0.6h-0.6zM121.3,327.3h0.6v0.6h-0.6zM96.4,319.8h0.6v0.6h-0.6zM128.6,315.7h0.6v0.6h-0.6zM110.3,313.1h0.6v0.6h-0.6zM123.3,323.1h0.6v0.6h-0.6zM121.4,320.2h0.6v0.6h-0.6zM125.7,318.4h0.6v0.6h-0.6zM122.8,323.0h0.6v0.6h-0.6zM129.0,321.5h0.6v0.6h-0.6zM116.0,322.5h0.6v0.6h-0.6zM98.7,310.4h0.6v0.6h-0.6zM132.4,319.7h0.6v0.6h-0.6zM103.9,316.2h0.6v0.6h-0.6zM113.6,319.4h0.6v0.6h-0.6zM107.0,323.9h0.6v0.6h-0.6zM97.0,332.8h0.6v0.6h-0.6zM103.6,327.2h0.6v0.6h-0.6zM122.3,310.7h0.6v0.6h-0.6zM102.1,319.3h0.6v0.6h-0.6zM118.1,316.9h0.6v0.6h-0.6zM115.3,319.8h0.6v0.6h-0.6zM102.9,319.3h0.6v0.6h-0.6zM139.4,315.8h0.6v0.6h-0.6zM104.3,322.3h0.6v0.6h-0.6zM129.5,324.1h0.6v0.6h-0.6zM108.4,318.6h0.6v0.6h-0.6zM117.3,318.0h0.6v0.6h-0.6zM119.4,324.3h0.6v0.6h-0.6zM121.0,318.9h0.6v0.6h-0.6zM113.0,327.8h0.6v0.6h-0.6zM102.0,328.9h0.6v0.6h-0.6zM123.1,319.4h0.6v0.6h-0.6zM107.2,328.0h0.6v0.6h-0.6zM128.2,323.5h0.6v0.6h-0.6zM137.5,310.2h0.6v0.6h-0.6zM116.2,317.5h0.6v0.6h-0.6zM107.3,319.4h0.6v0.6h-0.6zM120.9,321.6h0.6v0.6h-0.6zM113.7,312.5h0.6v0.6h-0.6zM121.2,322.0h0.6v0.6h-0.6zM138.0,323.6h0.6v0.6h-0.6zM115.3,313.3h0.6v0.6h-0.6zM144.5,315.7h0.6v0.6h-0.6zM117.3,322.7h0.6v0.6h-0.6zM120.6,325.6h0.6v0.6h-0.6zM104.0,315.6h0.6v0.6h-0.6zM117.0,312.9h0.6v0.6h-0.6zM108.5,325.8h0.6v0.6h-0.6zM118.3,318.5h0.6v0.6h-0.6zM109.0,319.2h0.6v0.6h-0.6zM114.8,313.7h0.6v0.6h-0.6zM123.7,312.7h0.6v0.6h-0.6zM129.0,317.3h0.6v0.6h-0.6zM118.3,314.7h0.6v0.6h-0.6zM134.8,325.8h0.6v0.6h-0.6zM138.0,323.4h0.6v0.6h-0.6zM129.8,316.0h0.6v0.6h-0.6zM129.3,316.8h0.6v0.6h-0.6z" fill="#999"/>
<path d="M102.8,330.9h0.6v0.6h-0.6zM103.4,341.4h0.6v0.6h-0.6zM102.7,332.4h0.6v0.6h-0.6zM108.4,344.4h0.6v0.6h-0.6zM102.6,343.7h0.6v0.6h-0.6zM108.9,333.2h0.6v0.6h-0.6zM102.9,327.9h0.6v0.6h-0.6zM96.9,341.5h0.6v0.6h-0.6zM97.9,341.3h0.6v0.6h-0.6zM105.2,326.7h0.6v0.6h-0.6zM100.2,348.0h0.6v0.6h-0.6zM103.2,339.7h0.6v0.6h-0.6zM98.9,329.5h0.6v0.6h-0.6zM102.0,333.8h0.6v0.6h-0.6zM103.7,327.5h0.6v0.6h-0.6zM111.4,349.2h0.6v0.6h-0.6zM98.6,340.9h0.6v0.6h-0.6zM97.7,344.1h0.6v0.6h-0.6zM98.1,338.1h0.6v0.6h-0.6zM110.9,342.1h0.6v0.6h-0.6zM101.1,329.9h0.6v0.6h-0.6zM93.6,346.2h0.6v0.6h-0.6zM106.1,339.3h0.6v0.6h-0.6zM110.6,339.9h0.6v0.6h-0.6zM98.7,338.4h0.6v0.6h-0.6zM102.5,338.9h0.6v0.6h-0.6zM118.0,342.5h0.6v0.6h-0.6zM104.7,337.5h0.6v0.6h-0.6zM99.0,333.1h0.6v0.6h-0.6zM91.8,336.3h0.6v0.6h-0.6zM94.0,327.9h0.6v0.6h-0.6zM97.5,326.9h0.6v0.6h-0.6zM111.3,346.5h0.6v0.6h-0.6zM97.3,351.2h0.6v0.6h-0.6zM107.0,323.9h0.6v0.6h-0.6zM103.2,333.0h0.6v0.6h-0.6zM92.6,337.4h0.6v0.6h-0.6zM110.0,341.7h0.6v0.6h-0.6zM94.3,335.0h0.6v0.6h-0.6zM98.5,345.9h0.6v0.6h-0.6zM102.5,333.1h0.6v0.6h-0.6zM97.6,327.2h0.6v0.6h-0.6zM98.0,344.4h0.6v0.6h-0.6zM91.6,340.2h0.6v0.6h-0.6zM102.4,343.9h0.6v0.6h-0.6zM96.2,344.5h0.6v0.6h-0.6zM112.4,352.7h0.6v0.6h-0.6zM93.3,338.8h0.6v0.6h-0.6zM101.8,339.7h0.6v0.6h-0.6zM97.1,344.1h0.6v0.6h-0.6zM117.2,348.0h0.6v0.6h-0.6zM97.3,335.5h0.6v0.6h-0.6zM107.4,339.8h0.6v0.6h-0.6zM98.5,346.4h0.6v0.6h-0.6zM106.2,345.1h0.6v0.6h-0.6zM102.0,346.7h0.6v0.6h-0.6zM100.3,332.3h0.6v0.6h-0.6zM103.0,330.6h0.6v0.6h-0.6zM110.6,343.4h0.6v0.6h-0.6zM92.9,340.0h0.6v0.6h-0.6zM108.2,336.8h0.6v0.6h-0.6zM105.6,335.5h0.6v0.6h-0.6zM102.6,338.5h0.6v0.6h-0.6zM106.0,333.2h0.6v0.6h-0.6zM96.2,341.0h0.6v0.6h-0.6zM100.0,342.1h0.6v0.6h-0.6zM100.0,331.1h0.6v0.6h-0.6zM107.5,340.6h0.6v0.6h-0.6zM107.4,337.0h0.6v0.6h-0.6zM100.9,346.6h0.6v0.6h-0.6zM92.8,349.5h0.6v0.6h-0.6zM106.1,338.7h0.6v0.6h-0.6zM103.6,342.6h0.6v0.6h-0.6zM98.4,340.7h0.6v0.6h-0.6zM97.3,327.9h0.6v0.6h-0.6zM104.2,339.6h0.6v0.6h-0.6zM106.9,342.3h0.6v0.6h-0.6zM107.3,343.8h0.6v0.6h-0.6zM96.7,346.3h0.6v0.6h-0.6zM119.2,335.6h0.6v0.6h-0.6zM95.4,343.1h0.6v0.6h-0.6zM108.6,345.1h0.6v0.6h-0.6zM112.3,330.7h0.6v0.6h-0.6zM105.3,341.8h0.6v0.6h-0.6zM110.6,333.6h0.6v0.6h-0.6zM103.2,336.8h0.6v0.6h-0.6zM102.1,338.1h0.6v0.6h-0.6zM102.1,328.4h0.6v0.6h-0.6zM102.8,339.4h0.6v0.6h-0.6zM100.7,317.6h0.6v0.6h-0.6zM98.8,335.1h0.6v0.6h-0.6zM97.8,348.6h0.6v0.6h-0.6zM108.6,337.9h0.6v0.6h-0.6zM97.2,341.9h0.6v0.6h-0.6zM99.4,347.9h0.6v0.6h-0.6zM109.7,338.3h0.6v0.6h-0.6zM106.7,334.2h0.6v0.6h-0.6zM93.5,344.1h0.6v0.6h-0.6zM112.9,337.2h0.6v0.6h-0.6zM99.8,328.2h0.6v0.6h-0.6zM116.0,331.8h0.6v0.6h-0.6zM97.2,337.8h0.6v0.6h-0.6zM110.3,339.3h0.6v0.6h-0.6zM102.9,339.1h0.6v0.6h-0.6zM108.1,338.8h0.6v0.6h-0.6zM104.0,338.6h0.6v0.6h-0.6zM96.3,347.1h0.6v0.6h-0.6zM98.8,331.1h0.6v0.6h-0.6zM100.4,339.2h0.6v0.6h-0.6zM108.0,330.1h0.6v0.6h-0.6zM95.4,340.1h0.6v0.6h-0.6zM105.3,332.4h0.6v0.6h-0.6zM96.2,340.1h0.6v0.6h-0.6zM102.1,329.3h0.6v0.6h-0.6zM97.7,347.9h0.6v0.6h-0.6zM96.6,345.3h0.6v0.6h-0.6zM93.8,348.0h0.6v0.6h-0.6zM112.7,335.2h0.6v0.6h-0.6z" fill="#999"/>
<path d="M114.8,337.7h0.6v0.6h-0.6zM111.3,340.5h0.6v0.6h-0.6zM125.9,327.2h0.6v0.6h-0.6zM119.8,331.0h0.6v0.6h-0.6zM122.9,326.2h0.6v0.6h-0.6zM127.8,324.7h0.6v0.6h-0.6zM113.4,331.5h0.6v0.6h-0.6zM115.7,335.7h0.6v0.6h-0.6zM123.1,323.5h0.6v0.6h-0.6zM116.1,332.3h0.6v0.6h-0.6zM110.6,339.2h0.6v0.6h-0.6zM114.7,338.6h0.6v0.6h-0.6zM102.6,348.3h0.6v0.6h-0.6zM103.1,339.1h0.6v0.6h-0.6zM120.7,329.7h0.6v0.6h-0.6zM117.2,330.5h0.6v0.6h-0.6zM110.4,337.0h0.6v0.6h-0.6zM116.3,331.7h0.6v0.6h-0.6zM114.0,333.5h0.6v0.6h-0.6zM117.6,329.6h0.6v0.6h-0.6zM101.0,338.7h0.6v0.6h-0.6zM118.0,333.3h0.6v0.6h-0.6zM122.7,326.6h0.6v0.6h-0.6zM108.6,336.0h0.6v0.6h-0.6zM121.7,327.9h0.6v0.6h-0.6zM124.0,327.7h0.6v0.6h-0.6zM113.3,330.8h0.6v0.6h-0.6zM115.1,338.0h0.6v0.6h-0.6zM115.3,337.4h0.6v0.6h-0.6zM109.5,343.4h0.6v0.6h-0.6zM136.9,320.8h0.6v0.6h-0.6zM118.0,329.0h0.6v0.6h-0.6zM113.7,334.5h0.6v0.6h-0.6zM115.9,328.2h0.6v0.6h-0.6zM114.0,339.0h0.6v0.6h-0.6zM120.1,333.7h0.6v0.6h-0.6zM121.4,326.4h0.6v0.6h-0.6zM110.5,340.8h0.6v0.6h-0.6zM118.3,333.0h0.6v0.6h-0.6zM114.6,339.2h0.6v0.6h-0.6zM122.9,332.6h0.6v0.6h-0.6zM116.9,336.2h0.6v0.6h-0.6zM116.1,331.5h0.6v0.6h-0.6zM114.8,330.2h0.6v0.6h-0.6zM117.2,334.3h0.6v0.6h-0.6zM120.6,327.4h0.6v0.6h-0.6zM108.7,338.4h0.6v0.6h-0.6zM104.2,342.4h0.6v0.6h-0.6zM134.3,319.8h0.6v0.6h-0.6zM112.2,335.6h0.6v0.6h-0.6zM127.0,321.6h0.6v0.6h-0.6zM117.2,333.4h0.6v0.6h-0.6zM112.3,335.4h0.6v0.6h-0.6zM106.3,340.0h0.6v0.6h-0.6zM128.3,329.0h0.6v0.6h-0.6zM117.4,335.8h0.6v0.6h-0.6zM121.0,330.8h0.6v0.6h-0.6zM119.1,336.0h0.6v0.6h-0.6zM121.1,329.6h0.6v0.6h-0.6zM118.1,336.0h0.6v0.6h-0.6zM113.2,334.7h0.6v0.6h-0.6zM115.5,333.5h0.6v0.6h-0.6zM126.3,327.2h0.6v0.6h-0.6zM116.6,332.4h0.6v0.6h-0.6zM127.4,326.5h0.6v0.6h-0.6zM132.3,324.0h0.6v0.6h-0.6zM115.8,333.1h0.6v0.6h-0.6zM116.5,334.8h0.6v0.6h-0.6zM123.6,329.9h0.6v0.6h-0.6zM125.2,322.0h0.6v0.6h-0.6zM115.9,330.1h0.6v0.6h-0.6zM110.7,337.2h0.6v0.6h-0.6zM112.4,334.5h0.6v0.6h-0.6zM110.5,343.0h0.6v0.6h-0.6zM117.6,336.5h0.6v0.6h-0.6zM107.5,334.2h0.6v0.6h-0.6zM115.8,337.8h0.6v0.6h-0.6zM115.2,336.6h0.6v0.6h-0.6zM113.6,341.2h0.6v0.6h-0.6zM122.4,332.8h0.6v0.6h-0.6zM118.4,336.9h0.6v0.6h-0.6zM117.7,331.7h0.6v0.6h-0.6zM114.2,336.4h0.6v0.6h-0.6zM110.5,335.4h0.6v0.6h-0.6zM119.9,333.7h0.6v0.6h-0.6zM117.6,336.1h0.6v0.6h-0.6zM125.7,322.4h0.6v0.6h-0.6zM118.0,329.8h0.6v0.6h-0.6zM114.3,336.7h0.6v0.6h-0.6zM104.4,346.4h0.6v0.6h-0.6zM124.0,329.7h0.6v0.6h-0.6zM124.9,333.1h0.6v0.6h-0.6zM117.5,337.0h0.6v0.6h-0.6zM127.7,326.5h0.6v0.6h-0.6zM106.8,341.9h0.6v0.6h-0.6zM113.6,331.4h0.6v0.6h-0.6zM118.8,334.8h0.6v0.6h-0.6zM116.1,334.0h0.6v0.6h-0.6zM126.0,324.2h0.6v0.6h-0.6zM112.3,337.9h0.6v0.6h-0.6zM125.8,328.4h0.6v0.6h-0.6zM117.6,331.7h0.6v0.6h-0.6zM127.0,328.3h0.6v0.6h-0.6zM107.9,342.6h0.6v0.6h-0.6zM105.6,348.3h0.6v0.6h-0.6zM120.7,328.6h0.6v0.6h-0.6zM109.6,339.1h0.6v0.6h-0.6zM108.1,343.1h0.6v0.6h-0.6zM112.0,332.2h0.6v0.6h-0.6zM119.8,335.4h0.6v0.6h-0.6zM109.6,338.9h0.6v0.6h-0.6zM129.4,324.0h0.6v0.6h-0.6zM114.9,336.2h0.6v0.6h-0.6zM121.2,327.1h0.6v0.6h-0.6zM114.8,330.4h0.6v0.6h-0.6zM105.8,338.2h0.6v0.6h-0.6zM123.7,329.2h0.6v0.6h-0.6zM124.5,331.6h0.6v0.6h-0.6zM118.7,333.2h0.6v0.6h-0.6zM121.2,331.8h0.6v0.6h-0.6zM111.0,338.0h0.6v0.6h-0.6zM117.1,333.9h0.6v0.6h-0.6zM113.2,336.6h0.6v0.6h-0.6zM120.1,331.9h0.6v0.6h-0.6zM122.9,331.5h0.6v0.6h-0.6zM123.0,332.0h0.6v0.6h-0.6zM125.4,331.3h0.6v0.6h-0.6zM120.9,328.6h0.6v0.6h-0.6zM134.1,323.2h0.6v0.6h-0.6zM126.8,328.0h0.6v0.6h-0.6zM116.4,330.6h0.6v0.6h-0.6zM120.1,330.1h0.6v0.6h-0.6zM112.1,331.0h0.6v0.6h-0.6zM125.6,322.8h0.6v0.6h-0.6zM112.0,339.6h0.6v0.6h-0.6zM120.2,328.6h0.6v0.6h-0.6zM118.4,333.5h0.6v0.6h-0.6zM119.8,333.2h0.6v0.6h-0.6zM122.2,328.3h0.6v0.6h-0.6zM111.5,345.5h0.6v0.6h-0.6zM114.0,333.1h0.6v0.6h-0.6zM123.5,330.3h0.6v0.6h-0.6zM118.0,340.7h0.6v0.6h-0.6zM105.6,347.6h0.6v0.6h-0.6zM118.3,333.8h0.6v0.6h-0.6zM119.6,330.9h0.6v0.6h-0.6zM117.9,328.9h0.6v0.6h-0.6zM118.5,338.6h0.6v0.6h-0.6zM104.1,348.7h0.6v0.6h-0.6zM102.9,342.9h0.6v0.6h-0.6z" fill="#999"/>
<path d="M126.2,324.9h0.6v0.6h-0.6zM124.9,325.5h0.6v0.6h-0.6zM102.4,315.5h0.6v0.6h-0.6zM129.6,321.2h0.6v0.6h-0.6zM100.5,326.6h0.6v0.6h-0.6zM96.4,321.6h0.6v0.6h-0.6zM116.1,315.4h0.6v0.6h-0.6zM102.9,315.6h0.6v0.6h-0.6zM97.7,325.5h0.6v0.6h-0.6zM116.1,326.2h0.6v0.6h-0.6zM104.1,326.4h0.6v0.6h-0.6zM96.7,320.1h0.6v0.6h-0.6zM122.3,324.1h0.6v0.6h-0.6zM96.0,322.7h0.6v0.6h-0.6zM107.0,314.2h0.6v0.6h-0.6zM119.6,314.7h0.6v0.6h-0.6zM130.0,314.4h0.6v0.6h-0.6zM130.5,318.2h0.6v0.6h-0.6zM96.5,321.9h0.6v0.6h-0.6zM124.6,313.6h0.6v0.6h-0.6zM103.8,325.6h0.6v0.6h-0.6zM115.8,315.1h0.6v0.6h-0.6zM96.4,322.5h0.6v0.6h-0.6zM101.6,325.7h0.6v0.6h-0.6zM96.6,323.0h0.6v0.6h-0.6zM108.7,315.8h0.6v0.6h-0.6zM131.0,317.1h0.6v0.6h-0.6zM127.0,314.2h0.6v0.6h-0.6zM98.1,317.2h0.6v0.6h-0.6zM99.0,325.9h0.6v0.6h-0.6zM105.1,326.3h0.6v0.6h-0.6zM129.4,320.0h0.6v0.6h-0.6zM112.6,327.1h0.6v0.6h-0.6zM97.6,318.5h0.6v0.6h-0.6zM108.6,313.9h0.6v0.6h-0.6zM118.6,314.1h0.6v0.6h-0.6zM118.0,314.0h0.6v0.6h-0.6zM132.7,314.1h0.6v0.6h-0.6zM99.3,325.0h0.6v0.6h-0.6zM130.5,318.7h0.6v0.6h-0.6zM112.4,314.8h0.6v0.6h-0.6zM98.8,316.4h0.6v0.6h-0.6zM94.8,320.8h0.6v0.6h-0.6zM98.6,316.9h0.6v0.6h-0.6zM105.5,315.1h0.6v0.6h-0.6zM94.3,323.6h0.6v0.6h-0.6zM127.7,322.9h0.6v0.6h-0.6zM97.4,323.3h0.6v0.6h-0.6zM125.7,325.2h0.6v0.6h-0.6zM99.4,326.0h0.6v0.6h-0.6zM121.5,314.5h0.6v0.6h-0.6zM125.5,314.0h0.6v0.6h-0.6zM130.1,313.5h0.6v0.6h-0.6zM97.9,323.7h0.6v0.6h-0.6zM102.7,325.6h0.6v0.6h-0.6zM113.6,314.4h0.6v0.6h-0.6zM126.0,323.6h0.6v0.6h-0.6zM131.9,315.8h0.6v0.6h-0.6zM107.8,326.5h0.6v0.6h-0.6zM133.6,316.1h0.6v0.6h-0.6zM131.5,317.1h0.6v0.6h-0.6zM114.4,313.5h0.6v0.6h-0.6zM96.9,321.1h0.6v0.6h-0.6zM102.4,315.9h0.6v0.6h-0.6zM124.7,325.7h0.6v0.6h-0.6zM130.6,315.2h0.6v0.6h-0.6zM98.7,315.5h0.6v0.6h-0.6zM101.2,329.7h0.6v0.6h-0.6zM96.0,325.0h0.6v0.6h-0.6zM131.0,313.8h0.6v0.6h-0.6zM120.2,327.4h0.6v0.6h-0.6zM109.2,313.6h0.6v0.6h-0.6zM111.4,327.3h0.6v0.6h-0.6zM105.0,327.6h0.6v0.6h-0.6zM104.2,315.3h0.6v0.6h-0.6zM125.5,325.6h0.6v0.6h-0.6zM117.9,314.4h0.6v0.6h-0.6zM106.0,326.4h0.6v0.6h-0.6zM131.9,317.9h0.6v0.6h-0.6zM115.1,326.0h0.6v0.6h-0.6zM96.9,320.7h0.6v0.6h-0.6zM133.2,318.7h0.6v0.6h-0.6zM125.9,313.7h0.6v0.6h-0.6zM98.7,326.0h0.6v0.6h-0.6zM97.0,320.6h0.6v0.6h-0.6zM102.0,325.0h0.6v0.6h-0.6zM94.9,317.9h0.6v0.6h-0.6zM106.3,327.5h0.6v0.6h-0.6zM132.3,319.4h0.6v0.6h-0.6zM129.1,314.6h0.6v0.6h-0.6zM96.7,321.0h0.6v0.6h-0.6zM114.2,327.2h0.6v0.6h-0.6zM98.2,318.2h0.6v0.6h-0.6zM107.3,326.1h0.6v0.6h-0.6zM128.0,321.8h0.6v0.6h-0.6zM98.0,318.6h0.6v0.6h-0.6zM112.1,325.6h0.6v0.6h-0.6zM95.5,320.1h0.6v0.6h-0.6zM105.1,314.9h0.6v0.6h-0.6zM97.0,322.3h0.6v0.6h-0.6zM113.7,314.6h0.6v0.6h-0.6zM106.3,326.6h0.6v0.6h-0.6zM111.8,313.9h0.6v0.6h-0.6zM99.0,316.9h0.6v0.6h-0.6zM105.4,325.8h0.6v0.6h-0.6zM122.8,327.4h0.6v0.6h-0.6zM130.5,318.0h0.6v0.6h-0.6zM123.1,314.3h0.6v0.6h-0.6zM97.4,322.2h0.6v0.6h-0.6zM130.8,314.6h0.6v0.6h-0.6zM96.1,319.7h0.6v0.6h-0.6zM96.5,320.4h0.6v0.6h-0.6zM129.2,321.7h0.6v0.6h-0.6zM131.4,315.8h0.6v0.6h-0.6zM119.7,326.4h0.6v0.6h-0.6zM122.4,314.1h0.6v0.6h-0.6zM130.7,315.0h0.6v0.6h-0.6zM128.7,321.1h0.6v0.6h-0.6zM117.1,327.7h0.6v0.6h-0.6zM129.7,315.9h0.6v0.6h-0.6zM124.0,324.1h0.6v0.6h-0.6zM96.2,319.8h0.6v0.6h-0.6zM119.3,314.3h0.6v0.6h-0.6zM110.6,327.5h0.6v0.6h-0.6zM98.6,316.7h0.6v0.6h-0.6zM105.5,326.6h0.6v0.6h-0.6zM128.0,322.3h0.6v0.6h-0.6zM116.1,327.4h0.6v0.6h-0.6zM104.3,314.6h0.6v0.6h-0.6zM123.8,326.1h0.6v0.6h-0.6zM130.4,318.4h0.6v0.6h-0.6zM97.6,316.9h0.6v0.6h-0.6zM111.1,327.2h0.6v0.6h-0.6zM96.8,321.4h0.6v0.6h-0.6zM126.6,314.4h0.6v0.6h-0.6zM102.5,326.3h0.6v0.6h-0.6zM104.1,326.7h0.6v0.6h-0.6zM129.5,322.5h0.6v0.6h-0.6zM129.0,321.8h0.6v0.6h-0.6zM125.0,324.2h0.6v0.6h-0.6zM95.3,322.3h0.6v0.6h-0.6zM120.5,326.2h0.6v0.6h-0.6zM128.5,321.7h0.6v0.6h-0.6zM133.0,317.5h0.6v0.6h-0.6zM130.5,318.2h0.6v0.6h-0.6zM99.6,317.3h0.6v0.6h-0.6zM123.3,326.1h0.6v0.6h-0.6zM108.5,315.9h0.6v0.6h-0.6zM126.6,322.6h0.6v0.6h-0.6zM132.2,315.0h0.6v0.6h-0.6zM96.2,318.7h0.6v0.6h-0.6zM97.4,318.9h0.6v0.6h-0.6zM117.5,314.5h0.6v0.6h-0.6zM122.3,326.5h0.6v0.6h-0.6zM118.3,326.9h0.6v0.6h-0.6zM126.8,324.2h0.6v0.6h-0.6zM114.1,315.0h0.6v0.6h-0.6zM118.9,314.0h0.6v0.6h-0.6zM124.1,324.7h0.6v0.6h-0.6zM131.9,314.7h0.6v0.6h-0.6zM120.0,314.2h0.6v0.6h-0.6zM103.3,327.1h0.6v0.6h-0.6zM130.4,315.2h0.6v0.6h-0.6zM114.7,314.4h0.6v0.6h-0.6zM106.5,314.8h0.6v0.6h-0.6zM101.4,314.5h0.6v0.6h-0.6zM110.9,329.1h0.6v0.6h-0.6zM103.3,314.7h0.6v0.6h-0.6zM115.6,327.4h0.6v0.6h-0.6zM99.4,315.3h0.6v0.6h-0.6zM124.2,325.9h0.6v0.6h-0.6zM122.9,325.9h0.6v0.6h-0.6zM130.8,319.0h0.6v0.6h-0.6zM109.7,327.5h0.6v0.6h-0.6zM116.7,314.3h0.6v0.6h-0.6zM129.3,322.2h0.6v0.6h-0.6zM96.7,321.6h0.6v0.6h-0.6zM129.8,318.9h0.6v0.6h-0.6zM130.4,317.2h0.6v0.6h-0.6zM133.0,314.1h0.6v0.6h-0.6zM97.2,318.2h0.6v0.6h-0.6zM95.8,320.9h0.6v0.6h-0.6zM131.6,314.7h0.6v0.6h-0.6zM130.9,315.5h0.6v0.6h-0.6zM93.4,319.5h0.6v0.6h-0.6zM133.5,316.6h0.6v0.6h-0.6zM118.1,313.8h0.6v0.6h-0.6zM98.0,324.9h0.6v0.6h-0.6zM129.5,314.2h0.6v0.6h-0.6zM103.6,313.4h0.6v0.6h-0.6zM105.5,315.5h0.6v0.6h-0.6zM115.6,326.0h0.6v0.6h-0.6zM96.6,322.3h0.6v0.6h-0.6zM98.5,324.3h0.6v0.6h-0.6zM129.7,319.1h0.6v0.6h-0.6zM128.1,321.7h0.6v0.6h-0.6zM104.4,327.3h0.6v0.6h-0.6zM117.3,326.2h0.6v0.6h-0.6zM102.2,315.0h0.6v0.6h-0.6zM132.0,317.4h0.6v0.6h-0.6zM108.4,315.0h0.6v0.6h-0.6zM124.3,326.4h0.6v0.6h-0.6zM129.7,320.1h0.6v0.6h-0.6zM106.9,315.7h0.6v0.6h-0.6zM99.8,315.7h0.6v0.6h-0.6zM106.2,326.3h0.6v0.6h-0.6zM103.3,326.7h0.6v0.6h-0.6zM97.5,325.3h0.6v0.6h-0.6zM99.3,316.3h0.6v0.6h-0.6zM127.0,313.7h0.6v0.6h-0.6zM123.3,326.5h0.6v0.6h-0.6zM118.5,314.0h0.6v0.6h-0.6zM97.0,316.8h0.6v0.6h-0.6zM127.3,323.6h0.6v0.6h-0.6zM127.9,314.0h0.6v0.6h-0.6zM130.0,315.3h0.6v0.6h-0.6zM123.0,313.7h0.6v0.6h-0.6zM99.3,316.8h0.6v0.6h-0.6zM103.4,327.0h0.6v0.6h-0.6zM129.1,319.6h0.6v0.6h-0.6zM131.2,316.2h0.6v0.6h-0.6zM113.5,326.4h0.6v0.6h-0.6zM97.8,320.1h0.6v0.6h-0.6zM125.7,313.9h0.6v0.6h-0.6zM122.7,325.8h0.6v0.6h-0.6zM99.2,314.9h0.6v0.6h-0.6zM126.8,314.4h0.6v0.6h-0.6zM98.5,317.7h0.6v0.6h-0.6zM98.3,316.1h0.6v0.6h-0.6zM131.2,315.9h0.6v0.6h-0.6zM126.8,323.0h0.6v0.6h-0.6zM126.8,314.2h0.6v0.6h-0.6zM123.8,313.4h0.6v0.6h-0.6zM119.2,327.1h0.6v0.6h-0.6zM128.6,323.5h0.6v0.6h-0.6zM100.6,325.9h0.6v0.6h-0.6zM128.5,314.2h0.6v0.6h-0.6zM129.7,320.0h0.6v0.6h-0.6zM110.6,313.8h0.6v0.6h-0.6zM129.3,314.5h0.6v0.6h-0.6zM131.8,320.8h0.6v0.6h-0.6zM103.9,325.5h0.6v0.6h-0.6zM130.9,315.3h0.6v0.6h-0.6zM131.6,315.5h0.6v0.6h-0.6zM131.3,315.7h0.6v0.6h-0.6zM117.2,327.7h0.6v0.6h-0.6zM131.3,316.6h0.6v0.6h-0.6zM97.2,323.1h0.6v0.6h-0.6zM121.8,315.4h0.6v0.6h-0.6zM95.6,323.0h0.6v0.6h-0.6zM95.5,320.5h0.6v0.6h-0.6zM100.1,316.4h0.6v0.6h-0.6zM101.1,326.6h0.6v0.6h-0.6zM94.4,318.0h0.6v0.6h-0.6zM96.7,324.2h0.6v0.6h-0.6zM131.0,317.3h0.6v0.6h-0.6zM97.1,321.2h0.6v0.6h-0.6zM97.4,326.4h0.6v0.6h-0.6zM114.7,327.6h0.6v0.6h-0.6zM130.4,315.3h0.6v0.6h-0.6zM131.4,314.7h0.6v0.6h-0.6zM97.2,316.9h0.6v0.6h-0.6zM99.9,316.9h0.6v0.6h-0.6zM96.5,318.1h0.6v0.6h-0.6zM97.0,321.9h0.6v0.6h-0.6zM104.7,327.1h0.6v0.6h-0.6zM103.0,316.1h0.6v0.6h-0.6zM116.3,328.7h0.6v0.6h-0.6zM128.8,312.9h0.6v0.6h-0.6zM120.6,326.5h0.6v0.6h-0.6zM105.7,315.1h0.6v0.6h-0.6zM95.9,319.6h0.6v0.6h-0.6zM127.2,322.7h0.6v0.6h-0.6zM121.6,326.6h0.6v0.6h-0.6zM129.8,315.1h0.6v0.6h-0.6zM127.2,314.5h0.6v0.6h-0.6zM95.9,322.2h0.6v0.6h-0.6zM130.1,319.5h0.6v0.6h-0.6zM98.2,324.0h0.6v0.6h-0.6zM110.5,314.9h0.6v0.6h-0.6zM117.1,327.8h0.6v0.6h-0.6zM96.8,322.5h0.6v0.6h-0.6zM118.5,326.3h0.6v0.6h-0.6zM98.5,324.4h0.6v0.6h-0.6zM93.7,321.6h0.6v0.6h-0.6zM103.5,316.1h0.6v0.6h-0.6zM108.2,326.9h0.6v0.6h-0.6zM107.4,327.0h0.6v0.6h-0.6zM98.8,324.5h0.6v0.6h-0.6zM122.4,315.1h0.6v0.6h-0.6zM132.3,315.5h0.6v0.6h-0.6zM120.7,313.5h0.6v0.6h-0.6zM118.2,327.0h0.6v0.6h-0.6zM116.1,314.7h0.6v0.6h-0.6zM110.5,314.4h0.6v0.6h-0.6zM102.1,316.3h0.6v0.6h-0.6zM96.9,320.5h0.6v0.6h-0.6zM129.7,322.6h0.6v0.6h-0.6zM129.2,313.9h0.6v0.6h-0.6zM131.4,314.9h0.6v0.6h-0.6z" fill="#6a6a6a"/>
<path d="M97.00,320.00 C97.50,318.97 97.83,317.08 100.00,316.30 C102.17,315.52 106.67,315.58 110.00,315.30 C113.33,315.02 117.00,314.82 120.00,314.60 C123.00,314.38 126.13,313.80 128.00,314.00 C129.87,314.20 131.12,314.55 131.20,315.80 C131.28,317.05 130.03,319.80 128.50,321.50 C126.97,323.20 125.08,325.15 122.00,326.00 C118.92,326.85 113.67,326.68 110.00,326.60 C106.33,326.52 102.17,326.18 100.00,325.50 C97.83,324.82 97.50,323.42 97.00,322.50 C96.50,321.58 96.50,321.03 97.00,320.00Z" stroke="#555" stroke-width="0.7" fill="rgb(210,210,210)"/>
<path d="M99.41,320.09 C99.81,319.25 100.09,317.72 101.85,317.08 C103.62,316.44 107.28,316.49 110.00,316.26 C112.72,316.03 115.70,315.87 118.15,315.69 C120.59,315.52 123.15,315.04 124.67,315.20 C126.19,315.37 127.21,315.65 127.27,316.67 C127.34,317.69 126.32,319.93 125.07,321.31 C123.82,322.70 122.29,324.29 119.78,324.98 C117.27,325.67 112.99,325.54 110.00,325.47 C107.01,325.40 103.62,325.13 101.85,324.57 C100.09,324.02 99.81,322.88 99.41,322.13 C99.00,321.38 99.00,320.93 99.41,320.09Z" stroke="#7a7a7a" stroke-width="0.35" fill="rgb(203,203,203)"/>
<path d="M101.81,320.19 C102.13,319.53 102.34,318.35 103.70,317.86 C105.07,317.36 107.90,317.40 110.00,317.23 C112.10,317.05 114.41,316.92 116.30,316.79 C118.19,316.65 120.16,316.28 121.33,316.41 C122.51,316.53 123.30,316.75 123.35,317.54 C123.40,318.33 122.61,320.06 121.65,321.13 C120.68,322.20 119.50,323.43 117.56,323.96 C115.61,324.50 112.31,324.39 110.00,324.34 C107.69,324.29 105.07,324.08 103.70,323.65 C102.34,323.22 102.13,322.34 101.81,321.76 C101.50,321.18 101.50,320.84 101.81,320.19Z" stroke="#7a7a7a" stroke-width="0.35" fill="rgb(197,197,197)"/>
<path d="M104.22,320.28 C104.44,319.82 104.59,318.98 105.56,318.63 C106.52,318.29 108.52,318.31 110.00,318.19 C111.48,318.06 113.11,317.97 114.44,317.88 C115.78,317.78 117.17,317.52 118.00,317.61 C118.83,317.70 119.39,317.86 119.42,318.41 C119.46,318.97 118.90,320.19 118.22,320.94 C117.54,321.70 116.70,322.57 115.33,322.94 C113.96,323.32 111.63,323.25 110.00,323.21 C108.37,323.17 106.52,323.03 105.56,322.72 C104.59,322.42 104.44,321.80 104.22,321.39 C104.00,320.98 104.00,320.74 104.22,320.28Z" stroke="#7a7a7a" stroke-width="0.35" fill="rgb(191,191,191)"/>
<path d="M106.63,320.37 C106.76,320.10 106.85,319.61 107.41,319.41 C107.97,319.21 109.14,319.23 110.00,319.15 C110.86,319.08 111.81,319.03 112.59,318.97 C113.37,318.91 114.18,318.76 114.67,318.81 C115.15,318.87 115.47,318.96 115.50,319.28 C115.52,319.61 115.19,320.32 114.80,320.76 C114.40,321.20 113.91,321.71 113.11,321.93 C112.31,322.15 110.95,322.10 110.00,322.08 C109.05,322.06 107.97,321.97 107.41,321.80 C106.85,321.62 106.76,321.26 106.63,321.02 C106.50,320.78 106.50,320.64 106.63,320.37Z" stroke="#7a7a7a" stroke-width="0.35" fill="rgb(185,185,185)"/>
<path d="M105.0,346.4h0.6v0.6h-0.6zM107.8,338.8h0.6v0.6h-0.6zM107.3,340.9h0.6v0.6h-0.6zM108.8,336.9h0.6v0.6h-0.6zM97.9,333.7h0.6v0.6h-0.6zM95.9,334.9h0.6v0.6h-0.6zM100.5,332.2h0.6v0.6h-0.6zM96.9,334.5h0.6v0.6h-0.6zM97.6,341.7h0.6v0.6h-0.6zM98.3,333.3h0.6v0.6h-0.6zM98.0,343.7h0.6v0.6h-0.6zM99.4,344.3h0.6v0.6h-0.6zM97.0,336.3h0.6v0.6h-0.6zM104.9,332.7h0.6v0.6h-0.6zM99.0,333.3h0.6v0.6h-0.6zM109.2,343.7h0.6v0.6h-0.6zM108.7,335.0h0.6v0.6h-0.6zM107.5,333.1h0.6v0.6h-0.6zM105.8,342.6h0.6v0.6h-0.6zM107.4,342.8h0.6v0.6h-0.6zM97.1,336.1h0.6v0.6h-0.6zM100.0,344.3h0.6v0.6h-0.6zM101.6,345.3h0.6v0.6h-0.6zM105.7,333.9h0.6v0.6h-0.6zM97.6,337.8h0.6v0.6h-0.6zM97.5,336.6h0.6v0.6h-0.6zM105.5,333.7h0.6v0.6h-0.6zM103.4,333.4h0.6v0.6h-0.6zM107.7,333.8h0.6v0.6h-0.6zM95.9,337.3h0.6v0.6h-0.6zM96.3,338.4h0.6v0.6h-0.6zM99.5,333.2h0.6v0.6h-0.6zM108.3,343.1h0.6v0.6h-0.6zM101.8,331.4h0.6v0.6h-0.6zM101.6,343.8h0.6v0.6h-0.6zM106.6,333.7h0.6v0.6h-0.6zM104.6,344.2h0.6v0.6h-0.6zM103.0,345.5h0.6v0.6h-0.6zM101.9,332.5h0.6v0.6h-0.6zM96.4,339.5h0.6v0.6h-0.6zM100.1,344.5h0.6v0.6h-0.6zM97.2,336.1h0.6v0.6h-0.6zM103.1,333.2h0.6v0.6h-0.6zM109.4,336.7h0.6v0.6h-0.6zM98.1,332.1h0.6v0.6h-0.6zM95.1,337.5h0.6v0.6h-0.6zM96.3,336.9h0.6v0.6h-0.6zM106.6,333.5h0.6v0.6h-0.6zM97.0,340.5h0.6v0.6h-0.6zM103.4,345.8h0.6v0.6h-0.6zM97.4,338.2h0.6v0.6h-0.6zM104.0,331.2h0.6v0.6h-0.6zM107.8,341.6h0.6v0.6h-0.6zM98.3,332.7h0.6v0.6h-0.6zM102.3,344.9h0.6v0.6h-0.6zM99.8,333.6h0.6v0.6h-0.6zM107.5,341.9h0.6v0.6h-0.6zM99.1,343.2h0.6v0.6h-0.6zM100.0,344.6h0.6v0.6h-0.6zM98.9,332.9h0.6v0.6h-0.6zM106.2,331.3h0.6v0.6h-0.6zM107.3,333.3h0.6v0.6h-0.6zM108.3,337.0h0.6v0.6h-0.6zM107.9,334.7h0.6v0.6h-0.6zM103.9,332.6h0.6v0.6h-0.6zM95.9,337.0h0.6v0.6h-0.6zM107.3,342.9h0.6v0.6h-0.6zM105.5,331.9h0.6v0.6h-0.6zM106.3,343.3h0.6v0.6h-0.6zM107.2,342.2h0.6v0.6h-0.6zM96.7,336.2h0.6v0.6h-0.6zM95.6,337.7h0.6v0.6h-0.6zM96.7,335.2h0.6v0.6h-0.6zM99.2,333.9h0.6v0.6h-0.6zM107.8,334.3h0.6v0.6h-0.6zM107.5,343.2h0.6v0.6h-0.6zM97.5,338.2h0.6v0.6h-0.6zM96.7,339.2h0.6v0.6h-0.6zM106.9,345.5h0.6v0.6h-0.6zM109.9,336.2h0.6v0.6h-0.6zM98.7,334.0h0.6v0.6h-0.6zM96.4,337.3h0.6v0.6h-0.6zM98.6,334.0h0.6v0.6h-0.6zM98.1,343.1h0.6v0.6h-0.6zM104.7,331.4h0.6v0.6h-0.6zM104.2,346.6h0.6v0.6h-0.6zM105.0,331.8h0.6v0.6h-0.6zM106.4,333.8h0.6v0.6h-0.6zM100.0,333.2h0.6v0.6h-0.6zM107.9,342.1h0.6v0.6h-0.6zM107.6,341.2h0.6v0.6h-0.6zM99.7,333.6h0.6v0.6h-0.6zM100.9,332.5h0.6v0.6h-0.6zM104.1,332.4h0.6v0.6h-0.6zM97.2,339.0h0.6v0.6h-0.6zM108.2,339.2h0.6v0.6h-0.6zM99.4,332.3h0.6v0.6h-0.6zM103.1,343.9h0.6v0.6h-0.6zM97.4,337.0h0.6v0.6h-0.6zM100.4,333.3h0.6v0.6h-0.6z" fill="#6a6a6a"/>
<path d="M97.00,337.00 C97.37,335.92 98.00,334.20 99.00,333.50 C100.00,332.80 101.67,332.63 103.00,332.80 C104.33,332.97 106.17,333.55 107.00,334.50 C107.83,335.45 108.08,337.17 108.00,338.50 C107.92,339.83 107.42,341.50 106.50,342.50 C105.58,343.50 103.83,344.50 102.50,344.50 C101.17,344.50 99.45,343.25 98.50,342.50 C97.55,341.75 97.05,340.92 96.80,340.00 C96.55,339.08 96.63,338.08 97.00,337.00Z" stroke="#888" stroke-width="0.6" fill="rgb(215,215,215)"/>
<path d="M98.18,337.39 C98.47,336.55 98.95,335.22 99.73,334.68 C100.50,334.14 101.79,334.01 102.82,334.14 C103.85,334.27 105.27,334.72 105.91,335.45 C106.55,336.19 106.75,337.52 106.68,338.55 C106.62,339.58 106.23,340.86 105.52,341.64 C104.81,342.41 103.46,343.18 102.43,343.18 C101.40,343.18 100.08,342.22 99.34,341.64 C98.61,341.06 98.22,340.41 98.03,339.70 C97.83,339.00 97.90,338.22 98.18,337.39Z" stroke="#7a7a7a" stroke-width="0.35" fill="rgb(196,196,196)"/>
<path d="M99.36,337.77 C99.56,337.18 99.91,336.25 100.45,335.86 C101.00,335.48 101.91,335.39 102.64,335.48 C103.36,335.57 104.36,335.89 104.82,336.41 C105.27,336.93 105.41,337.86 105.36,338.59 C105.32,339.32 105.05,340.23 104.55,340.77 C104.05,341.32 103.09,341.86 102.36,341.86 C101.64,341.86 100.70,341.18 100.18,340.77 C99.66,340.36 99.39,339.91 99.25,339.41 C99.12,338.91 99.16,338.36 99.36,337.77Z" stroke="#7a7a7a" stroke-width="0.35" fill="rgb(178,178,178)"/>
<path d="M100.55,338.16 C100.66,337.81 100.86,337.27 101.18,337.05 C101.50,336.82 102.03,336.77 102.45,336.82 C102.88,336.88 103.46,337.06 103.73,337.36 C103.99,337.67 104.07,338.21 104.05,338.64 C104.02,339.06 103.86,339.59 103.57,339.91 C103.28,340.23 102.72,340.55 102.30,340.55 C101.87,340.55 101.33,340.15 101.02,339.91 C100.72,339.67 100.56,339.41 100.48,339.11 C100.40,338.82 100.43,338.50 100.55,338.16Z" stroke="#7a7a7a" stroke-width="0.35" fill="rgb(160,160,160)"/>
<ellipse cx="102.2" cy="338.7" rx="1.3" ry="0.9099999999999999" fill="#f4f4f4"/>
<path d="M106,342 L126,325" stroke="#bbb" stroke-width="1.8" fill="none"/>
<path d="M98,319 C100,315.5 110,315 120,314.4 C126,314 130,313.8 131.2,315.8 C130.5,318 129,320 128,321.5" stroke="#333" stroke-width="1.1" fill="none"/>
<path d="M170.4,306.9h0.6v0.6h-0.6zM183.6,329.7h0.6v0.6h-0.6zM167.4,326.8h0.6v0.6h-0.6zM163.0,328.8h0.6v0.6h-0.6zM175.5,333.0h0.6v0.6h-0.6zM158.5,336.9h0.6v0.6h-0.6zM184.8,337.5h0.6v0.6h-0.6zM181.3,315.9h0.6v0.6h-0.6zM161.6,346.8h0.6v0.6h-0.6zM183.3,294.7h0.6v0.6h-0.6zM172.1,338.9h0.6v0.6h-0.6zM165.8,319.4h0.6v0.6h-0.6zM172.5,332.2h0.6v0.6h-0.6zM179.7,334.7h0.6v0.6h-0.6zM200.9,343.5h0.6v0.6h-0.6zM157.5,321.9h0.6v0.6h-0.6zM163.2,331.4h0.6v0.6h-0.6zM179.6,348.8h0.6v0.6h-0.6zM166.2,332.9h0.6v0.6h-0.6zM174.9,307.9h0.6v0.6h-0.6zM188.6,327.8h0.6v0.6h-0.6zM157.7,336.6h0.6v0.6h-0.6zM169.4,331.1h0.6v0.6h-0.6zM166.7,329.2h0.6v0.6h-0.6zM175.1,345.2h0.6v0.6h-0.6zM167.0,339.4h0.6v0.6h-0.6zM174.2,332.7h0.6v0.6h-0.6zM179.7,311.1h0.6v0.6h-0.6zM171.8,314.8h0.6v0.6h-0.6zM181.9,338.5h0.6v0.6h-0.6zM185.6,312.8h0.6v0.6h-0.6zM162.9,320.4h0.6v0.6h-0.6zM177.8,331.0h0.6v0.6h-0.6zM177.2,326.4h0.6v0.6h-0.6zM175.8,338.1h0.6v0.6h-0.6zM170.8,313.3h0.6v0.6h-0.6zM193.0,310.9h0.6v0.6h-0.6zM174.9,335.5h0.6v0.6h-0.6zM183.1,334.2h0.6v0.6h-0.6zM198.4,343.3h0.6v0.6h-0.6zM164.6,322.7h0.6v0.6h-0.6zM198.7,335.8h0.6v0.6h-0.6zM176.6,345.1h0.6v0.6h-0.6zM178.5,335.6h0.6v0.6h-0.6zM184.9,337.4h0.6v0.6h-0.6zM172.9,340.7h0.6v0.6h-0.6zM174.3,321.0h0.6v0.6h-0.6zM185.0,336.9h0.6v0.6h-0.6zM166.3,334.4h0.6v0.6h-0.6zM171.5,332.4h0.6v0.6h-0.6zM188.7,339.2h0.6v0.6h-0.6zM164.8,316.6h0.6v0.6h-0.6zM167.5,318.8h0.6v0.6h-0.6zM184.0,348.9h0.6v0.6h-0.6zM164.1,325.7h0.6v0.6h-0.6zM175.2,337.7h0.6v0.6h-0.6zM187.2,326.8h0.6v0.6h-0.6zM177.9,323.1h0.6v0.6h-0.6zM168.9,323.4h0.6v0.6h-0.6zM176.9,336.5h0.6v0.6h-0.6zM163.4,336.7h0.6v0.6h-0.6zM157.7,338.9h0.6v0.6h-0.6zM188.2,344.3h0.6v0.6h-0.6zM158.0,334.9h0.6v0.6h-0.6zM169.3,332.7h0.6v0.6h-0.6zM188.3,319.2h0.6v0.6h-0.6zM173.7,316.0h0.6v0.6h-0.6zM169.2,303.7h0.6v0.6h-0.6zM174.3,301.7h0.6v0.6h-0.6zM170.6,334.8h0.6v0.6h-0.6zM191.5,315.3h0.6v0.6h-0.6zM185.0,321.1h0.6v0.6h-0.6zM177.9,333.8h0.6v0.6h-0.6zM180.4,335.5h0.6v0.6h-0.6zM166.6,332.9h0.6v0.6h-0.6zM173.1,328.7h0.6v0.6h-0.6zM168.8,338.0h0.6v0.6h-0.6zM187.9,331.8h0.6v0.6h-0.6zM189.3,319.8h0.6v0.6h-0.6zM196.6,321.4h0.6v0.6h-0.6zM173.7,328.1h0.6v0.6h-0.6zM189.4,332.8h0.6v0.6h-0.6zM181.4,320.5h0.6v0.6h-0.6zM188.6,340.4h0.6v0.6h-0.6zM164.0,325.3h0.6v0.6h-0.6zM185.7,337.1h0.6v0.6h-0.6zM160.5,321.0h0.6v0.6h-0.6zM179.6,325.7h0.6v0.6h-0.6zM180.7,320.3h0.6v0.6h-0.6zM167.3,332.6h0.6v0.6h-0.6zM180.2,317.9h0.6v0.6h-0.6zM187.2,332.9h0.6v0.6h-0.6zM177.2,329.4h0.6v0.6h-0.6zM186.2,331.1h0.6v0.6h-0.6zM175.6,328.1h0.6v0.6h-0.6zM191.5,344.3h0.6v0.6h-0.6zM172.1,318.8h0.6v0.6h-0.6zM181.9,329.8h0.6v0.6h-0.6zM180.3,313.8h0.6v0.6h-0.6zM174.1,333.7h0.6v0.6h-0.6zM159.8,310.2h0.6v0.6h-0.6zM168.7,326.5h0.6v0.6h-0.6zM183.1,342.4h0.6v0.6h-0.6zM182.7,325.1h0.6v0.6h-0.6zM176.5,333.5h0.6v0.6h-0.6zM178.0,334.9h0.6v0.6h-0.6zM169.0,331.7h0.6v0.6h-0.6zM171.8,321.7h0.6v0.6h-0.6zM174.8,338.4h0.6v0.6h-0.6zM177.7,330.8h0.6v0.6h-0.6zM176.9,328.5h0.6v0.6h-0.6zM174.4,325.2h0.6v0.6h-0.6zM168.9,322.4h0.6v0.6h-0.6zM166.5,334.1h0.6v0.6h-0.6zM174.4,331.0h0.6v0.6h-0.6zM179.4,332.6h0.6v0.6h-0.6zM178.6,336.7h0.6v0.6h-0.6zM188.2,336.3h0.6v0.6h-0.6zM180.1,339.4h0.6v0.6h-0.6zM171.5,317.0h0.6v0.6h-0.6zM174.9,310.6h0.6v0.6h-0.6zM168.8,330.2h0.6v0.6h-0.6zM192.3,332.1h0.6v0.6h-0.6zM169.9,334.1h0.6v0.6h-0.6zM182.0,331.2h0.6v0.6h-0.6zM185.7,320.9h0.6v0.6h-0.6zM188.2,312.2h0.6v0.6h-0.6zM176.1,335.2h0.6v0.6h-0.6zM182.1,323.2h0.6v0.6h-0.6zM164.7,330.2h0.6v0.6h-0.6zM197.2,322.7h0.6v0.6h-0.6zM191.5,321.1h0.6v0.6h-0.6zM176.6,331.1h0.6v0.6h-0.6zM200.7,331.1h0.6v0.6h-0.6zM183.8,326.1h0.6v0.6h-0.6zM184.6,326.5h0.6v0.6h-0.6zM179.8,335.2h0.6v0.6h-0.6zM202.1,327.3h0.6v0.6h-0.6zM168.4,337.2h0.6v0.6h-0.6zM184.9,311.8h0.6v0.6h-0.6zM184.3,322.3h0.6v0.6h-0.6zM177.5,339.9h0.6v0.6h-0.6zM189.9,322.4h0.6v0.6h-0.6zM181.0,323.2h0.6v0.6h-0.6zM158.4,320.4h0.6v0.6h-0.6zM180.2,317.9h0.6v0.6h-0.6zM169.7,313.8h0.6v0.6h-0.6zM163.6,332.5h0.6v0.6h-0.6zM184.4,308.8h0.6v0.6h-0.6zM186.5,327.2h0.6v0.6h-0.6zM169.8,316.7h0.6v0.6h-0.6zM180.9,322.1h0.6v0.6h-0.6zM167.7,329.6h0.6v0.6h-0.6zM181.7,313.1h0.6v0.6h-0.6zM181.3,328.2h0.6v0.6h-0.6zM185.3,338.4h0.6v0.6h-0.6zM177.6,318.9h0.6v0.6h-0.6zM188.8,334.4h0.6v0.6h-0.6zM167.2,321.0h0.6v0.6h-0.6zM174.7,337.2h0.6v0.6h-0.6zM178.2,346.2h0.6v0.6h-0.6zM163.2,338.7h0.6v0.6h-0.6zM168.4,325.8h0.6v0.6h-0.6zM173.0,342.6h0.6v0.6h-0.6zM192.0,311.1h0.6v0.6h-0.6zM180.8,334.4h0.6v0.6h-0.6zM181.8,331.8h0.6v0.6h-0.6zM162.8,338.4h0.6v0.6h-0.6zM188.7,321.3h0.6v0.6h-0.6zM182.5,335.7h0.6v0.6h-0.6zM181.5,334.4h0.6v0.6h-0.6zM164.4,322.7h0.6v0.6h-0.6zM180.2,335.1h0.6v0.6h-0.6zM188.3,319.4h0.6v0.6h-0.6zM168.2,322.8h0.6v0.6h-0.6zM170.3,344.1h0.6v0.6h-0.6zM192.0,329.4h0.6v0.6h-0.6zM191.0,324.1h0.6v0.6h-0.6zM178.8,328.8h0.6v0.6h-0.6zM177.5,321.8h0.6v0.6h-0.6zM161.9,334.8h0.6v0.6h-0.6zM171.9,320.7h0.6v0.6h-0.6zM165.9,307.8h0.6v0.6h-0.6zM165.2,330.0h0.6v0.6h-0.6zM167.2,309.3h0.6v0.6h-0.6zM166.3,306.9h0.6v0.6h-0.6zM181.4,303.4h0.6v0.6h-0.6zM176.0,343.0h0.6v0.6h-0.6zM177.4,332.8h0.6v0.6h-0.6zM161.6,348.3h0.6v0.6h-0.6zM173.4,336.3h0.6v0.6h-0.6zM203.9,315.4h0.6v0.6h-0.6zM176.5,318.7h0.6v0.6h-0.6zM177.8,324.7h0.6v0.6h-0.6zM180.0,328.2h0.6v0.6h-0.6zM171.9,334.4h0.6v0.6h-0.6zM183.6,319.6h0.6v0.6h-0.6zM183.6,318.7h0.6v0.6h-0.6zM169.0,334.5h0.6v0.6h-0.6zM187.6,331.2h0.6v0.6h-0.6zM204.0,319.9h0.6v0.6h-0.6zM180.5,326.1h0.6v0.6h-0.6zM178.3,331.0h0.6v0.6h-0.6zM177.3,332.0h0.6v0.6h-0.6zM174.9,312.2h0.6v0.6h-0.6zM179.5,327.8h0.6v0.6h-0.6zM170.3,311.0h0.6v0.6h-0.6zM177.9,331.7h0.6v0.6h-0.6zM195.3,325.8h0.6v0.6h-0.6zM182.4,330.7h0.6v0.6h-0.6zM172.3,322.9h0.6v0.6h-0.6zM170.2,330.2h0.6v0.6h-0.6zM186.6,334.3h0.6v0.6h-0.6zM186.3,328.2h0.6v0.6h-0.6zM188.5,333.5h0.6v0.6h-0.6zM181.0,335.7h0.6v0.6h-0.6zM191.6,325.2h0.6v0.6h-0.6zM168.6,316.1h0.6v0.6h-0.6zM181.0,342.5h0.6v0.6h-0.6zM180.7,327.2h0.6v0.6h-0.6zM181.4,320.2h0.6v0.6h-0.6zM180.8,341.9h0.6v0.6h-0.6zM179.9,323.1h0.6v0.6h-0.6zM180.2,339.1h0.6v0.6h-0.6zM179.7,339.4h0.6v0.6h-0.6zM178.5,327.9h0.6v0.6h-0.6zM169.4,330.9h0.6v0.6h-0.6zM183.3,339.5h0.6v0.6h-0.6zM187.7,324.3h0.6v0.6h-0.6zM160.1,322.4h0.6v0.6h-0.6zM194.2,307.8h0.6v0.6h-0.6zM172.6,333.4h0.6v0.6h-0.6zM189.0,321.2h0.6v0.6h-0.6zM180.6,324.2h0.6v0.6h-0.6zM177.3,323.1h0.6v0.6h-0.6zM179.8,331.7h0.6v0.6h-0.6zM168.6,335.9h0.6v0.6h-0.6zM161.8,308.3h0.6v0.6h-0.6zM162.9,333.6h0.6v0.6h-0.6zM166.8,333.2h0.6v0.6h-0.6zM175.9,329.0h0.6v0.6h-0.6zM175.4,344.0h0.6v0.6h-0.6zM181.1,313.5h0.6v0.6h-0.6zM165.5,331.7h0.6v0.6h-0.6zM179.1,334.9h0.6v0.6h-0.6zM190.6,327.8h0.6v0.6h-0.6zM164.8,335.0h0.6v0.6h-0.6zM166.8,328.4h0.6v0.6h-0.6zM165.9,333.2h0.6v0.6h-0.6zM194.6,315.5h0.6v0.6h-0.6zM173.1,338.7h0.6v0.6h-0.6zM180.7,352.3h0.6v0.6h-0.6zM184.3,336.7h0.6v0.6h-0.6zM188.2,328.8h0.6v0.6h-0.6zM174.2,328.4h0.6v0.6h-0.6zM183.5,337.6h0.6v0.6h-0.6zM166.8,329.4h0.6v0.6h-0.6zM185.2,331.0h0.6v0.6h-0.6zM173.0,331.8h0.6v0.6h-0.6zM169.7,323.9h0.6v0.6h-0.6zM159.0,324.9h0.6v0.6h-0.6zM188.9,329.1h0.6v0.6h-0.6zM160.8,311.9h0.6v0.6h-0.6zM168.3,310.3h0.6v0.6h-0.6zM171.9,321.9h0.6v0.6h-0.6zM183.2,312.5h0.6v0.6h-0.6zM198.9,334.6h0.6v0.6h-0.6z" fill="#999"/>
<path d="M190.3,340.8h0.6v0.6h-0.6zM196.1,326.8h0.6v0.6h-0.6zM194.0,332.0h0.6v0.6h-0.6zM209.6,337.1h0.6v0.6h-0.6zM196.2,341.3h0.6v0.6h-0.6zM205.1,346.3h0.6v0.6h-0.6zM183.2,331.2h0.6v0.6h-0.6zM194.1,341.9h0.6v0.6h-0.6zM195.2,344.0h0.6v0.6h-0.6zM192.9,320.7h0.6v0.6h-0.6zM190.5,328.1h0.6v0.6h-0.6zM196.1,331.5h0.6v0.6h-0.6zM199.5,343.6h0.6v0.6h-0.6zM206.5,329.0h0.6v0.6h-0.6zM195.3,353.6h0.6v0.6h-0.6zM187.5,335.1h0.6v0.6h-0.6zM190.0,322.0h0.6v0.6h-0.6zM204.3,318.8h0.6v0.6h-0.6zM189.9,349.4h0.6v0.6h-0.6zM191.3,344.5h0.6v0.6h-0.6zM199.7,342.7h0.6v0.6h-0.6zM192.0,324.3h0.6v0.6h-0.6zM197.9,330.9h0.6v0.6h-0.6zM194.8,319.0h0.6v0.6h-0.6zM201.6,333.1h0.6v0.6h-0.6zM201.9,339.5h0.6v0.6h-0.6zM192.0,330.8h0.6v0.6h-0.6zM202.2,327.3h0.6v0.6h-0.6zM191.5,327.2h0.6v0.6h-0.6zM198.0,338.6h0.6v0.6h-0.6zM198.9,333.3h0.6v0.6h-0.6zM189.0,332.2h0.6v0.6h-0.6zM195.2,327.0h0.6v0.6h-0.6zM197.0,342.5h0.6v0.6h-0.6zM193.0,324.8h0.6v0.6h-0.6zM195.8,336.5h0.6v0.6h-0.6zM191.2,338.6h0.6v0.6h-0.6zM196.3,325.6h0.6v0.6h-0.6zM189.7,344.5h0.6v0.6h-0.6zM195.4,334.4h0.6v0.6h-0.6zM208.1,328.5h0.6v0.6h-0.6zM193.0,338.7h0.6v0.6h-0.6zM191.0,333.5h0.6v0.6h-0.6zM197.8,313.8h0.6v0.6h-0.6zM193.6,323.2h0.6v0.6h-0.6zM202.5,314.2h0.6v0.6h-0.6zM198.6,344.2h0.6v0.6h-0.6zM203.2,355.3h0.6v0.6h-0.6zM196.7,323.1h0.6v0.6h-0.6zM194.7,324.5h0.6v0.6h-0.6zM201.6,336.2h0.6v0.6h-0.6zM200.9,336.5h0.6v0.6h-0.6zM199.7,322.6h0.6v0.6h-0.6zM194.6,338.2h0.6v0.6h-0.6zM188.3,328.2h0.6v0.6h-0.6zM198.0,328.9h0.6v0.6h-0.6zM188.6,334.1h0.6v0.6h-0.6zM192.2,336.0h0.6v0.6h-0.6zM189.4,339.5h0.6v0.6h-0.6zM196.8,339.4h0.6v0.6h-0.6zM181.0,328.4h0.6v0.6h-0.6zM189.5,332.9h0.6v0.6h-0.6zM202.1,334.3h0.6v0.6h-0.6zM193.3,335.7h0.6v0.6h-0.6zM186.8,334.0h0.6v0.6h-0.6zM189.2,343.8h0.6v0.6h-0.6zM193.5,329.6h0.6v0.6h-0.6zM202.0,335.3h0.6v0.6h-0.6zM189.0,324.9h0.6v0.6h-0.6zM195.7,340.2h0.6v0.6h-0.6zM193.8,323.1h0.6v0.6h-0.6zM190.8,330.8h0.6v0.6h-0.6zM190.3,324.6h0.6v0.6h-0.6zM205.1,332.3h0.6v0.6h-0.6zM200.8,306.9h0.6v0.6h-0.6zM203.7,327.0h0.6v0.6h-0.6zM190.4,333.5h0.6v0.6h-0.6zM193.2,323.0h0.6v0.6h-0.6zM193.7,336.0h0.6v0.6h-0.6zM187.6,323.3h0.6v0.6h-0.6zM195.4,326.9h0.6v0.6h-0.6zM197.4,344.3h0.6v0.6h-0.6zM203.6,345.6h0.6v0.6h-0.6zM202.6,326.4h0.6v0.6h-0.6zM194.4,343.5h0.6v0.6h-0.6zM195.6,323.8h0.6v0.6h-0.6zM190.2,322.1h0.6v0.6h-0.6zM203.7,323.6h0.6v0.6h-0.6zM191.3,322.1h0.6v0.6h-0.6zM201.3,324.2h0.6v0.6h-0.6zM193.1,324.8h0.6v0.6h-0.6zM201.0,339.2h0.6v0.6h-0.6zM197.7,355.4h0.6v0.6h-0.6zM197.3,350.8h0.6v0.6h-0.6zM193.0,337.1h0.6v0.6h-0.6zM190.3,328.3h0.6v0.6h-0.6zM203.3,331.5h0.6v0.6h-0.6zM199.2,336.6h0.6v0.6h-0.6z" fill="#999"/>
<path d="M169.1,312.2h0.6v0.6h-0.6zM170.7,309.2h0.6v0.6h-0.6zM163.2,315.3h0.6v0.6h-0.6zM171.6,345.7h0.6v0.6h-0.6zM157.8,333.4h0.6v0.6h-0.6zM160.8,336.5h0.6v0.6h-0.6zM172.5,345.1h0.6v0.6h-0.6zM193.8,316.6h0.6v0.6h-0.6zM172.9,311.5h0.6v0.6h-0.6zM184.0,310.6h0.6v0.6h-0.6zM162.9,341.1h0.6v0.6h-0.6zM179.5,339.1h0.6v0.6h-0.6zM163.7,315.5h0.6v0.6h-0.6zM161.2,319.2h0.6v0.6h-0.6zM174.4,311.5h0.6v0.6h-0.6zM160.3,335.9h0.6v0.6h-0.6zM177.1,311.2h0.6v0.6h-0.6zM171.1,312.2h0.6v0.6h-0.6zM189.6,326.2h0.6v0.6h-0.6zM177.5,343.1h0.6v0.6h-0.6zM187.8,326.0h0.6v0.6h-0.6zM175.3,343.7h0.6v0.6h-0.6zM179.8,337.4h0.6v0.6h-0.6zM191.1,310.5h0.6v0.6h-0.6zM177.8,342.2h0.6v0.6h-0.6zM177.5,340.8h0.6v0.6h-0.6zM169.0,345.6h0.6v0.6h-0.6zM168.8,310.6h0.6v0.6h-0.6zM183.6,331.2h0.6v0.6h-0.6zM165.7,346.6h0.6v0.6h-0.6zM163.0,315.8h0.6v0.6h-0.6zM183.9,309.1h0.6v0.6h-0.6zM161.8,331.2h0.6v0.6h-0.6zM165.0,344.4h0.6v0.6h-0.6zM161.5,325.6h0.6v0.6h-0.6zM182.2,335.9h0.6v0.6h-0.6zM170.6,310.8h0.6v0.6h-0.6zM184.0,337.5h0.6v0.6h-0.6zM184.4,310.9h0.6v0.6h-0.6zM185.0,308.5h0.6v0.6h-0.6zM167.7,312.7h0.6v0.6h-0.6zM186.9,330.2h0.6v0.6h-0.6zM184.3,309.5h0.6v0.6h-0.6zM160.0,333.3h0.6v0.6h-0.6zM187.6,310.5h0.6v0.6h-0.6zM187.2,308.7h0.6v0.6h-0.6zM161.4,331.7h0.6v0.6h-0.6zM165.5,344.8h0.6v0.6h-0.6zM181.4,304.9h0.6v0.6h-0.6zM166.2,312.0h0.6v0.6h-0.6zM195.0,313.4h0.6v0.6h-0.6zM180.0,337.5h0.6v0.6h-0.6zM193.4,313.9h0.6v0.6h-0.6zM193.5,311.9h0.6v0.6h-0.6zM165.0,346.1h0.6v0.6h-0.6zM172.3,310.3h0.6v0.6h-0.6zM166.1,312.5h0.6v0.6h-0.6zM163.9,345.9h0.6v0.6h-0.6zM164.0,315.3h0.6v0.6h-0.6zM186.7,310.4h0.6v0.6h-0.6zM158.9,336.7h0.6v0.6h-0.6zM184.6,330.3h0.6v0.6h-0.6zM160.7,331.2h0.6v0.6h-0.6zM181.1,336.7h0.6v0.6h-0.6zM162.1,321.5h0.6v0.6h-0.6zM184.3,328.9h0.6v0.6h-0.6zM161.7,331.1h0.6v0.6h-0.6zM165.7,313.7h0.6v0.6h-0.6zM174.2,344.2h0.6v0.6h-0.6zM164.4,311.3h0.6v0.6h-0.6zM176.4,342.5h0.6v0.6h-0.6zM191.4,311.3h0.6v0.6h-0.6zM188.6,325.8h0.6v0.6h-0.6zM162.2,339.4h0.6v0.6h-0.6zM165.6,342.8h0.6v0.6h-0.6zM194.3,310.7h0.6v0.6h-0.6zM173.0,345.5h0.6v0.6h-0.6zM164.2,347.7h0.6v0.6h-0.6zM161.9,335.2h0.6v0.6h-0.6zM162.9,341.7h0.6v0.6h-0.6zM189.3,321.7h0.6v0.6h-0.6zM161.9,317.8h0.6v0.6h-0.6zM177.4,311.7h0.6v0.6h-0.6zM191.4,309.5h0.6v0.6h-0.6zM160.9,326.7h0.6v0.6h-0.6zM163.0,338.9h0.6v0.6h-0.6zM185.9,310.1h0.6v0.6h-0.6zM185.7,327.3h0.6v0.6h-0.6zM183.7,337.4h0.6v0.6h-0.6zM173.6,309.5h0.6v0.6h-0.6zM178.1,341.0h0.6v0.6h-0.6zM159.5,336.9h0.6v0.6h-0.6zM184.1,332.5h0.6v0.6h-0.6zM158.8,333.6h0.6v0.6h-0.6zM187.9,325.8h0.6v0.6h-0.6zM160.5,318.6h0.6v0.6h-0.6zM187.8,327.6h0.6v0.6h-0.6zM183.0,331.6h0.6v0.6h-0.6zM184.2,310.7h0.6v0.6h-0.6zM192.7,310.9h0.6v0.6h-0.6zM163.1,315.2h0.6v0.6h-0.6zM194.1,310.5h0.6v0.6h-0.6zM192.1,316.5h0.6v0.6h-0.6zM165.9,310.4h0.6v0.6h-0.6zM160.1,318.1h0.6v0.6h-0.6zM176.0,342.3h0.6v0.6h-0.6zM191.8,309.9h0.6v0.6h-0.6zM166.2,348.1h0.6v0.6h-0.6zM176.2,341.5h0.6v0.6h-0.6zM166.3,345.8h0.6v0.6h-0.6zM163.2,342.8h0.6v0.6h-0.6zM163.2,314.2h0.6v0.6h-0.6zM161.8,322.7h0.6v0.6h-0.6zM163.4,343.4h0.6v0.6h-0.6zM186.9,325.3h0.6v0.6h-0.6zM161.7,340.8h0.6v0.6h-0.6zM184.4,307.7h0.6v0.6h-0.6zM161.8,319.5h0.6v0.6h-0.6zM161.6,322.7h0.6v0.6h-0.6zM188.1,309.4h0.6v0.6h-0.6zM161.1,331.2h0.6v0.6h-0.6zM169.7,347.3h0.6v0.6h-0.6zM176.6,342.9h0.6v0.6h-0.6zM160.7,323.7h0.6v0.6h-0.6zM160.7,334.6h0.6v0.6h-0.6zM183.4,310.1h0.6v0.6h-0.6zM167.0,312.3h0.6v0.6h-0.6zM170.7,312.1h0.6v0.6h-0.6zM165.3,346.7h0.6v0.6h-0.6zM172.8,311.3h0.6v0.6h-0.6zM183.4,310.0h0.6v0.6h-0.6zM161.7,318.9h0.6v0.6h-0.6zM193.6,312.1h0.6v0.6h-0.6zM159.7,320.7h0.6v0.6h-0.6zM188.8,323.9h0.6v0.6h-0.6zM160.6,330.9h0.6v0.6h-0.6zM169.5,345.4h0.6v0.6h-0.6zM179.1,310.5h0.6v0.6h-0.6zM178.4,308.2h0.6v0.6h-0.6zM165.7,343.9h0.6v0.6h-0.6zM176.5,308.1h0.6v0.6h-0.6zM161.2,336.1h0.6v0.6h-0.6zM168.9,310.5h0.6v0.6h-0.6zM182.0,309.7h0.6v0.6h-0.6zM166.0,347.3h0.6v0.6h-0.6zM161.8,318.3h0.6v0.6h-0.6zM184.4,331.8h0.6v0.6h-0.6zM191.9,317.1h0.6v0.6h-0.6zM180.9,336.9h0.6v0.6h-0.6zM177.9,309.9h0.6v0.6h-0.6zM191.4,308.9h0.6v0.6h-0.6zM190.7,321.1h0.6v0.6h-0.6zM191.5,318.5h0.6v0.6h-0.6zM184.1,336.0h0.6v0.6h-0.6zM174.1,310.3h0.6v0.6h-0.6zM193.6,315.3h0.6v0.6h-0.6zM161.5,327.5h0.6v0.6h-0.6zM185.0,332.5h0.6v0.6h-0.6zM186.5,308.8h0.6v0.6h-0.6zM161.5,339.4h0.6v0.6h-0.6zM187.4,325.8h0.6v0.6h-0.6zM187.8,309.7h0.6v0.6h-0.6zM190.1,321.1h0.6v0.6h-0.6zM192.5,311.7h0.6v0.6h-0.6zM190.8,311.5h0.6v0.6h-0.6zM176.8,342.1h0.6v0.6h-0.6zM192.9,315.5h0.6v0.6h-0.6zM161.4,339.9h0.6v0.6h-0.6zM161.8,329.1h0.6v0.6h-0.6zM188.5,310.4h0.6v0.6h-0.6zM168.0,346.4h0.6v0.6h-0.6zM161.0,330.1h0.6v0.6h-0.6zM162.0,318.2h0.6v0.6h-0.6zM174.5,310.0h0.6v0.6h-0.6zM181.8,336.6h0.6v0.6h-0.6zM178.7,311.4h0.6v0.6h-0.6zM172.3,311.7h0.6v0.6h-0.6zM186.4,308.8h0.6v0.6h-0.6zM161.1,337.6h0.6v0.6h-0.6zM186.2,329.1h0.6v0.6h-0.6zM162.9,340.3h0.6v0.6h-0.6zM159.4,322.9h0.6v0.6h-0.6zM177.7,341.1h0.6v0.6h-0.6zM180.3,337.7h0.6v0.6h-0.6zM161.9,327.7h0.6v0.6h-0.6zM161.1,342.2h0.6v0.6h-0.6zM161.2,315.9h0.6v0.6h-0.6zM192.2,316.4h0.6v0.6h-0.6zM169.3,344.6h0.6v0.6h-0.6zM166.0,345.6h0.6v0.6h-0.6zM160.5,335.2h0.6v0.6h-0.6zM181.5,338.3h0.6v0.6h-0.6zM161.4,340.9h0.6v0.6h-0.6zM174.1,346.3h0.6v0.6h-0.6zM160.6,321.4h0.6v0.6h-0.6zM187.5,310.0h0.6v0.6h-0.6zM183.6,311.0h0.6v0.6h-0.6zM161.4,316.5h0.6v0.6h-0.6zM165.7,344.6h0.6v0.6h-0.6zM159.4,326.7h0.6v0.6h-0.6zM171.0,311.4h0.6v0.6h-0.6zM168.8,312.6h0.6v0.6h-0.6zM160.9,324.7h0.6v0.6h-0.6zM164.0,315.9h0.6v0.6h-0.6zM178.5,339.4h0.6v0.6h-0.6zM162.2,339.8h0.6v0.6h-0.6zM161.0,331.8h0.6v0.6h-0.6zM189.0,310.0h0.6v0.6h-0.6zM161.2,329.8h0.6v0.6h-0.6zM172.7,309.3h0.6v0.6h-0.6zM189.3,327.4h0.6v0.6h-0.6zM187.1,310.4h0.6v0.6h-0.6zM159.8,323.2h0.6v0.6h-0.6zM165.3,344.0h0.6v0.6h-0.6zM161.5,336.8h0.6v0.6h-0.6zM181.2,337.6h0.6v0.6h-0.6zM190.8,310.3h0.6v0.6h-0.6zM160.5,322.7h0.6v0.6h-0.6zM161.8,332.2h0.6v0.6h-0.6zM163.1,343.4h0.6v0.6h-0.6zM189.8,324.3h0.6v0.6h-0.6zM163.9,310.0h0.6v0.6h-0.6zM174.1,344.9h0.6v0.6h-0.6zM168.8,313.3h0.6v0.6h-0.6zM177.0,343.4h0.6v0.6h-0.6zM192.7,315.3h0.6v0.6h-0.6zM191.7,310.8h0.6v0.6h-0.6zM168.7,311.5h0.6v0.6h-0.6zM162.2,318.9h0.6v0.6h-0.6zM164.5,314.6h0.6v0.6h-0.6zM175.7,308.4h0.6v0.6h-0.6zM185.9,309.1h0.6v0.6h-0.6zM180.1,339.7h0.6v0.6h-0.6zM187.8,310.1h0.6v0.6h-0.6zM193.6,312.2h0.6v0.6h-0.6zM184.5,337.0h0.6v0.6h-0.6zM175.5,342.8h0.6v0.6h-0.6zM160.9,327.6h0.6v0.6h-0.6zM167.8,344.3h0.6v0.6h-0.6zM192.9,318.9h0.6v0.6h-0.6zM161.8,336.4h0.6v0.6h-0.6zM161.1,337.0h0.6v0.6h-0.6zM165.6,345.7h0.6v0.6h-0.6zM160.8,321.7h0.6v0.6h-0.6zM192.3,318.7h0.6v0.6h-0.6zM169.7,345.3h0.6v0.6h-0.6zM159.4,324.6h0.6v0.6h-0.6zM159.2,335.3h0.6v0.6h-0.6zM185.6,330.3h0.6v0.6h-0.6zM185.9,330.2h0.6v0.6h-0.6zM164.5,314.0h0.6v0.6h-0.6zM180.2,339.6h0.6v0.6h-0.6zM167.1,312.5h0.6v0.6h-0.6zM171.7,309.6h0.6v0.6h-0.6zM169.0,348.1h0.6v0.6h-0.6zM184.2,334.2h0.6v0.6h-0.6zM193.2,316.1h0.6v0.6h-0.6zM158.4,322.7h0.6v0.6h-0.6zM192.3,317.8h0.6v0.6h-0.6zM171.9,347.9h0.6v0.6h-0.6zM192.9,319.3h0.6v0.6h-0.6zM172.3,345.7h0.6v0.6h-0.6zM190.1,322.4h0.6v0.6h-0.6zM165.7,312.6h0.6v0.6h-0.6zM190.5,310.2h0.6v0.6h-0.6zM162.3,339.0h0.6v0.6h-0.6zM181.9,333.3h0.6v0.6h-0.6zM162.4,319.7h0.6v0.6h-0.6zM166.3,313.4h0.6v0.6h-0.6zM164.6,343.5h0.6v0.6h-0.6zM194.0,310.8h0.6v0.6h-0.6zM169.2,310.5h0.6v0.6h-0.6zM160.2,320.4h0.6v0.6h-0.6zM162.5,341.1h0.6v0.6h-0.6zM193.6,313.4h0.6v0.6h-0.6zM188.8,324.4h0.6v0.6h-0.6zM181.7,336.5h0.6v0.6h-0.6zM193.3,314.0h0.6v0.6h-0.6zM171.1,345.7h0.6v0.6h-0.6zM162.6,317.3h0.6v0.6h-0.6zM164.7,312.8h0.6v0.6h-0.6zM160.5,334.3h0.6v0.6h-0.6zM164.9,343.3h0.6v0.6h-0.6zM162.3,321.9h0.6v0.6h-0.6zM161.5,334.0h0.6v0.6h-0.6zM160.3,316.5h0.6v0.6h-0.6zM170.5,344.5h0.6v0.6h-0.6zM194.4,310.4h0.6v0.6h-0.6zM171.6,347.2h0.6v0.6h-0.6zM192.7,311.4h0.6v0.6h-0.6zM193.1,316.3h0.6v0.6h-0.6zM176.1,310.7h0.6v0.6h-0.6zM190.3,310.4h0.6v0.6h-0.6zM160.8,334.6h0.6v0.6h-0.6zM190.0,321.7h0.6v0.6h-0.6zM170.3,312.2h0.6v0.6h-0.6zM164.1,317.7h0.6v0.6h-0.6zM162.0,334.9h0.6v0.6h-0.6zM165.2,311.3h0.6v0.6h-0.6zM190.8,320.5h0.6v0.6h-0.6zM161.7,333.0h0.6v0.6h-0.6zM183.5,332.5h0.6v0.6h-0.6zM188.7,326.5h0.6v0.6h-0.6zM188.4,327.4h0.6v0.6h-0.6zM160.8,324.9h0.6v0.6h-0.6zM172.4,310.1h0.6v0.6h-0.6zM162.9,323.9h0.6v0.6h-0.6zM170.2,311.3h0.6v0.6h-0.6zM160.6,323.4h0.6v0.6h-0.6zM163.0,317.6h0.6v0.6h-0.6zM176.3,345.5h0.6v0.6h-0.6zM170.4,312.1h0.6v0.6h-0.6zM187.8,327.5h0.6v0.6h-0.6zM166.9,311.9h0.6v0.6h-0.6zM187.0,325.2h0.6v0.6h-0.6zM192.1,317.8h0.6v0.6h-0.6zM173.8,346.3h0.6v0.6h-0.6zM172.4,311.5h0.6v0.6h-0.6zM182.7,332.5h0.6v0.6h-0.6zM161.3,336.3h0.6v0.6h-0.6z" fill="#6a6a6a"/>
<path d="M162.00,320.00 C162.67,317.58 163.83,314.95 165.50,313.50 C167.17,312.05 169.25,311.78 172.00,311.30 C174.75,310.82 179.00,310.78 182.00,310.60 C185.00,310.42 188.07,309.97 190.00,310.20 C191.93,310.43 193.52,310.37 193.60,312.00 C193.68,313.63 192.02,317.00 190.50,320.00 C188.98,323.00 186.58,326.67 184.50,330.00 C182.42,333.33 180.08,337.47 178.00,340.00 C175.92,342.53 174.00,344.48 172.00,345.20 C170.00,345.92 167.67,345.42 166.00,344.30 C164.33,343.18 162.75,341.22 162.00,338.50 C161.25,335.78 161.50,331.08 161.50,328.00 C161.50,324.92 161.33,322.42 162.00,320.00Z" stroke="#888" stroke-width="0.5" fill="rgb(222,222,222)"/>
<path d="M163.15,321.22 C163.73,319.13 164.73,316.85 166.18,315.59 C167.62,314.34 169.42,314.11 171.80,313.69 C174.18,313.27 177.85,313.25 180.45,313.09 C183.04,312.93 185.69,312.54 187.36,312.74 C189.04,312.94 190.41,312.88 190.48,314.30 C190.55,315.71 189.11,318.62 187.80,321.22 C186.49,323.81 184.41,326.98 182.61,329.86 C180.81,332.75 178.79,336.32 176.99,338.51 C175.18,340.70 173.53,342.39 171.80,343.01 C170.07,343.63 168.05,343.20 166.61,342.23 C165.17,341.27 163.80,339.57 163.15,337.22 C162.50,334.87 162.72,330.80 162.72,328.14 C162.72,325.47 162.57,323.31 163.15,321.22Z" stroke="#7a7a7a" stroke-width="0.35" fill="rgb(212,212,212)"/>
<path d="M164.30,322.43 C164.78,320.67 165.64,318.75 166.85,317.69 C168.07,316.63 169.59,316.44 171.59,316.08 C173.60,315.73 176.70,315.71 178.89,315.57 C181.08,315.44 183.32,315.11 184.73,315.28 C186.14,315.45 187.30,315.40 187.36,316.59 C187.42,317.79 186.20,320.24 185.09,322.43 C183.99,324.62 182.24,327.30 180.72,329.73 C179.20,332.16 177.49,335.18 175.97,337.03 C174.45,338.88 173.05,340.30 171.59,340.82 C170.14,341.34 168.43,340.98 167.22,340.16 C166.00,339.35 164.84,337.91 164.30,335.93 C163.75,333.95 163.93,330.52 163.93,328.27 C163.93,326.02 163.81,324.20 164.30,322.43Z" stroke="#7a7a7a" stroke-width="0.35" fill="rgb(203,203,203)"/>
<path d="M165.45,323.65 C165.84,322.21 166.54,320.65 167.53,319.78 C168.52,318.92 169.76,318.76 171.39,318.48 C173.03,318.19 175.55,318.17 177.34,318.06 C179.12,317.95 180.95,317.68 182.09,317.82 C183.24,317.96 184.19,317.92 184.24,318.89 C184.28,319.86 183.29,321.86 182.39,323.65 C181.49,325.43 180.06,327.61 178.82,329.59 C177.59,331.58 176.20,334.03 174.96,335.54 C173.72,337.05 172.58,338.21 171.39,338.63 C170.20,339.06 168.82,338.76 167.82,338.10 C166.83,337.43 165.89,336.26 165.45,334.65 C165.00,333.03 165.15,330.24 165.15,328.41 C165.15,326.57 165.05,325.09 165.45,323.65Z" stroke="#7a7a7a" stroke-width="0.35" fill="rgb(193,193,193)"/>
<path d="M166.59,324.86 C166.90,323.75 167.44,322.54 168.20,321.88 C168.97,321.21 169.93,321.09 171.19,320.87 C172.45,320.65 174.41,320.63 175.78,320.55 C177.16,320.46 178.57,320.25 179.46,320.36 C180.35,320.47 181.08,320.44 181.11,321.19 C181.15,321.94 180.39,323.49 179.69,324.86 C178.99,326.24 177.89,327.93 176.93,329.46 C175.98,330.99 174.90,332.89 173.95,334.05 C172.99,335.22 172.11,336.11 171.19,336.44 C170.27,336.77 169.20,336.54 168.43,336.03 C167.67,335.52 166.94,334.61 166.59,333.36 C166.25,332.12 166.36,329.96 166.36,328.54 C166.36,327.12 166.29,325.98 166.59,324.86Z" stroke="#7a7a7a" stroke-width="0.35" fill="rgb(184,184,184)"/>
<path d="M167.74,326.08 C167.96,325.30 168.34,324.44 168.88,323.97 C169.42,323.50 170.09,323.42 170.99,323.26 C171.88,323.10 173.26,323.09 174.23,323.03 C175.20,322.97 176.20,322.83 176.82,322.90 C177.45,322.98 177.96,322.96 177.99,323.49 C178.02,324.02 177.48,325.11 176.99,326.08 C176.49,327.05 175.72,328.24 175.04,329.32 C174.36,330.41 173.61,331.75 172.93,332.57 C172.26,333.39 171.64,334.02 170.99,334.25 C170.34,334.49 169.58,334.32 169.04,333.96 C168.50,333.60 167.99,332.96 167.74,332.08 C167.50,331.20 167.58,329.68 167.58,328.68 C167.58,327.68 167.53,326.86 167.74,326.08Z" stroke="#7a7a7a" stroke-width="0.35" fill="rgb(174,174,174)"/>
<path d="M168.89,327.30 C169.02,326.84 169.24,326.34 169.55,326.07 C169.87,325.79 170.26,325.74 170.78,325.65 C171.30,325.56 172.11,325.55 172.68,325.52 C173.24,325.48 173.82,325.40 174.19,325.44 C174.55,325.49 174.85,325.47 174.87,325.78 C174.89,326.09 174.57,326.73 174.28,327.30 C174.00,327.86 173.54,328.56 173.15,329.19 C172.75,329.82 172.31,330.60 171.92,331.08 C171.52,331.56 171.16,331.93 170.78,332.06 C170.41,332.20 169.96,332.11 169.65,331.89 C169.33,331.68 169.03,331.31 168.89,330.80 C168.75,330.28 168.80,329.39 168.80,328.81 C168.80,328.23 168.77,327.75 168.89,327.30Z" stroke="#7a7a7a" stroke-width="0.35" fill="rgb(165,165,165)"/>
<ellipse cx="171.5" cy="325.5" rx="1.8" ry="1.26" fill="#f4f4f4"/>
<line x1="47.50" y1="291.60" x2="47.50" y2="356.90" stroke="#555" stroke-width="0.9"/>
<line x1="24.40" y1="328.40" x2="91.00" y2="328.40" stroke="#555" stroke-width="0.9"/>
<line x1="113.40" y1="291.60" x2="113.40" y2="356.90" stroke="#555" stroke-width="0.9"/>
<line x1="90.80" y1="328.40" x2="157.40" y2="328.40" stroke="#555" stroke-width="0.9"/>
<line x1="179.60" y1="291.60" x2="179.60" y2="356.90" stroke="#555" stroke-width="0.9"/>
<line x1="156.10" y1="328.40" x2="222.70" y2="328.40" stroke="#555" stroke-width="0.9"/>
<text x="24.85" y="299.70" font-size="8.1" fill="#222" stroke="#222" stroke-width="0.1" textLength="10.36" lengthAdjust="spacingAndGlyphs">8.9</text>
<text x="77.05" y="299.70" font-size="8.1" fill="#222" stroke="#222" stroke-width="0.1" textLength="10.36" lengthAdjust="spacingAndGlyphs">4.1</text>
<text x="24.75" y="356.95" font-size="8.1" fill="#222" stroke="#222" stroke-width="0.1" textLength="14.5" lengthAdjust="spacingAndGlyphs">80.5</text>
<text x="78.45" y="356.95" font-size="8.1" fill="#222" stroke="#222" stroke-width="0.1" textLength="10.36" lengthAdjust="spacingAndGlyphs">6.5</text>
<text x="91.45" y="299.70" font-size="8.1" fill="#222" stroke="#222" stroke-width="0.1" textLength="14.5" lengthAdjust="spacingAndGlyphs">27.1</text>
<text x="138.65" y="299.70" font-size="8.1" fill="#222" stroke="#222" stroke-width="0.1" textLength="14.5" lengthAdjust="spacingAndGlyphs">42.8</text>
<text x="91.35" y="356.95" font-size="8.1" fill="#222" stroke="#222" stroke-width="0.1" textLength="14.5" lengthAdjust="spacingAndGlyphs">23.5</text>
<text x="144.55" y="356.95" font-size="8.1" fill="#222" stroke="#222" stroke-width="0.1" textLength="10.36" lengthAdjust="spacingAndGlyphs">6.5</text>
<text x="157.35" y="299.70" font-size="8.1" fill="#222" stroke="#222" stroke-width="0.1" textLength="8.29" lengthAdjust="spacingAndGlyphs">37</text>
<text x="207.75" y="299.70" font-size="8.1" fill="#222" stroke="#222" stroke-width="0.1" textLength="14.5" lengthAdjust="spacingAndGlyphs">15.1</text>
<text x="156.95" y="356.95" font-size="8.1" fill="#222" stroke="#222" stroke-width="0.1" textLength="14.5" lengthAdjust="spacingAndGlyphs">43.1</text>
<text x="207.95" y="356.95" font-size="8.1" fill="#222" stroke="#222" stroke-width="0.1" textLength="10.36" lengthAdjust="spacingAndGlyphs">4.8</text>
<line x1="20.80" y1="340.70" x2="20.80" y2="360.70" stroke="#111" stroke-width="1.0"/>
<line x1="20.30" y1="360.70" x2="41.70" y2="360.70" stroke="#111" stroke-width="1.0"/>
<path d="M18.40,342.20 L20.80,337.20 L23.20,342.20Z" stroke="none" stroke-width="1" fill="#111"/>
<path d="M40.20,358.30 L45.20,360.70 L40.20,363.10Z" stroke="none" stroke-width="1" fill="#111"/>
<text x="11.95" y="354.89" font-size="9.9" text-anchor="middle" stroke="#111" stroke-width="0.1" textLength="15.1" lengthAdjust="spacingAndGlyphs" transform="rotate(-90 11.95 351.35)">PD-1</text>
<text x="23.60" y="372.18" font-size="9.3" stroke="#111" stroke-width="0.1" textLength="19.4" lengthAdjust="spacingAndGlyphs">CD39</text>
<line x1="264.00" y1="203.60" x2="264.00" y2="299.40" stroke="#111" stroke-width="1.3"/>
<line x1="260.90" y1="299.00" x2="264.00" y2="299.00" stroke="#111" stroke-width="1.1"/>
<text x="257.40" y="302.01" font-size="8.4" text-anchor="end" stroke="#111" stroke-width="0.1">0</text>
<line x1="260.90" y1="275.40" x2="264.00" y2="275.40" stroke="#111" stroke-width="1.1"/>
<text x="257.40" y="278.41" font-size="8.4" text-anchor="end" stroke="#111" stroke-width="0.1">10</text>
<line x1="260.90" y1="251.80" x2="264.00" y2="251.80" stroke="#111" stroke-width="1.1"/>
<text x="257.40" y="254.81" font-size="8.4" text-anchor="end" stroke="#111" stroke-width="0.1">20</text>
<line x1="260.90" y1="228.20" x2="264.00" y2="228.20" stroke="#111" stroke-width="1.1"/>
<text x="257.40" y="231.21" font-size="8.4" text-anchor="end" stroke="#111" stroke-width="0.1">30</text>
<line x1="260.90" y1="204.60" x2="264.00" y2="204.60" stroke="#111" stroke-width="1.1"/>
<text x="257.40" y="207.61" font-size="8.4" text-anchor="end" stroke="#111" stroke-width="0.1">40</text>
<line x1="263.40" y1="299.00" x2="341.80" y2="299.00" stroke="#111" stroke-width="1.4"/>
<rect x="267.70" y="279.50" width="6.30" height="19.50" fill="#4b2466"/>
<line x1="270.85" y1="272.90" x2="270.85" y2="279.50" stroke="#4b2466" stroke-width="1.0"/>
<line x1="269.25" y1="272.90" x2="272.45" y2="272.90" stroke="#4b2466" stroke-width="1.0"/>
<rect x="295.10" y="241.10" width="6.30" height="57.90" fill="#4b2466"/>
<line x1="298.25" y1="231.30" x2="298.25" y2="241.10" stroke="#4b2466" stroke-width="1.0"/>
<line x1="296.65" y1="231.30" x2="299.85" y2="231.30" stroke="#4b2466" stroke-width="1.0"/>
<rect x="322.50" y="239.10" width="6.30" height="59.90" fill="#4b2466"/>
<line x1="325.65" y1="234.00" x2="325.65" y2="239.10" stroke="#4b2466" stroke-width="1.0"/>
<line x1="324.05" y1="234.00" x2="327.25" y2="234.00" stroke="#4b2466" stroke-width="1.0"/>
<rect x="277.80" y="287.30" width="6.30" height="11.70" fill="#e8951f"/>
<line x1="280.95" y1="285.30" x2="280.95" y2="287.30" stroke="#e8951f" stroke-width="1.0"/>
<line x1="279.35" y1="285.30" x2="282.55" y2="285.30" stroke="#e8951f" stroke-width="1.0"/>
<rect x="305.20" y="294.50" width="6.30" height="4.50" fill="#e8951f"/>
<line x1="308.35" y1="292.50" x2="308.35" y2="294.50" stroke="#e8951f" stroke-width="1.0"/>
<line x1="306.75" y1="292.50" x2="309.95" y2="292.50" stroke="#e8951f" stroke-width="1.0"/>
<rect x="332.60" y="289.00" width="6.40" height="10.00" fill="#e8951f"/>
<line x1="335.80" y1="287.30" x2="335.80" y2="289.00" stroke="#e8951f" stroke-width="1.0"/>
<line x1="334.20" y1="287.30" x2="337.40" y2="287.30" stroke="#e8951f" stroke-width="1.0"/>
<line x1="276.00" y1="299.00" x2="276.00" y2="301.60" stroke="#111" stroke-width="1.0"/>
<line x1="302.70" y1="299.00" x2="302.70" y2="301.60" stroke="#111" stroke-width="1.0"/>
<line x1="330.40" y1="299.00" x2="330.40" y2="301.60" stroke="#111" stroke-width="1.0"/>
<text x="275.90" y="312.46" font-size="8.0" text-anchor="middle" stroke="#111" stroke-width="0.1" textLength="12.8" lengthAdjust="spacingAndGlyphs">WT</text>
<text x="303.20" y="312.46" font-size="8.0" text-anchor="middle" stroke="#111" stroke-width="0.1" textLength="23.0" lengthAdjust="spacingAndGlyphs">Prf1-/-</text>
<text x="330.15" y="312.46" font-size="8.0" text-anchor="middle" stroke="#111" stroke-width="0.1" textLength="21.4" lengthAdjust="spacingAndGlyphs">Il18tg</text>
<line x1="272.60" y1="204.50" x2="318.00" y2="204.50" stroke="#111" stroke-width="1.1"/>
<text x="275.65" y="206.44" font-size="8.5" fill="#111" textLength="13.90" lengthAdjust="spacingAndGlyphs">****</text>
<line x1="272.60" y1="210.20" x2="297.30" y2="210.20" stroke="#111" stroke-width="1.1"/>
<text x="275.65" y="212.65" font-size="8.5" fill="#111" textLength="13.90" lengthAdjust="spacingAndGlyphs">****</text>
<rect x="314.00" y="208.60" width="6.00" height="6.30" fill="#4b2466"/>
<text x="323.60" y="214.33" font-size="6.8" stroke="#111" stroke-width="0.1" textLength="20.6" lengthAdjust="spacingAndGlyphs">IFN&#947;+</text>
<rect x="314.00" y="219.30" width="6.00" height="6.60" fill="#e8951f"/>
<text x="323.60" y="224.93" font-size="6.8" stroke="#111" stroke-width="0.1" textLength="45.0" lengthAdjust="spacingAndGlyphs">TNF&#945;+IFN&#947;+</text>
<text x="239.50" y="253.93" font-size="10.0" text-anchor="middle" stroke="#111" stroke-width="0.1" textLength="56.3" lengthAdjust="spacingAndGlyphs" transform="rotate(-90 239.50 250.35)">% of CD8+ cells</text>
<line x1="407.60" y1="205.80" x2="407.60" y2="298.90" stroke="#111" stroke-width="1.3"/>
<line x1="403.40" y1="298.50" x2="407.60" y2="298.50" stroke="#111" stroke-width="1.1"/>
<text x="401.60" y="301.51" font-size="8.4" text-anchor="end" stroke="#111" stroke-width="0.1">0</text>
<line x1="403.40" y1="280.43" x2="407.60" y2="280.43" stroke="#111" stroke-width="1.1"/>
<text x="401.60" y="283.44" font-size="8.4" text-anchor="end" stroke="#111" stroke-width="0.1">10</text>
<line x1="403.40" y1="262.36" x2="407.60" y2="262.36" stroke="#111" stroke-width="1.1"/>
<text x="401.60" y="265.37" font-size="8.4" text-anchor="end" stroke="#111" stroke-width="0.1">20</text>
<line x1="403.40" y1="244.29" x2="407.60" y2="244.29" stroke="#111" stroke-width="1.1"/>
<text x="401.60" y="247.30" font-size="8.4" text-anchor="end" stroke="#111" stroke-width="0.1">30</text>
<line x1="403.40" y1="226.22" x2="407.60" y2="226.22" stroke="#111" stroke-width="1.1"/>
<text x="401.60" y="229.23" font-size="8.4" text-anchor="end" stroke="#111" stroke-width="0.1">40</text>
<line x1="403.40" y1="208.15" x2="407.60" y2="208.15" stroke="#111" stroke-width="1.1"/>
<text x="401.60" y="211.16" font-size="8.4" text-anchor="end" stroke="#111" stroke-width="0.1">50</text>
<line x1="407.00" y1="298.50" x2="512.30" y2="298.50" stroke="#111" stroke-width="1.4"/>
<rect x="411.80" y="285.80" width="6.30" height="12.70" fill="#2c6647"/>
<line x1="414.95" y1="283.40" x2="414.95" y2="285.80" stroke="#2c6647" stroke-width="1.0"/>
<line x1="413.35" y1="283.40" x2="416.55" y2="283.40" stroke="#2c6647" stroke-width="1.0"/>
<line x1="414.95" y1="298.50" x2="414.95" y2="301.20" stroke="#111" stroke-width="1.0"/>
<rect x="421.40" y="286.30" width="6.30" height="12.20" fill="#2c6647"/>
<line x1="424.55" y1="285.60" x2="424.55" y2="286.30" stroke="#2c6647" stroke-width="1.0"/>
<line x1="422.95" y1="285.60" x2="426.15" y2="285.60" stroke="#2c6647" stroke-width="1.0"/>
<line x1="424.55" y1="298.50" x2="424.55" y2="301.20" stroke="#111" stroke-width="1.0"/>
<rect x="431.10" y="285.50" width="6.50" height="13.00" fill="#2c6647"/>
<line x1="434.35" y1="280.30" x2="434.35" y2="285.50" stroke="#2c6647" stroke-width="1.0"/>
<line x1="432.75" y1="280.30" x2="435.95" y2="280.30" stroke="#2c6647" stroke-width="1.0"/>
<line x1="434.35" y1="298.50" x2="434.35" y2="301.20" stroke="#111" stroke-width="1.0"/>
<rect x="447.40" y="280.10" width="6.50" height="18.40" fill="#8a7cc2"/>
<line x1="450.65" y1="277.70" x2="450.65" y2="280.10" stroke="#8a7cc2" stroke-width="1.0"/>
<line x1="449.05" y1="277.70" x2="452.25" y2="277.70" stroke="#8a7cc2" stroke-width="1.0"/>
<line x1="450.65" y1="298.50" x2="450.65" y2="301.20" stroke="#111" stroke-width="1.0"/>
<rect x="457.50" y="250.20" width="6.30" height="48.30" fill="#8a7cc2"/>
<line x1="460.65" y1="246.90" x2="460.65" y2="250.20" stroke="#8a7cc2" stroke-width="1.0"/>
<line x1="459.05" y1="246.90" x2="462.25" y2="246.90" stroke="#8a7cc2" stroke-width="1.0"/>
<line x1="460.65" y1="298.50" x2="460.65" y2="301.20" stroke="#111" stroke-width="1.0"/>
<rect x="467.10" y="244.70" width="6.60" height="53.80" fill="#8a7cc2"/>
<line x1="470.40" y1="235.70" x2="470.40" y2="244.70" stroke="#8a7cc2" stroke-width="1.0"/>
<line x1="468.80" y1="235.70" x2="472.00" y2="235.70" stroke="#8a7cc2" stroke-width="1.0"/>
<line x1="470.40" y1="298.50" x2="470.40" y2="301.20" stroke="#111" stroke-width="1.0"/>
<rect x="483.30" y="290.40" width="6.60" height="8.10" fill="#5ea7e2"/>
<line x1="486.60" y1="287.50" x2="486.60" y2="290.40" stroke="#5ea7e2" stroke-width="1.0"/>
<line x1="485.00" y1="287.50" x2="488.20" y2="287.50" stroke="#5ea7e2" stroke-width="1.0"/>
<line x1="486.60" y1="298.50" x2="486.60" y2="301.20" stroke="#111" stroke-width="1.0"/>
<rect x="493.60" y="227.60" width="6.40" height="70.90" fill="#5ea7e2"/>
<line x1="496.80" y1="222.60" x2="496.80" y2="227.60" stroke="#5ea7e2" stroke-width="1.0"/>
<line x1="495.20" y1="222.60" x2="498.40" y2="222.60" stroke="#5ea7e2" stroke-width="1.0"/>
<line x1="496.80" y1="298.50" x2="496.80" y2="301.20" stroke="#111" stroke-width="1.0"/>
<rect x="503.60" y="265.30" width="6.40" height="33.20" fill="#5ea7e2"/>
<line x1="506.80" y1="262.40" x2="506.80" y2="265.30" stroke="#5ea7e2" stroke-width="1.0"/>
<line x1="505.20" y1="262.40" x2="508.40" y2="262.40" stroke="#5ea7e2" stroke-width="1.0"/>
<line x1="506.80" y1="298.50" x2="506.80" y2="301.20" stroke="#111" stroke-width="1.0"/>
<rect x="415.10" y="204.30" width="6.90" height="3.40" fill="#2c6647"/>
<text x="425.20" y="208.51" font-size="7.0" stroke="#111" stroke-width="0.1" textLength="23.8" lengthAdjust="spacingAndGlyphs">CD39+</text>
<rect x="415.10" y="212.60" width="6.90" height="3.40" fill="#8a7cc2"/>
<text x="425.20" y="216.81" font-size="7.0" stroke="#111" stroke-width="0.1" textLength="18.8" lengthAdjust="spacingAndGlyphs">PD1+</text>
<rect x="415.10" y="221.10" width="6.90" height="3.40" fill="#5ea7e2"/>
<text x="425.20" y="225.31" font-size="7.0" stroke="#111" stroke-width="0.1" textLength="43.3" lengthAdjust="spacingAndGlyphs">CD39+PD1+</text>
<text x="383.10" y="258.23" font-size="10.0" text-anchor="middle" stroke="#111" stroke-width="0.1" textLength="56.0" lengthAdjust="spacingAndGlyphs" transform="rotate(-90 383.10 254.65)">% of CD8+ cells</text>
<line x1="450.50" y1="239.80" x2="450.50" y2="271.20" stroke="#111" stroke-width="1.0"/>
<line x1="450.50" y1="239.80" x2="461.20" y2="239.80" stroke="#111" stroke-width="1.0"/>
<line x1="461.20" y1="239.80" x2="461.20" y2="244.90" stroke="#111" stroke-width="1.0"/>
<text x="451.15" y="241.76" font-size="8.0" fill="#111" textLength="9.70" lengthAdjust="spacingAndGlyphs">***</text>
<line x1="451.00" y1="232.40" x2="473.50" y2="232.40" stroke="#111" stroke-width="1.0"/>
<text x="456.05" y="233.76" font-size="8.0" fill="#111" textLength="13.30" lengthAdjust="spacingAndGlyphs">****</text>
<line x1="485.10" y1="214.50" x2="507.60" y2="214.50" stroke="#111" stroke-width="1.0"/>
<text x="486.15" y="214.96" font-size="8.0" fill="#111" textLength="7.00" lengthAdjust="spacingAndGlyphs">**</text>
<line x1="486.50" y1="219.90" x2="495.50" y2="219.90" stroke="#111" stroke-width="1.0"/>
<line x1="486.50" y1="219.90" x2="486.50" y2="286.00" stroke="#111" stroke-width="1.0"/>
<line x1="495.50" y1="219.90" x2="495.50" y2="221.90" stroke="#111" stroke-width="1.0"/>
<line x1="497.60" y1="219.90" x2="506.60" y2="219.90" stroke="#111" stroke-width="1.0"/>
<line x1="497.60" y1="219.90" x2="497.60" y2="221.90" stroke="#111" stroke-width="1.0"/>
<line x1="506.60" y1="219.90" x2="506.60" y2="252.70" stroke="#111" stroke-width="1.0"/>
<text x="483.05" y="221.86" font-size="8.0" fill="#111" textLength="27.60" lengthAdjust="spacingAndGlyphs">********</text>
<text x="418.90" y="309.40" font-size="7.9" text-anchor="end" textLength="13.51" lengthAdjust="spacingAndGlyphs" transform="rotate(-45 418.90 309.40)">WT</text>
<text x="428.60" y="309.40" font-size="7.9" text-anchor="end" textLength="24.14" lengthAdjust="spacingAndGlyphs" transform="rotate(-45 428.60 309.40)">Prf1-/-</text>
<text x="438.30" y="309.40" font-size="7.9" text-anchor="end" textLength="21.26" lengthAdjust="spacingAndGlyphs" transform="rotate(-45 438.30 309.40)">Il18tg</text>
<text x="454.50" y="309.40" font-size="7.9" text-anchor="end" textLength="13.51" lengthAdjust="spacingAndGlyphs" transform="rotate(-45 454.50 309.40)">WT</text>
<text x="464.20" y="309.40" font-size="7.9" text-anchor="end" textLength="24.14" lengthAdjust="spacingAndGlyphs" transform="rotate(-45 464.20 309.40)">Prf1-/-</text>
<text x="473.90" y="309.40" font-size="7.9" text-anchor="end" textLength="21.26" lengthAdjust="spacingAndGlyphs" transform="rotate(-45 473.90 309.40)">Il18tg</text>
<text x="490.60" y="309.40" font-size="7.9" text-anchor="end" textLength="13.51" lengthAdjust="spacingAndGlyphs" transform="rotate(-45 490.60 309.40)">WT</text>
<text x="500.30" y="309.40" font-size="7.9" text-anchor="end" textLength="24.14" lengthAdjust="spacingAndGlyphs" transform="rotate(-45 500.30 309.40)">Prf1-/-</text>
<text x="510.00" y="309.40" font-size="7.9" text-anchor="end" textLength="21.26" lengthAdjust="spacingAndGlyphs" transform="rotate(-45 510.00 309.40)">Il18tg</text>
<text x="7.60" y="405.75" font-size="12.0" stroke="#111" stroke-width="0.1" font-weight="bold">D</text>
<text x="21.90" y="404.67" font-size="9.4" stroke="#111" stroke-width="0.1">(i)</text>
<line x1="34.20" y1="414.30" x2="34.20" y2="565.50" stroke="#111" stroke-width="1.2"/>
<line x1="31.90" y1="417.18" x2="34.20" y2="417.18" stroke="#111" stroke-width="1.1"/>
<line x1="32.90" y1="421.89" x2="34.20" y2="421.89" stroke="#111" stroke-width="1.0"/>
<line x1="32.90" y1="426.59" x2="34.20" y2="426.59" stroke="#111" stroke-width="1.0"/>
<line x1="32.90" y1="431.30" x2="34.20" y2="431.30" stroke="#111" stroke-width="1.0"/>
<line x1="32.90" y1="436.01" x2="34.20" y2="436.01" stroke="#111" stroke-width="1.0"/>
<line x1="32.90" y1="440.71" x2="34.20" y2="440.71" stroke="#111" stroke-width="1.0"/>
<line x1="32.90" y1="445.42" x2="34.20" y2="445.42" stroke="#111" stroke-width="1.0"/>
<line x1="32.90" y1="450.13" x2="34.20" y2="450.13" stroke="#111" stroke-width="1.0"/>
<line x1="32.90" y1="454.83" x2="34.20" y2="454.83" stroke="#111" stroke-width="1.0"/>
<line x1="31.90" y1="459.54" x2="34.20" y2="459.54" stroke="#111" stroke-width="1.1"/>
<line x1="32.90" y1="464.25" x2="34.20" y2="464.25" stroke="#111" stroke-width="1.0"/>
<line x1="32.90" y1="468.95" x2="34.20" y2="468.95" stroke="#111" stroke-width="1.0"/>
<line x1="32.90" y1="473.66" x2="34.20" y2="473.66" stroke="#111" stroke-width="1.0"/>
<line x1="32.90" y1="478.37" x2="34.20" y2="478.37" stroke="#111" stroke-width="1.0"/>
<line x1="32.90" y1="483.07" x2="34.20" y2="483.07" stroke="#111" stroke-width="1.0"/>
<line x1="32.90" y1="487.78" x2="34.20" y2="487.78" stroke="#111" stroke-width="1.0"/>
<line x1="32.90" y1="492.49" x2="34.20" y2="492.49" stroke="#111" stroke-width="1.0"/>
<line x1="32.90" y1="497.19" x2="34.20" y2="497.19" stroke="#111" stroke-width="1.0"/>
<line x1="31.90" y1="501.90" x2="34.20" y2="501.90" stroke="#111" stroke-width="1.1"/>
<line x1="32.90" y1="506.61" x2="34.20" y2="506.61" stroke="#111" stroke-width="1.0"/>
<line x1="32.90" y1="511.31" x2="34.20" y2="511.31" stroke="#111" stroke-width="1.0"/>
<line x1="32.90" y1="516.02" x2="34.20" y2="516.02" stroke="#111" stroke-width="1.0"/>
<line x1="32.90" y1="520.73" x2="34.20" y2="520.73" stroke="#111" stroke-width="1.0"/>
<line x1="32.90" y1="525.43" x2="34.20" y2="525.43" stroke="#111" stroke-width="1.0"/>
<line x1="32.90" y1="530.14" x2="34.20" y2="530.14" stroke="#111" stroke-width="1.0"/>
<line x1="32.90" y1="534.85" x2="34.20" y2="534.85" stroke="#111" stroke-width="1.0"/>
<line x1="32.90" y1="539.55" x2="34.20" y2="539.55" stroke="#111" stroke-width="1.0"/>
<line x1="31.90" y1="544.26" x2="34.20" y2="544.26" stroke="#111" stroke-width="1.1"/>
<line x1="32.90" y1="548.97" x2="34.20" y2="548.97" stroke="#111" stroke-width="1.0"/>
<line x1="32.90" y1="553.67" x2="34.20" y2="553.67" stroke="#111" stroke-width="1.0"/>
<line x1="32.90" y1="558.38" x2="34.20" y2="558.38" stroke="#111" stroke-width="1.0"/>
<line x1="32.90" y1="563.09" x2="34.20" y2="563.09" stroke="#111" stroke-width="1.0"/>
<text x="28.60" y="419.90" font-size="7.6" text-anchor="end" stroke="#111" stroke-width="0.1">4</text>
<text x="28.60" y="462.26" font-size="7.6" text-anchor="end" stroke="#111" stroke-width="0.1">2</text>
<text x="28.60" y="504.62" font-size="7.6" text-anchor="end" stroke="#111" stroke-width="0.1">0</text>
<text x="28.60" y="546.98" font-size="7.6" text-anchor="end" stroke="#111" stroke-width="0.1">-2</text>
<text x="14.95" y="492.79" font-size="9.2" text-anchor="middle" stroke="#111" stroke-width="0.1" textLength="63.7" lengthAdjust="spacingAndGlyphs" transform="rotate(-90 14.95 489.50)">Log2 (TPM/AveWT)</text>
<line x1="33.60" y1="565.40" x2="242.50" y2="565.40" stroke="#111" stroke-width="1.4"/>
<line x1="46.25" y1="565.40" x2="46.25" y2="568.40" stroke="#111" stroke-width="1.1"/>
<text x="49.95" y="577.00" font-size="8.5" text-anchor="end" transform="rotate(-45 49.95 577.0)">Ifng</text>
<line x1="72.60" y1="565.40" x2="72.60" y2="568.40" stroke="#111" stroke-width="1.1"/>
<text x="76.30" y="577.00" font-size="8.5" text-anchor="end" transform="rotate(-45 76.30 577.0)">IL1rl1</text>
<line x1="99.00" y1="565.40" x2="99.00" y2="568.40" stroke="#111" stroke-width="1.1"/>
<text x="102.70" y="577.00" font-size="8.5" text-anchor="end" transform="rotate(-45 102.70 577.0)">Csf2</text>
<line x1="125.30" y1="565.40" x2="125.30" y2="568.40" stroke="#111" stroke-width="1.1"/>
<text x="129.00" y="577.00" font-size="8.5" text-anchor="end" transform="rotate(-45 129.00 577.0)">Il12rb2</text>
<line x1="151.80" y1="565.40" x2="151.80" y2="568.40" stroke="#111" stroke-width="1.1"/>
<text x="155.50" y="577.00" font-size="8.5" text-anchor="end" transform="rotate(-45 155.50 577.0)">Klrg1</text>
<line x1="178.00" y1="565.40" x2="178.00" y2="568.40" stroke="#111" stroke-width="1.1"/>
<text x="181.70" y="577.00" font-size="8.5" text-anchor="end" transform="rotate(-45 181.70 577.0)">Lag3</text>
<line x1="204.40" y1="565.40" x2="204.40" y2="568.40" stroke="#111" stroke-width="1.1"/>
<text x="208.10" y="577.00" font-size="8.5" text-anchor="end" transform="rotate(-45 208.10 577.0)">Havcr2</text>
<line x1="230.80" y1="565.40" x2="230.80" y2="568.40" stroke="#111" stroke-width="1.1"/>
<text x="234.50" y="577.00" font-size="8.5" text-anchor="end" transform="rotate(-45 234.50 577.0)">Tox</text>
<line x1="34.20" y1="501.90" x2="240.50" y2="501.90" stroke="#555" stroke-width="1.0" stroke-dasharray="1.1 1.2"/>
<rect x="43.70" y="466.60" width="5.10" height="35.30" fill="#97a1d0" rx="0.6"/>
<rect x="49.35" y="459.40" width="5.20" height="42.50" fill="#e9827c" rx="0.4"/>
<rect x="70.05" y="462.50" width="5.10" height="39.40" fill="#97a1d0" rx="0.6"/>
<rect x="75.70" y="486.40" width="5.20" height="15.50" fill="#e9827c" rx="0.4"/>
<rect x="96.45" y="440.80" width="5.10" height="61.10" fill="#97a1d0" rx="0.6"/>
<rect x="102.10" y="501.90" width="5.20" height="25.60" fill="#e9827c" rx="0.4"/>
<rect x="122.75" y="487.30" width="5.10" height="14.60" fill="#97a1d0" rx="0.6"/>
<rect x="128.40" y="501.90" width="5.20" height="26.30" fill="#e9827c" rx="0.4"/>
<rect x="149.25" y="501.00" width="5.10" height="0.90" fill="#97a1d0" rx="0.6"/>
<rect x="154.90" y="501.90" width="5.20" height="48.80" fill="#e9827c" rx="0.4"/>
<rect x="175.45" y="501.90" width="5.10" height="3.90" fill="#97a1d0" rx="0.6"/>
<rect x="181.10" y="441.30" width="5.20" height="60.60" fill="#e9827c" rx="0.4"/>
<rect x="201.85" y="501.90" width="5.10" height="2.60" fill="#97a1d0" rx="0.6"/>
<rect x="207.50" y="477.40" width="5.20" height="24.50" fill="#e9827c" rx="0.4"/>
<rect x="228.25" y="491.60" width="5.10" height="10.30" fill="#97a1d0" rx="0.6"/>
<rect x="233.90" y="452.80" width="5.20" height="49.10" fill="#e9827c" rx="0.4"/>
<circle cx="39.95" cy="489.20" r="1.5" fill="#5aa532"/>
<circle cx="39.95" cy="514.70" r="1.5" fill="#5aa532"/>
<circle cx="46.25" cy="460.10" r="1.5" fill="#2b3a99"/>
<circle cx="46.25" cy="466.60" r="1.5" fill="#2b3a99"/>
<circle cx="46.25" cy="500.00" r="1.5" fill="#2b3a99"/>
<circle cx="52.05" cy="458.00" r="1.5" fill="#cc1c17"/>
<circle cx="52.05" cy="459.80" r="1.5" fill="#cc1c17"/>
<circle cx="66.30" cy="494.40" r="1.5" fill="#5aa532"/>
<circle cx="66.30" cy="509.00" r="1.5" fill="#5aa532"/>
<circle cx="72.60" cy="459.40" r="1.5" fill="#2b3a99"/>
<circle cx="72.60" cy="462.50" r="1.5" fill="#2b3a99"/>
<circle cx="72.60" cy="465.50" r="1.5" fill="#2b3a99"/>
<circle cx="78.40" cy="472.90" r="1.5" fill="#cc1c17"/>
<circle cx="78.40" cy="499.70" r="1.5" fill="#cc1c17"/>
<circle cx="92.70" cy="481.60" r="1.5" fill="#5aa532"/>
<circle cx="92.70" cy="522.40" r="1.5" fill="#5aa532"/>
<circle cx="99.00" cy="428.50" r="1.5" fill="#2b3a99"/>
<circle cx="99.00" cy="440.80" r="1.5" fill="#2b3a99"/>
<circle cx="99.00" cy="445.10" r="1.5" fill="#2b3a99"/>
<circle cx="104.80" cy="528.20" r="1.5" fill="#cc1c17"/>
<circle cx="119.00" cy="496.90" r="1.5" fill="#5aa532"/>
<circle cx="119.00" cy="507.00" r="1.5" fill="#5aa532"/>
<circle cx="125.30" cy="485.40" r="1.5" fill="#2b3a99"/>
<circle cx="125.30" cy="493.30" r="1.5" fill="#2b3a99"/>
<circle cx="131.10" cy="516.50" r="1.5" fill="#cc1c17"/>
<circle cx="131.10" cy="540.50" r="1.5" fill="#cc1c17"/>
<circle cx="145.50" cy="499.40" r="1.5" fill="#5aa532"/>
<circle cx="145.50" cy="504.00" r="1.5" fill="#5aa532"/>
<circle cx="151.80" cy="484.10" r="1.5" fill="#2b3a99"/>
<circle cx="151.80" cy="498.90" r="1.5" fill="#2b3a99"/>
<circle cx="151.80" cy="502.00" r="1.5" fill="#2b3a99"/>
<circle cx="157.60" cy="539.70" r="1.5" fill="#cc1c17"/>
<circle cx="157.60" cy="562.00" r="1.5" fill="#cc1c17"/>
<circle cx="171.70" cy="484.10" r="1.5" fill="#5aa532"/>
<circle cx="171.70" cy="519.80" r="1.5" fill="#5aa532"/>
<circle cx="178.00" cy="497.10" r="1.5" fill="#2b3a99"/>
<circle cx="178.00" cy="505.80" r="1.5" fill="#2b3a99"/>
<circle cx="178.00" cy="509.60" r="1.5" fill="#2b3a99"/>
<circle cx="183.80" cy="440.30" r="1.5" fill="#cc1c17"/>
<circle cx="183.80" cy="441.50" r="1.5" fill="#cc1c17"/>
<circle cx="198.10" cy="492.50" r="1.5" fill="#5aa532"/>
<circle cx="198.10" cy="510.90" r="1.5" fill="#5aa532"/>
<circle cx="204.40" cy="496.90" r="1.5" fill="#2b3a99"/>
<circle cx="204.40" cy="504.00" r="1.5" fill="#2b3a99"/>
<circle cx="204.40" cy="505.00" r="1.5" fill="#2b3a99"/>
<circle cx="210.20" cy="474.70" r="1.5" fill="#cc1c17"/>
<circle cx="210.20" cy="477.70" r="1.5" fill="#cc1c17"/>
<circle cx="224.50" cy="479.00" r="1.5" fill="#5aa532"/>
<circle cx="224.50" cy="524.90" r="1.5" fill="#5aa532"/>
<circle cx="230.80" cy="489.20" r="1.5" fill="#2b3a99"/>
<circle cx="230.80" cy="491.00" r="1.5" fill="#2b3a99"/>
<circle cx="230.80" cy="500.70" r="1.5" fill="#2b3a99"/>
<circle cx="236.60" cy="448.40" r="1.5" fill="#cc1c17"/>
<circle cx="236.60" cy="455.60" r="1.5" fill="#cc1c17"/>
<text x="265.30" y="354.97" font-size="9.4" stroke="#111" stroke-width="0.1">(ii)</text>
<text x="369.60" y="346.01" font-size="8.4" text-anchor="middle" stroke="#111" stroke-width="0.1" textLength="78.8" lengthAdjust="spacingAndGlyphs">Il18tg vs. Prf1-/- (298)</text>
<defs><clipPath id="cp"><circle cx="370" cy="388.3" r="37.6"/></clipPath><clipPath id="cy"><circle cx="352.5" cy="417" r="35"/></clipPath><clipPath id="cb"><circle cx="394.7" cy="416.4" r="26.3"/></clipPath></defs>
<circle cx="370.00" cy="388.30" r="37.6" fill="#de74b9"/>
<circle cx="352.50" cy="417.00" r="35" fill="#f3dc8e"/>
<circle cx="394.70" cy="416.40" r="26.3" fill="#909fc4"/>
<circle cx="352.5" cy="417" r="35" fill="#e8a06f" clip-path="url(#cp)"/>
<circle cx="394.7" cy="416.4" r="26.3" fill="#8b5ea0" clip-path="url(#cp)"/>
<circle cx="394.7" cy="416.4" r="26.3" fill="#a29d80" clip-path="url(#cy)"/>
<g clip-path="url(#cp)"><circle cx="394.7" cy="416.4" r="26.3" fill="#96796f" clip-path="url(#cy)"/></g>
<text x="370.50" y="372.14" font-size="8.2" text-anchor="middle" fill="#222" stroke="#222" stroke-width="0.1">114</text>
<text x="352.70" y="404.44" font-size="8.2" text-anchor="middle" fill="#222" stroke="#222" stroke-width="0.1">118</text>
<text x="394.20" y="404.44" font-size="8.2" text-anchor="middle" fill="#222" stroke="#222" stroke-width="0.1">53</text>
<text x="377.40" y="414.94" font-size="8.2" text-anchor="middle" fill="#222" stroke="#222" stroke-width="0.1">13</text>
<text x="343.00" y="433.34" font-size="8.2" text-anchor="middle" fill="#222" stroke="#222" stroke-width="0.1">90</text>
<text x="378.80" y="432.94" font-size="8.2" text-anchor="middle" fill="#222" stroke="#222" stroke-width="0.1">30</text>
<text x="404.20" y="426.44" font-size="8.2" text-anchor="middle" fill="#222" stroke="#222" stroke-width="0.1">53</text>
<text x="382.70" y="453.31" font-size="8.4" stroke="#111" stroke-width="0.1" textLength="68.4" lengthAdjust="spacingAndGlyphs">WT vs. Il18tg (149)</text>
<text x="313.50" y="461.11" font-size="8.4" stroke="#111" stroke-width="0.1" textLength="65.6" lengthAdjust="spacingAndGlyphs">WT vs. Prf-/- (251)</text>
<text x="264.90" y="493.67" font-size="9.4" stroke="#111" stroke-width="0.1">(iii)</text>
<text x="400.00" y="486.72" font-size="9.0" text-anchor="middle" stroke="#111" stroke-width="0.1" textLength="73.0" lengthAdjust="spacingAndGlyphs">Prf1-/- vs Il18tg:</text>
<text x="398.10" y="498.42" font-size="9.0" text-anchor="middle" stroke="#111" stroke-width="0.1" textLength="165.4" lengthAdjust="spacingAndGlyphs">Exhausted vs Memory CD8 T-cell (Up)</text>
<line x1="308.40" y1="569.37" x2="488.00" y2="569.37" stroke="#f3f3f3" stroke-width="0.6"/>
<line x1="308.40" y1="558.34" x2="488.00" y2="558.34" stroke="#f3f3f3" stroke-width="0.6"/>
<line x1="308.40" y1="547.31" x2="488.00" y2="547.31" stroke="#f3f3f3" stroke-width="0.6"/>
<line x1="308.40" y1="536.28" x2="488.00" y2="536.28" stroke="#f3f3f3" stroke-width="0.6"/>
<line x1="308.40" y1="525.25" x2="488.00" y2="525.25" stroke="#f3f3f3" stroke-width="0.6"/>
<line x1="308.40" y1="514.22" x2="488.00" y2="514.22" stroke="#f3f3f3" stroke-width="0.6"/>
<line x1="327.70" y1="504.40" x2="327.70" y2="580.40" stroke="#f3f3f3" stroke-width="0.6"/>
<line x1="346.90" y1="504.40" x2="346.90" y2="580.40" stroke="#f3f3f3" stroke-width="0.6"/>
<line x1="366.50" y1="504.40" x2="366.50" y2="580.40" stroke="#f3f3f3" stroke-width="0.6"/>
<line x1="385.80" y1="504.40" x2="385.80" y2="580.40" stroke="#f3f3f3" stroke-width="0.6"/>
<line x1="405.20" y1="504.40" x2="405.20" y2="580.40" stroke="#f3f3f3" stroke-width="0.6"/>
<line x1="424.60" y1="504.40" x2="424.60" y2="580.40" stroke="#f3f3f3" stroke-width="0.6"/>
<line x1="444.00" y1="504.40" x2="444.00" y2="580.40" stroke="#f3f3f3" stroke-width="0.6"/>
<line x1="463.40" y1="504.40" x2="463.40" y2="580.40" stroke="#f3f3f3" stroke-width="0.6"/>
<line x1="482.80" y1="504.40" x2="482.80" y2="580.40" stroke="#f3f3f3" stroke-width="0.6"/>
<line x1="308.40" y1="605.50" x2="488.00" y2="605.50" stroke="#e4e4e4" stroke-width="0.6"/>
<line x1="308.40" y1="612.60" x2="488.00" y2="612.60" stroke="#e4e4e4" stroke-width="0.6"/>
<line x1="308.40" y1="580.40" x2="488.00" y2="580.40" stroke="#dcdcdc" stroke-width="0.6"/>
<line x1="305.10" y1="580.40" x2="308.40" y2="580.40" stroke="#111" stroke-width="1.1"/>
<text x="302.60" y="583.48" font-size="8.6" text-anchor="end" fill="#222" stroke="#222" stroke-width="0.1" textLength="12.0" lengthAdjust="spacingAndGlyphs">0.0</text>
<line x1="305.10" y1="569.37" x2="308.40" y2="569.37" stroke="#111" stroke-width="1.1"/>
<text x="302.60" y="572.45" font-size="8.6" text-anchor="end" fill="#222" stroke="#222" stroke-width="0.1" textLength="12.0" lengthAdjust="spacingAndGlyphs">0.1</text>
<line x1="305.10" y1="558.34" x2="308.40" y2="558.34" stroke="#111" stroke-width="1.1"/>
<text x="302.60" y="561.42" font-size="8.6" text-anchor="end" fill="#222" stroke="#222" stroke-width="0.1" textLength="12.0" lengthAdjust="spacingAndGlyphs">0.2</text>
<line x1="305.10" y1="547.31" x2="308.40" y2="547.31" stroke="#111" stroke-width="1.1"/>
<text x="302.60" y="550.39" font-size="8.6" text-anchor="end" fill="#222" stroke="#222" stroke-width="0.1" textLength="12.0" lengthAdjust="spacingAndGlyphs">0.3</text>
<line x1="305.10" y1="536.28" x2="308.40" y2="536.28" stroke="#111" stroke-width="1.1"/>
<text x="302.60" y="539.36" font-size="8.6" text-anchor="end" fill="#222" stroke="#222" stroke-width="0.1" textLength="12.0" lengthAdjust="spacingAndGlyphs">0.4</text>
<line x1="305.10" y1="525.25" x2="308.40" y2="525.25" stroke="#111" stroke-width="1.1"/>
<text x="302.60" y="528.33" font-size="8.6" text-anchor="end" fill="#222" stroke="#222" stroke-width="0.1" textLength="12.0" lengthAdjust="spacingAndGlyphs">0.5</text>
<line x1="305.10" y1="514.22" x2="308.40" y2="514.22" stroke="#111" stroke-width="1.1"/>
<text x="302.60" y="517.30" font-size="8.6" text-anchor="end" fill="#222" stroke="#222" stroke-width="0.1" textLength="12.0" lengthAdjust="spacingAndGlyphs">0.6</text>
<text x="281.45" y="550.54" font-size="9.9" text-anchor="middle" stroke="#111" stroke-width="0.1" textLength="59.6" lengthAdjust="spacingAndGlyphs" transform="rotate(-90 281.45 547.00)">Enrichment score</text>
<rect x="309.40" y="581.30" width="4.80" height="23.70" fill="#232323"/>
<rect x="314.10" y="581.30" width="3.00" height="23.70" fill="#8a8a8a"/>
<rect x="314.20" y="581.30" width="0.80" height="23.70" fill="#555"/>
<rect x="316.80" y="581.30" width="1.00" height="23.70" fill="#666"/>
<rect x="319.00" y="581.30" width="1.00" height="23.70" fill="#999"/>
<rect x="321.40" y="581.30" width="1.00" height="23.70" fill="#aaa"/>
<rect x="323.30" y="581.30" width="1.00" height="23.70" fill="#c4c4c4"/>
<rect x="325.20" y="581.30" width="1.00" height="23.70" fill="#888"/>
<rect x="326.80" y="581.30" width="1.00" height="23.70" fill="#1a1a1a"/>
<rect x="328.50" y="581.30" width="1.00" height="23.70" fill="#999"/>
<rect x="330.70" y="581.30" width="1.00" height="23.70" fill="#c8c8c8"/>
<rect x="333.80" y="581.30" width="1.20" height="23.70" fill="#999"/>
<rect x="335.40" y="581.30" width="0.80" height="23.70" fill="#c8c8c8"/>
<rect x="336.30" y="581.30" width="1.00" height="23.70" fill="#888"/>
<rect x="338.70" y="581.30" width="1.00" height="23.70" fill="#444"/>
<rect x="340.60" y="581.30" width="1.00" height="23.70" fill="#aaa"/>
<rect x="342.30" y="581.30" width="0.80" height="23.70" fill="#c8c8c8"/>
<rect x="344.20" y="581.30" width="1.00" height="23.70" fill="#666"/>
<rect x="351.70" y="581.30" width="1.00" height="23.70" fill="#888"/>
<rect x="352.80" y="581.30" width="1.00" height="23.70" fill="#444"/>
<rect x="354.50" y="581.30" width="1.00" height="23.70" fill="#999"/>
<rect x="357.80" y="581.30" width="1.00" height="23.70" fill="#555"/>
<rect x="360.20" y="581.30" width="1.00" height="23.70" fill="#999"/>
<rect x="361.70" y="581.30" width="2.00" height="23.70" fill="#c4c4c4"/>
<rect x="364.25" y="581.30" width="1.10" height="23.70" fill="#1a1a1a"/>
<rect x="371.30" y="581.30" width="1.00" height="23.70" fill="#999"/>
<rect x="373.20" y="581.30" width="1.00" height="23.70" fill="#666"/>
<rect x="374.80" y="581.30" width="2.20" height="23.70" fill="#c8c8c8"/>
<rect x="379.90" y="581.30" width="1.00" height="23.70" fill="#555"/>
<rect x="387.20" y="581.30" width="1.00" height="23.70" fill="#555"/>
<rect x="390.00" y="581.30" width="1.00" height="23.70" fill="#999"/>
<rect x="397.30" y="581.30" width="1.00" height="23.70" fill="#555"/>
<rect x="399.50" y="581.30" width="1.00" height="23.70" fill="#999"/>
<rect x="402.50" y="581.30" width="1.00" height="23.70" fill="#999"/>
<rect x="403.50" y="581.30" width="1.80" height="23.70" fill="#888"/>
<rect x="407.80" y="581.30" width="1.00" height="23.70" fill="#555"/>
<rect x="413.50" y="581.30" width="1.00" height="23.70" fill="#b0b0b0"/>
<rect x="418.00" y="581.30" width="1.00" height="23.70" fill="#1a1a1a"/>
<rect x="421.80" y="581.30" width="1.80" height="23.70" fill="#777"/>
<rect x="424.60" y="581.30" width="1.00" height="23.70" fill="#aaa"/>
<rect x="426.65" y="581.30" width="1.10" height="23.70" fill="#111"/>
<rect x="429.60" y="581.30" width="1.00" height="23.70" fill="#888"/>
<rect x="438.00" y="581.30" width="1.00" height="23.70" fill="#333"/>
<rect x="447.50" y="581.30" width="3.20" height="23.70" fill="#555"/>
<rect x="452.05" y="581.30" width="0.90" height="23.70" fill="#999"/>
<rect x="453.65" y="581.30" width="0.90" height="23.70" fill="#888"/>
<rect x="457.05" y="581.30" width="1.90" height="23.70" fill="#aaa"/>
<rect x="462.00" y="581.30" width="1.00" height="23.70" fill="#555"/>
<rect x="465.50" y="581.30" width="1.60" height="23.70" fill="#555"/>
<rect x="471.60" y="581.30" width="1.00" height="23.70" fill="#555"/>
<rect x="309.00" y="605.80" width="13.00" height="5.80" fill="#b8343f"/>
<rect x="322.00" y="605.80" width="14.00" height="5.80" fill="#bc3d4c"/>
<rect x="336.00" y="605.80" width="12.60" height="5.80" fill="#c25a7c"/>
<rect x="348.60" y="605.80" width="9.40" height="5.80" fill="#cc7f8e"/>
<rect x="358.00" y="605.80" width="8.60" height="5.80" fill="#d28f9c"/>
<rect x="366.60" y="605.80" width="11.40" height="5.80" fill="#e6c6e2"/>
<rect x="378.00" y="605.80" width="12.50" height="5.80" fill="#e8d2ea"/>
<rect x="390.50" y="605.80" width="19.50" height="5.80" fill="#dddaf0"/>
<rect x="410.00" y="605.80" width="20.80" height="5.80" fill="#d4d0ec"/>
<rect x="430.80" y="605.80" width="15.40" height="5.80" fill="#7d72bc"/>
<rect x="446.20" y="605.80" width="33.00" height="5.80" fill="#51439f"/>
<text x="310.80" y="617.05" font-size="4.6" fill="#d03a3a" stroke="#d03a3a" stroke-width="0.1" textLength="46.0" lengthAdjust="spacingAndGlyphs">‘1’ (positively correlated)</text>
<path d="M308.50,580.40 L308.70,576.90 L309.20,557.70 L310.40,542.30 L311.70,528.80 L313.70,518.30 L315.60,513.50 L318.50,509.20 L321.30,508.30 L324.20,508.70 L328.10,507.70 L333.80,509.20 L343.50,513.80 L352.10,519.20 L358.80,522.70 L366.50,526.00 L374.20,530.80 L381.90,535.60 L389.60,540.80 L397.30,545.80 L405.00,550.40 L411.50,555.00 L423.00,561.90 L428.80,563.10 L434.60,566.50 L446.20,573.00 L450.80,574.60 L457.70,575.80 L463.50,577.60 L466.90,575.80 L469.20,577.40 L473.40,575.80 L479.60,579.90" stroke="#86b62a" stroke-width="1.3" fill="none" stroke-linejoin="round"/>
<rect x="308.40" y="504.40" width="179.60" height="115.80" fill="none" stroke="#111" stroke-width="1.2"/>
<text x="447.30" y="513.92" font-size="7.6" fill="#222" stroke="#222" stroke-width="0.1" textLength="33.9" lengthAdjust="spacingAndGlyphs">NES=2.47</text>
<text x="447.30" y="522.42" font-size="7.6" fill="#222" stroke="#222" stroke-width="0.1" textLength="23.0" lengthAdjust="spacingAndGlyphs">FDR=0</text>
</svg></div></body></html>
